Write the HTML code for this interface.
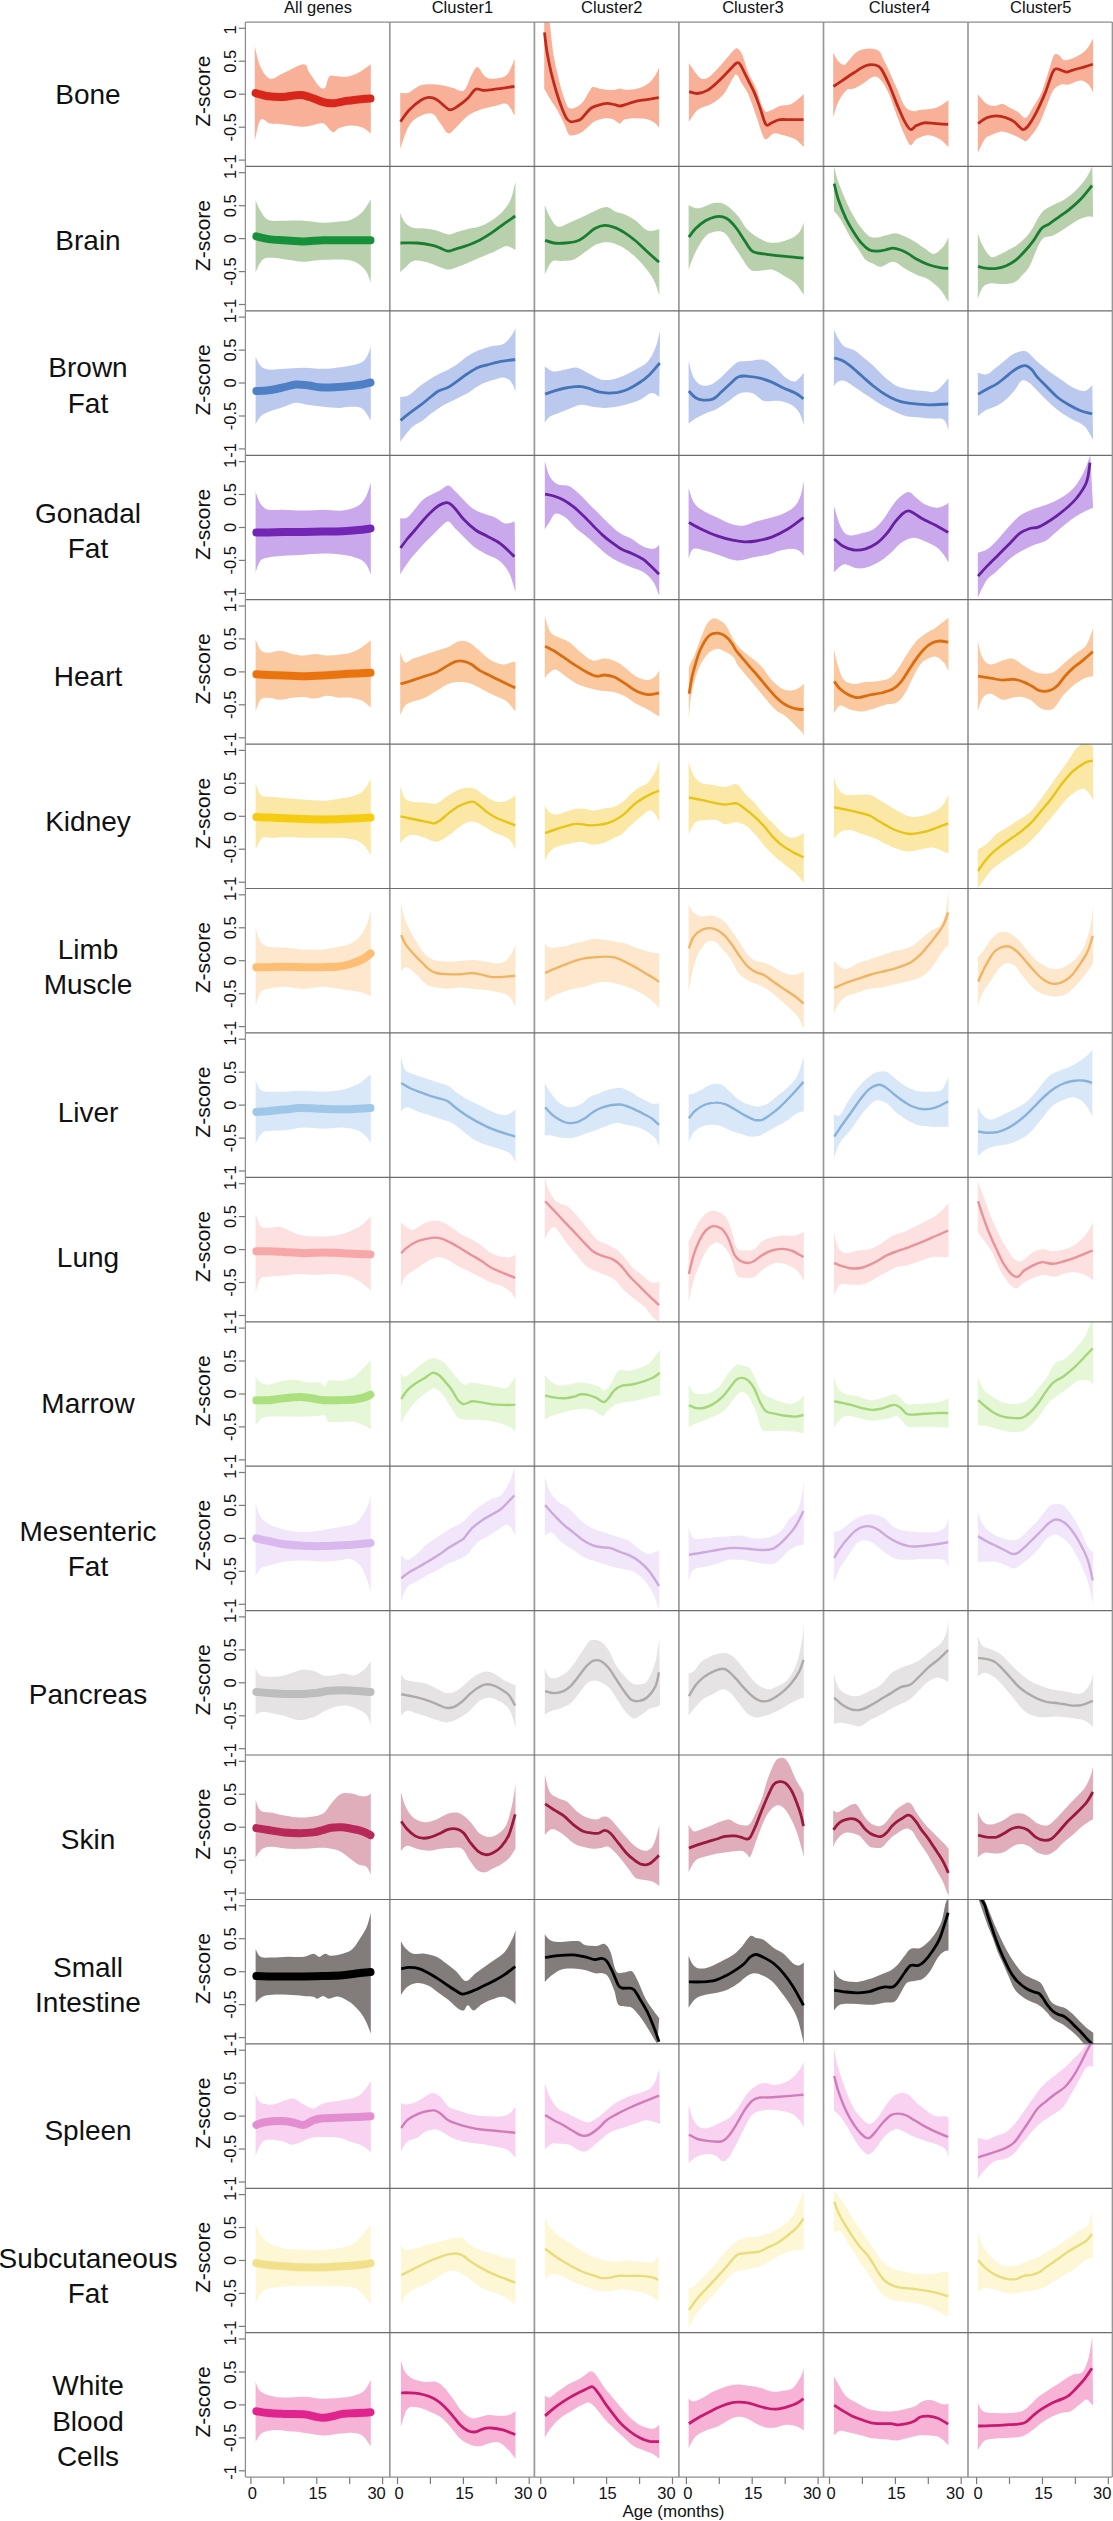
<!DOCTYPE html>
<html><head><meta charset="utf-8"><style>
html,body{margin:0;padding:0;background:#fff;width:1113px;height:2521px;overflow:hidden}
svg{display:block}
</style></head><body>
<svg width="1113" height="2521" viewBox="0 0 1113 2521">
<rect width="1113" height="2521" fill="#fff"/>
<clipPath id="k0_0"><rect x="245.4" y="22.0" width="144.4" height="144.4"/></clipPath>
<g clip-path="url(#k0_0)">
<path d="M254.8 46.2 C255.7 49.7 258.0 61.5 260.6 66.9 C263.2 72.4 266.5 77.7 270.4 78.7 C274.3 79.6 278.5 75.2 284.1 72.8 C289.6 70.4 299.4 64.2 303.6 64.2 C307.9 64.2 306.9 69.1 309.5 72.8 C312.1 76.5 316.7 84.0 319.3 86.5 C321.9 89.0 323.5 89.3 325.1 87.7 C326.7 86.0 327.4 78.7 329.0 76.7 C330.7 74.8 332.0 75.9 334.9 75.9 C337.8 75.9 342.7 77.2 346.6 76.7 C350.5 76.2 354.3 74.9 358.3 72.8 C362.4 70.7 368.8 65.6 370.8 64.2 L370.8 133.4 C369.4 132.4 365.6 128.8 362.3 127.5 C358.9 126.2 354.4 125.4 350.5 125.6 C346.6 125.7 341.7 127.2 338.8 128.3 C335.9 129.4 335.2 132.9 332.9 132.2 C330.7 131.6 327.4 125.8 325.1 124.4 C322.8 123.0 322.8 123.2 319.3 123.6 C315.7 124.0 309.5 126.6 303.6 126.7 C297.8 126.9 289.6 124.9 284.1 124.4 C278.5 123.9 274.3 124.4 270.4 123.6 C266.5 122.8 263.2 116.8 260.6 119.7 C258.0 122.6 255.7 137.6 254.8 141.2 Z" fill="#f8b198"/>
<path d="M255.6 93.1 C257.7 93.7 264.0 95.6 268.5 96.3 C272.9 96.9 276.9 97.2 282.1 97.0 C287.3 96.8 295.2 95.1 299.7 95.1 C304.3 95.1 305.6 95.9 309.5 97.0 C313.4 98.2 319.3 101.1 323.2 102.1 C327.1 103.2 329.0 103.5 332.9 103.3 C336.8 103.1 342.4 101.6 346.6 100.9 C350.9 100.3 354.4 99.8 358.3 99.4 C362.3 99.0 368.5 98.7 370.5 98.6" fill="none" stroke="#d8261a" stroke-width="8.0" stroke-linecap="round" stroke-linejoin="round"/>
</g>
<clipPath id="k0_1"><rect x="389.8" y="22.0" width="144.6" height="144.4"/></clipPath>
<g clip-path="url(#k0_1)">
<path d="M400.2 93.1 C401.7 93.0 405.7 93.7 409.2 92.4 C412.6 91.0 416.3 86.6 420.9 85.3 C425.4 84.0 431.3 84.1 436.5 84.5 C441.7 84.9 447.6 86.7 452.1 87.7 C456.7 88.6 460.6 92.5 463.9 90.4 C467.1 88.2 469.4 78.7 471.7 74.8 C474.0 70.9 475.3 66.6 477.5 66.9 C479.8 67.3 482.4 74.8 485.4 76.7 C488.3 78.7 491.6 79.0 495.1 78.7 C498.7 78.3 503.6 78.0 506.9 74.8 C510.1 71.5 513.4 61.7 514.7 59.1 L514.7 115.8 C513.4 113.8 510.1 105.7 506.9 104.1 C503.6 102.4 499.7 105.1 495.1 106.0 C490.6 107.0 484.1 108.3 479.5 109.9 C474.9 111.6 471.7 112.9 467.8 115.8 C463.9 118.7 459.3 124.6 456.1 127.5 C452.8 130.5 450.8 134.0 448.2 133.4 C445.6 132.7 443.0 126.9 440.4 123.6 C437.8 120.4 435.9 115.1 432.6 113.8 C429.3 112.5 424.8 113.8 420.9 115.8 C417.0 117.8 412.6 120.0 409.2 125.6 C405.7 131.1 401.7 145.1 400.2 149.0 Z" fill="#f8b198"/>
<path d="M400.5 121.7 C401.9 119.7 405.7 113.5 409.2 109.9 C412.6 106.4 417.6 102.3 420.9 100.2 C424.1 98.1 426.1 97.6 428.7 97.4 C431.3 97.3 433.9 98.0 436.5 99.4 C439.1 100.8 442.0 104.3 444.3 106.0 C446.6 107.8 447.9 109.9 450.2 109.9 C452.5 109.9 455.1 108.0 458.0 106.0 C460.9 104.1 464.8 101.0 467.8 98.2 C470.7 95.4 473.0 90.5 475.6 89.2 C478.2 87.9 480.2 90.4 483.4 90.4 C486.7 90.4 490.0 89.9 495.1 89.2 C500.3 88.6 511.2 86.9 514.4 86.5" fill="none" stroke="#bf2a1c" stroke-width="2.8" stroke-linecap="butt" stroke-linejoin="round"/>
</g>
<clipPath id="k0_2"><rect x="534.4" y="22.0" width="144.5" height="144.4"/></clipPath>
<g clip-path="url(#k0_2)">
<path d="M544.2 19.4 C545.0 19.4 547.4 13.5 549.0 19.4 C550.5 25.3 551.7 43.7 553.5 54.6 C555.4 65.4 558.0 76.5 560.1 84.5 C562.1 92.6 564.4 98.9 565.9 102.8 C567.4 106.7 567.8 107.1 569.2 108.0 C570.6 108.9 572.2 108.9 574.4 108.0 C576.6 107.1 579.8 105.4 582.2 102.8 C584.6 100.2 587.0 95.0 588.7 92.4 C590.5 89.7 590.9 87.8 592.6 87.1 C594.4 86.5 596.8 88.0 599.1 88.4 C601.5 88.9 604.4 89.5 607.0 89.7 C609.6 90.0 612.6 90.0 614.8 89.7 C616.9 89.5 618.2 88.4 620.0 88.4 C621.7 88.4 622.2 89.7 625.2 89.7 C628.2 89.7 634.3 89.5 638.2 88.4 C642.1 87.4 645.8 85.4 648.6 83.2 C651.5 81.1 653.4 78.0 655.2 75.4 C656.9 72.8 658.4 68.9 659.1 67.6 L659.1 127.5 C658.2 126.7 656.0 123.7 653.9 122.3 C651.7 120.9 648.6 119.7 646.0 119.1 C643.4 118.4 640.8 118.5 638.2 118.4 C635.6 118.3 632.8 118.2 630.4 118.4 C628.0 118.6 625.6 118.8 623.9 119.7 C622.2 120.6 621.1 123.2 620.0 123.6 C618.9 124.1 618.7 123.1 617.4 122.3 C616.1 121.6 614.3 119.7 612.2 119.1 C610.0 118.4 607.2 118.1 604.4 118.4 C601.5 118.7 597.8 119.7 595.2 121.0 C592.6 122.3 591.1 124.3 588.7 126.2 C586.3 128.2 583.5 131.2 580.9 132.7 C578.3 134.3 575.1 135.1 573.1 135.3 C571.0 135.6 570.0 136.0 568.5 134.0 C567.0 132.1 565.8 127.5 564.0 123.6 C562.1 119.7 559.6 114.5 557.5 110.6 C555.3 106.7 553.2 103.9 550.9 100.2 C548.7 96.5 545.3 90.4 544.2 88.4 Z" fill="#f8b198"/>
<path d="M544.5 32.4 C544.9 35.7 545.9 45.5 547.0 52.0 C548.1 58.5 549.4 65.0 550.9 71.5 C552.5 78.0 554.4 85.2 556.1 91.0 C557.9 96.9 559.6 102.1 561.4 106.7 C563.1 111.2 565.0 115.9 566.6 118.4 C568.1 120.9 569.0 121.2 570.5 121.7 C572.0 122.1 574.0 121.4 575.7 121.0 C577.4 120.6 579.2 120.4 580.9 119.1 C582.6 117.8 584.4 115.0 586.1 113.2 C587.8 111.3 589.4 109.3 591.3 108.0 C593.3 106.7 595.2 106.1 597.8 105.4 C600.4 104.6 604.1 103.5 607.0 103.4 C609.8 103.3 612.6 104.3 614.8 104.7 C616.9 105.2 618.2 106.0 620.0 106.0 C621.7 106.0 623.0 105.4 625.2 104.7 C627.4 104.1 630.2 102.9 633.0 102.1 C635.8 101.4 639.1 100.7 642.1 100.2 C645.2 99.6 648.5 99.3 651.3 98.9 C654.0 98.4 657.5 97.8 658.8 97.6" fill="none" stroke="#bf2a1c" stroke-width="2.8" stroke-linecap="butt" stroke-linejoin="round"/>
</g>
<clipPath id="k0_3"><rect x="678.9" y="22.0" width="144.6" height="144.4"/></clipPath>
<g clip-path="url(#k0_3)">
<path d="M688.9 63.0 C690.1 64.7 693.5 70.2 695.6 72.8 C697.7 75.4 699.2 78.0 701.5 78.7 C703.7 79.3 706.0 79.0 709.3 76.7 C712.5 74.4 717.1 69.2 721.0 65.0 C724.9 60.8 730.0 54.0 732.7 51.3 C735.5 48.6 735.8 47.9 737.4 48.6 C739.0 49.2 740.7 51.2 742.5 55.2 C744.3 59.3 746.1 67.3 748.4 72.8 C750.6 78.3 753.6 82.3 756.2 88.4 C758.8 94.6 761.4 106.4 764.0 109.9 C766.6 113.5 769.2 110.6 771.8 109.9 C774.4 109.3 776.4 107.0 779.6 106.0 C782.9 105.1 787.3 106.0 791.3 104.1 C795.4 102.1 801.8 95.9 803.8 94.3 L803.8 147.1 C802.4 145.8 798.6 141.2 795.3 139.3 C791.9 137.3 787.1 136.3 783.5 135.3 C779.9 134.4 776.7 132.7 773.8 133.4 C770.8 134.0 767.9 139.3 765.9 139.3 C764.0 139.3 763.7 137.3 762.0 133.4 C760.4 129.5 758.4 122.3 756.2 115.8 C753.9 109.3 750.6 99.5 748.4 94.3 C746.1 89.1 744.4 87.8 742.5 84.5 C740.5 81.3 738.3 75.7 736.6 74.8 C735.0 73.8 734.7 75.7 732.7 78.7 C730.8 81.6 727.5 88.8 724.9 92.4 C722.3 95.9 719.7 98.1 717.1 100.2 C714.5 102.3 712.5 103.2 709.3 104.9 C706.0 106.5 700.9 107.1 697.5 109.9 C694.2 112.7 690.4 119.7 688.9 121.7 Z" fill="#f8b198"/>
<path d="M689.2 91.6 C690.6 91.9 694.5 93.7 697.5 93.5 C700.6 93.3 704.1 92.2 707.3 90.4 C710.6 88.6 713.8 85.5 717.1 82.6 C720.3 79.6 723.6 76.1 726.9 72.8 C730.1 69.6 734.3 64.3 736.6 63.0 C738.9 61.7 738.9 62.7 740.5 65.0 C742.2 67.3 744.1 72.2 746.4 76.7 C748.7 81.3 751.9 87.1 754.2 92.4 C756.5 97.6 758.1 102.6 760.1 108.0 C762.0 113.3 764.0 121.9 765.9 124.4 C767.9 126.9 769.5 123.6 771.8 122.8 C774.1 122.1 776.4 120.2 779.6 119.7 C782.9 119.2 787.4 119.7 791.3 119.7 C795.3 119.7 801.5 119.7 803.5 119.7" fill="none" stroke="#bf2a1c" stroke-width="2.8" stroke-linecap="butt" stroke-linejoin="round"/>
</g>
<clipPath id="k0_4"><rect x="823.5" y="22.0" width="144.5" height="144.4"/></clipPath>
<g clip-path="url(#k0_4)">
<path d="M833.2 52.5 C834.0 53.9 836.4 59.0 838.2 61.1 C840.1 63.2 842.2 65.3 844.1 65.0 C846.1 64.7 847.7 61.4 850.0 59.1 C852.2 56.8 854.5 53.1 857.8 51.3 C861.0 49.6 865.9 48.6 869.5 48.6 C873.1 48.6 877.0 49.6 879.3 51.3 C881.6 53.1 881.6 55.9 883.2 59.1 C884.8 62.4 886.8 66.0 889.1 70.9 C891.3 75.7 894.3 82.6 896.9 88.4 C899.5 94.3 902.1 102.3 904.7 106.0 C907.3 109.8 909.9 110.5 912.5 111.1 C915.1 111.8 917.1 110.3 920.3 109.9 C923.6 109.5 928.8 109.4 932.0 108.8 C935.3 108.1 937.1 107.5 939.9 106.0 C942.6 104.6 947.0 101.1 948.5 100.2 L948.5 147.1 C947.0 145.8 943.2 141.2 939.9 139.3 C936.5 137.3 932.0 135.3 928.1 135.3 C924.2 135.3 919.3 137.6 916.4 139.3 C913.5 140.9 912.5 145.8 910.5 145.1 C908.6 144.5 907.0 140.2 904.7 135.3 C902.4 130.5 899.5 122.6 896.9 115.8 C894.3 109.0 891.7 100.2 889.1 94.3 C886.4 88.4 883.8 83.6 881.2 80.6 C878.6 77.7 876.7 76.1 873.4 76.7 C870.2 77.4 864.9 82.6 861.7 84.5 C858.4 86.5 856.5 87.5 853.9 88.4 C851.3 89.4 848.7 88.1 846.1 90.4 C843.5 92.7 840.4 97.6 838.2 102.1 C836.1 106.7 834.0 115.1 833.2 117.8 Z" fill="#f8b198"/>
<path d="M833.5 86.5 C834.9 85.5 838.7 82.9 842.2 80.6 C845.6 78.3 850.0 75.3 853.9 72.8 C857.8 70.3 862.0 67.1 865.6 65.8 C869.2 64.5 872.8 64.5 875.4 65.0 C878.0 65.5 879.0 65.6 881.2 68.9 C883.5 72.2 886.4 78.7 889.1 84.5 C891.7 90.4 894.3 97.9 896.9 104.1 C899.5 110.3 902.4 117.4 904.7 121.7 C907.0 125.9 908.6 128.8 910.5 129.5 C912.5 130.1 914.1 126.7 916.4 125.6 C918.7 124.5 921.0 123.2 924.2 122.8 C927.5 122.5 932.0 123.4 936.0 123.6 C939.9 123.9 946.1 124.3 948.2 124.4" fill="none" stroke="#bf2a1c" stroke-width="2.8" stroke-linecap="butt" stroke-linejoin="round"/>
</g>
<clipPath id="k0_5"><rect x="968.0" y="22.0" width="144.3" height="144.4"/></clipPath>
<g clip-path="url(#k0_5)">
<path d="M977.8 94.3 C979.3 95.9 984.0 102.1 986.8 104.1 C989.6 106.0 992.0 106.0 994.6 106.0 C997.2 106.0 999.8 103.7 1002.4 104.1 C1005.0 104.4 1007.6 106.7 1010.2 108.0 C1012.8 109.3 1015.4 110.3 1018.0 111.9 C1020.6 113.5 1023.2 118.7 1025.8 117.8 C1028.4 116.8 1031.1 110.3 1033.7 106.0 C1036.3 101.8 1038.9 98.5 1041.5 92.4 C1044.1 86.2 1047.2 75.1 1049.3 68.9 C1051.4 62.7 1052.4 57.5 1054.0 55.2 C1055.6 52.9 1057.2 54.4 1059.1 55.2 C1060.9 56.1 1062.0 60.1 1064.9 60.3 C1067.9 60.5 1073.1 58.2 1076.7 56.4 C1080.2 54.6 1083.7 52.4 1086.4 49.4 C1089.2 46.4 1092.0 40.2 1093.1 38.4 L1093.1 92.4 C1092.3 91.0 1090.5 86.5 1088.4 84.5 C1086.3 82.6 1083.8 80.6 1080.6 80.6 C1077.3 80.6 1072.1 83.9 1068.8 84.5 C1065.6 85.2 1063.6 83.6 1061.0 84.5 C1058.4 85.5 1055.5 87.1 1053.2 90.4 C1050.9 93.7 1049.6 98.5 1047.3 104.1 C1045.1 109.6 1042.1 118.4 1039.5 123.6 C1036.9 128.8 1034.0 132.4 1031.7 135.3 C1029.4 138.3 1027.5 140.6 1025.8 141.2 C1024.2 141.9 1023.9 140.2 1021.9 139.3 C1020.0 138.3 1017.4 136.6 1014.1 135.3 C1010.9 134.0 1006.3 131.4 1002.4 131.4 C998.5 131.4 993.6 134.0 990.7 135.3 C987.7 136.6 987.0 136.3 984.8 139.3 C982.7 142.2 978.9 150.7 977.8 152.9 Z" fill="#f8b198"/>
<path d="M978.1 123.6 C979.5 122.6 983.7 119.1 986.8 117.8 C989.8 116.5 993.3 115.8 996.5 115.8 C999.8 115.8 1003.4 116.8 1006.3 117.8 C1009.2 118.7 1011.8 120.0 1014.1 121.7 C1016.4 123.3 1018.4 126.2 1020.0 127.5 C1021.6 128.8 1022.3 130.1 1023.9 129.5 C1025.5 128.8 1027.5 126.9 1029.8 123.6 C1032.0 120.4 1035.0 115.1 1037.6 109.9 C1040.2 104.7 1042.9 98.5 1045.4 92.4 C1047.9 86.2 1050.6 76.7 1052.4 72.8 C1054.2 68.9 1054.6 69.2 1056.3 68.9 C1058.1 68.6 1061.2 70.3 1063.0 70.9 C1064.7 71.4 1065.3 72.2 1066.9 72.0 C1068.5 71.9 1069.8 70.9 1072.7 70.1 C1075.7 69.2 1081.1 67.9 1084.5 66.9 C1087.8 66.0 1091.4 64.7 1092.8 64.2" fill="none" stroke="#bf2a1c" stroke-width="2.8" stroke-linecap="butt" stroke-linejoin="round"/>
</g>
<clipPath id="k1_0"><rect x="245.4" y="166.4" width="144.4" height="144.4"/></clipPath>
<g clip-path="url(#k1_0)">
<path d="M255.6 200.4 C256.4 202.2 258.5 207.7 260.6 210.9 C262.8 214.2 264.5 218.3 268.5 219.9 C272.4 221.6 278.2 220.6 284.1 220.7 C289.9 220.8 297.1 220.4 303.6 220.7 C310.1 221.0 317.3 222.5 323.2 222.7 C329.0 222.8 334.2 222.0 338.8 221.5 C343.4 221.0 346.6 221.5 350.5 219.9 C354.4 218.4 358.9 215.6 362.3 212.1 C365.6 208.7 369.4 201.4 370.8 199.2 L370.8 282.5 C370.1 280.6 368.2 274.7 366.2 271.5 C364.1 268.4 361.6 265.7 358.3 263.7 C355.1 261.8 352.5 260.5 346.6 259.8 C340.8 259.1 330.3 259.5 323.2 259.8 C316.0 260.1 309.5 261.8 303.6 261.8 C297.8 261.8 293.2 260.5 288.0 259.8 C282.8 259.1 276.6 257.8 272.4 257.8 C268.1 257.8 265.4 257.4 262.6 259.8 C259.8 262.2 256.7 270.2 255.6 272.3 Z" fill="#b8d1ac"/>
<path d="M256.4 236.4 C258.4 236.8 263.8 238.4 268.5 239.1 C273.1 239.7 278.2 239.9 284.1 240.3 C289.9 240.6 297.1 241.4 303.6 241.4 C310.1 241.4 316.0 240.5 323.2 240.3 C330.3 240.1 338.7 240.3 346.6 240.3 C354.5 240.3 366.6 240.3 370.5 240.3" fill="none" stroke="#16913a" stroke-width="8.0" stroke-linecap="round" stroke-linejoin="round"/>
</g>
<clipPath id="k1_1"><rect x="389.8" y="166.4" width="144.6" height="144.4"/></clipPath>
<g clip-path="url(#k1_1)">
<path d="M400.2 212.9 C401.0 214.5 403.1 220.2 405.2 222.7 C407.4 225.1 409.8 226.8 413.1 227.8 C416.3 228.7 420.9 228.1 424.8 228.5 C428.7 229.0 432.6 229.5 436.5 230.5 C440.4 231.5 444.7 234.2 448.2 234.4 C451.8 234.6 454.4 232.6 458.0 231.7 C461.6 230.7 466.1 229.4 469.7 228.5 C473.3 227.7 475.9 227.9 479.5 226.6 C483.1 225.3 487.3 223.3 491.2 220.7 C495.1 218.1 499.7 214.5 503.0 210.9 C506.2 207.4 508.7 204.1 510.8 199.2 C512.9 194.3 514.7 184.6 515.5 181.6 L515.5 250.0 C514.0 249.4 510.2 245.9 506.9 246.1 C503.5 246.3 499.7 249.2 495.1 251.2 C490.6 253.2 484.1 255.9 479.5 257.8 C474.9 259.8 471.4 261.4 467.8 262.9 C464.2 264.4 461.3 265.7 458.0 266.8 C454.7 267.9 451.8 269.8 448.2 269.6 C444.7 269.4 440.4 267.0 436.5 265.7 C432.6 264.4 428.7 262.5 424.8 261.8 C420.9 261.0 416.3 260.0 413.1 261.0 C409.8 262.0 407.4 265.7 405.2 267.6 C403.1 269.5 401.0 271.5 400.2 272.3 Z" fill="#b8d1ac"/>
<path d="M400.5 243.0 C403.2 243.0 411.6 242.6 417.0 243.0 C422.3 243.4 428.7 244.5 432.6 245.3 C436.5 246.2 437.8 247.1 440.4 248.1 C443.0 249.1 445.6 251.1 448.2 251.2 C450.8 251.3 452.8 249.8 456.1 248.9 C459.3 247.9 463.9 246.8 467.8 245.3 C471.7 243.9 475.6 242.3 479.5 240.3 C483.4 238.2 487.3 235.8 491.2 233.2 C495.1 230.6 499.0 227.5 503.0 224.6 C506.9 221.8 513.1 217.5 515.2 216.0" fill="none" stroke="#187c31" stroke-width="2.8" stroke-linecap="butt" stroke-linejoin="round"/>
</g>
<clipPath id="k1_2"><rect x="534.4" y="166.4" width="144.5" height="144.4"/></clipPath>
<g clip-path="url(#k1_2)">
<path d="M544.8 205.1 C545.6 207.0 547.7 213.2 549.9 216.8 C552.0 220.4 554.4 225.6 557.7 226.6 C560.9 227.6 565.5 224.2 569.4 222.7 C573.3 221.2 576.9 219.5 581.1 217.6 C585.4 215.6 590.6 212.7 594.8 210.9 C599.0 209.2 602.9 206.8 606.5 207.0 C610.1 207.2 613.0 210.8 616.3 212.1 C619.6 213.4 622.8 213.4 626.1 214.9 C629.3 216.3 632.3 218.1 635.8 220.7 C639.4 223.3 643.7 229.1 647.6 230.5 C651.5 231.9 657.3 229.5 659.3 229.3 L659.3 295.0 C658.3 292.4 656.0 284.2 653.4 279.3 C650.8 274.5 647.2 269.9 643.7 265.7 C640.1 261.4 635.8 257.2 631.9 253.9 C628.0 250.7 624.1 248.1 620.2 246.1 C616.3 244.2 612.4 242.5 608.5 242.2 C604.6 241.9 600.7 242.5 596.8 244.2 C592.8 245.8 588.9 249.4 585.0 252.0 C581.1 254.6 577.2 258.3 573.3 259.8 C569.4 261.3 565.2 260.6 561.6 261.0 C558.0 261.3 554.6 259.5 551.8 261.8 C549.0 264.0 545.9 272.5 544.8 274.7 Z" fill="#b8d1ac"/>
<path d="M545.1 240.3 C546.5 240.7 550.4 242.5 553.8 243.0 C557.2 243.5 561.6 243.3 565.5 243.0 C569.4 242.7 574.0 242.1 577.2 241.0 C580.5 239.9 582.1 238.4 585.0 236.4 C588.0 234.3 591.5 230.4 594.8 228.5 C598.1 226.7 601.3 225.6 604.6 225.4 C607.8 225.2 611.1 226.2 614.3 227.4 C617.6 228.5 620.5 230.2 624.1 232.4 C627.7 234.7 631.9 237.8 635.8 241.0 C639.7 244.3 643.7 248.5 647.6 252.0 C651.4 255.5 657.1 260.5 659.0 262.1" fill="none" stroke="#187c31" stroke-width="2.8" stroke-linecap="butt" stroke-linejoin="round"/>
</g>
<clipPath id="k1_3"><rect x="678.9" y="166.4" width="144.6" height="144.4"/></clipPath>
<g clip-path="url(#k1_3)">
<path d="M688.6 205.1 C689.7 205.6 693.1 207.9 695.6 208.2 C698.1 208.5 700.5 207.9 703.4 207.0 C706.3 206.2 710.2 203.8 713.2 203.1 C716.1 202.5 718.4 202.5 721.0 203.1 C723.6 203.8 725.9 204.8 728.8 207.0 C731.7 209.3 735.6 213.2 738.6 216.8 C741.5 220.4 743.5 225.3 746.4 228.5 C749.3 231.8 752.6 234.1 756.2 236.4 C759.7 238.6 764.0 241.2 767.9 242.2 C771.8 243.2 775.7 242.9 779.6 242.2 C783.5 241.6 788.1 239.9 791.3 238.3 C794.6 236.7 797.1 235.0 799.2 232.4 C801.2 229.8 803.1 224.3 803.8 222.7 L803.8 295.0 C802.4 293.0 798.6 286.5 795.3 283.3 C791.9 280.0 787.4 277.7 783.5 275.4 C779.6 273.2 775.7 270.4 771.8 269.6 C767.9 268.8 763.7 270.7 760.1 270.7 C756.5 270.7 753.6 272.0 750.3 269.6 C747.0 267.1 743.5 260.1 740.5 255.9 C737.6 251.7 735.3 247.9 732.7 244.2 C730.1 240.4 727.8 235.3 724.9 233.2 C722.0 231.1 718.4 231.1 715.1 231.7 C711.9 232.2 708.6 233.0 705.4 236.4 C702.1 239.7 698.4 246.4 695.6 252.0 C692.8 257.5 689.7 266.6 688.6 269.6 Z" fill="#b8d1ac"/>
<path d="M688.9 237.1 C690.0 235.7 692.8 231.3 695.6 228.5 C698.3 225.8 702.1 222.7 705.4 220.7 C708.6 218.8 712.2 217.5 715.1 216.8 C718.1 216.2 720.7 216.3 722.9 216.8 C725.2 217.3 726.5 218.0 728.8 219.9 C731.1 221.9 734.0 225.1 736.6 228.5 C739.2 231.9 741.8 236.5 744.4 240.3 C747.0 244.0 749.0 248.9 752.3 251.2 C755.5 253.5 759.4 253.2 764.0 253.9 C768.5 254.7 774.7 255.4 779.6 255.9 C784.5 256.4 789.3 256.7 793.3 257.1 C797.3 257.5 801.8 258.0 803.5 258.2" fill="none" stroke="#187c31" stroke-width="2.8" stroke-linecap="butt" stroke-linejoin="round"/>
</g>
<clipPath id="k1_4"><rect x="823.5" y="166.4" width="144.5" height="144.4"/></clipPath>
<g clip-path="url(#k1_4)">
<path d="M833.9 166.0 C834.7 168.6 836.2 175.8 838.2 181.6 C840.3 187.5 843.5 195.3 846.1 201.2 C848.7 207.0 851.3 212.2 853.9 216.8 C856.5 221.4 859.1 225.3 861.7 228.5 C864.3 231.8 866.9 234.9 869.5 236.4 C872.1 237.8 874.7 237.7 877.3 237.5 C879.9 237.4 882.2 236.3 885.1 235.6 C888.1 234.9 892.0 233.2 894.9 233.2 C897.8 233.2 899.8 234.4 902.7 235.6 C905.7 236.7 908.9 238.2 912.5 240.3 C916.1 242.3 920.6 245.8 924.2 248.1 C927.8 250.4 930.7 254.3 934.0 253.9 C937.3 253.6 941.4 248.9 943.8 246.1 C946.2 243.3 947.7 238.6 948.5 237.1 L948.5 302.0 C947.0 299.9 943.2 292.9 939.9 289.1 C936.5 285.3 932.0 281.8 928.1 279.3 C924.2 276.9 920.3 276.5 916.4 274.7 C912.5 272.8 908.6 270.5 904.7 268.4 C900.8 266.2 896.9 262.0 893.0 261.8 C889.1 261.5 884.5 266.5 881.2 266.8 C878.0 267.2 876.0 264.9 873.4 263.7 C870.8 262.5 868.2 262.4 865.6 259.8 C863.0 257.2 860.4 252.0 857.8 248.1 C855.2 244.2 852.9 241.2 850.0 236.4 C847.0 231.5 842.9 223.0 840.2 218.8 C837.5 214.5 835.0 212.2 833.9 210.9 Z" fill="#b8d1ac"/>
<path d="M834.2 183.6 C834.9 186.2 836.3 193.4 838.2 199.2 C840.2 205.1 843.5 213.2 846.1 218.8 C848.7 224.3 851.3 228.3 853.9 232.4 C856.5 236.5 859.1 240.5 861.7 243.4 C864.3 246.3 866.9 248.7 869.5 250.0 C872.1 251.3 874.7 251.2 877.3 251.2 C879.9 251.2 882.5 250.6 885.1 250.0 C887.7 249.5 890.4 248.1 893.0 248.1 C895.6 248.1 898.2 249.1 900.8 250.0 C903.4 251.0 906.0 252.4 908.6 253.9 C911.2 255.4 913.2 257.3 916.4 259.0 C919.7 260.8 924.2 263.1 928.1 264.5 C932.0 265.9 936.5 267.0 939.9 267.6 C943.2 268.3 946.8 268.3 948.2 268.4" fill="none" stroke="#187c31" stroke-width="2.8" stroke-linecap="butt" stroke-linejoin="round"/>
</g>
<clipPath id="k1_5"><rect x="968.0" y="166.4" width="144.3" height="144.4"/></clipPath>
<g clip-path="url(#k1_5)">
<path d="M977.8 233.2 C978.6 235.4 980.7 242.2 982.9 246.1 C985.0 250.0 988.1 255.2 990.7 256.7 C993.3 258.2 995.6 256.2 998.5 255.1 C1001.4 254.0 1005.0 251.9 1008.3 250.0 C1011.5 248.2 1014.4 247.1 1018.0 244.2 C1021.6 241.2 1025.8 237.7 1029.8 232.4 C1033.7 227.2 1037.6 217.5 1041.5 212.9 C1045.4 208.3 1049.3 207.4 1053.2 205.1 C1057.1 202.8 1061.0 201.8 1064.9 199.2 C1068.8 196.6 1073.1 193.0 1076.7 189.5 C1080.2 185.9 1083.8 181.6 1086.4 177.7 C1089.0 173.8 1091.3 168.0 1092.3 166.0 L1093.1 216.8 C1092.0 216.8 1089.2 216.2 1086.4 216.8 C1083.7 217.5 1080.2 218.8 1076.7 220.7 C1073.1 222.7 1068.8 226.1 1064.9 228.5 C1061.0 231.0 1057.1 233.6 1053.2 235.6 C1049.3 237.5 1045.4 235.2 1041.5 240.3 C1037.6 245.3 1033.0 259.8 1029.8 265.7 C1026.5 271.5 1024.5 272.6 1021.9 275.4 C1019.3 278.2 1017.4 281.0 1014.1 282.5 C1010.9 283.9 1006.3 283.9 1002.4 284.0 C998.5 284.2 993.9 282.7 990.7 283.3 C987.4 283.8 985.0 284.6 982.9 287.2 C980.7 289.8 978.6 296.9 977.8 298.9 Z" fill="#b8d1ac"/>
<path d="M978.1 266.4 C979.5 266.8 983.7 268.1 986.8 268.4 C989.8 268.7 993.3 268.9 996.5 268.4 C999.8 267.9 1003.0 267.1 1006.3 265.7 C1009.6 264.2 1012.8 262.4 1016.1 259.8 C1019.3 257.2 1022.9 253.3 1025.8 250.0 C1028.8 246.8 1031.1 243.8 1033.7 240.3 C1036.3 236.7 1038.9 231.3 1041.5 228.5 C1044.1 225.8 1046.4 225.8 1049.3 223.8 C1052.2 221.9 1055.8 219.2 1059.1 216.8 C1062.3 214.5 1065.3 212.7 1068.8 209.8 C1072.4 206.8 1076.7 203.3 1080.6 199.2 C1084.4 195.2 1090.1 187.8 1092.0 185.5" fill="none" stroke="#187c31" stroke-width="2.8" stroke-linecap="butt" stroke-linejoin="round"/>
</g>
<clipPath id="k2_0"><rect x="245.4" y="310.8" width="144.4" height="144.4"/></clipPath>
<g clip-path="url(#k2_0)">
<path d="M255.6 357.1 C256.4 358.6 258.5 363.6 260.6 365.7 C262.8 367.8 264.5 369.1 268.5 369.6 C272.4 370.1 278.2 369.2 284.1 368.8 C289.9 368.5 297.1 367.7 303.6 367.7 C310.1 367.7 316.7 369.0 323.2 368.8 C329.7 368.7 336.8 367.7 342.7 366.9 C348.6 366.0 354.4 365.3 358.3 363.8 C362.3 362.3 364.1 360.7 366.2 357.9 C368.2 355.1 370.1 348.8 370.8 347.0 L370.8 420.4 C369.4 418.5 365.6 411.0 362.3 408.7 C358.9 406.4 354.4 406.9 350.5 406.8 C346.6 406.6 343.4 407.9 338.8 407.9 C334.2 407.9 328.4 407.3 323.2 406.8 C318.0 406.2 312.1 405.5 307.5 404.8 C303.0 404.1 299.7 402.5 295.8 402.8 C291.9 403.2 288.6 405.3 284.1 406.8 C279.5 408.3 272.4 410.2 268.5 411.8 C264.5 413.5 262.8 414.4 260.6 416.5 C258.5 418.6 256.4 423.0 255.6 424.3 Z" fill="#bcc9ee"/>
<path d="M256.4 391.1 C258.4 391.0 263.8 391.0 268.5 390.3 C273.1 389.7 279.5 388.2 284.1 387.2 C288.6 386.2 291.9 384.8 295.8 384.5 C299.7 384.2 303.6 384.8 307.5 385.3 C311.4 385.7 314.7 386.9 319.3 387.2 C323.8 387.5 329.7 387.4 334.9 387.2 C340.1 387.0 346.0 386.5 350.5 386.0 C355.1 385.6 358.9 385.1 362.3 384.5 C365.6 383.9 369.2 382.8 370.5 382.5" fill="none" stroke="#4f80c6" stroke-width="8.0" stroke-linecap="round" stroke-linejoin="round"/>
</g>
<clipPath id="k2_1"><rect x="389.8" y="310.8" width="144.6" height="144.4"/></clipPath>
<g clip-path="url(#k2_1)">
<path d="M400.2 397.0 C401.7 396.7 405.7 397.0 409.2 395.0 C412.6 393.1 417.0 388.2 420.9 385.3 C424.8 382.3 428.7 379.7 432.6 377.4 C436.5 375.2 440.4 373.7 444.3 371.6 C448.2 369.5 452.1 367.5 456.1 364.9 C460.0 362.3 463.9 358.4 467.8 355.9 C471.7 353.5 475.6 351.7 479.5 350.1 C483.4 348.5 487.3 347.2 491.2 346.2 C495.1 345.2 499.7 345.8 503.0 344.2 C506.2 342.6 508.7 339.0 510.8 336.4 C512.9 333.8 514.7 329.9 515.5 328.6 L515.5 391.1 C514.7 389.5 512.9 383.6 510.8 381.4 C508.7 379.1 506.2 377.6 503.0 377.4 C499.7 377.3 495.1 379.3 491.2 380.6 C487.3 381.9 483.4 383.2 479.5 385.3 C475.6 387.3 471.7 390.8 467.8 393.1 C463.9 395.4 460.0 397.0 456.1 398.9 C452.1 400.9 448.2 402.5 444.3 404.8 C440.4 407.1 436.2 410.0 432.6 412.6 C429.0 415.2 426.1 418.2 422.8 420.4 C419.6 422.7 416.0 423.8 413.1 426.3 C410.1 428.8 407.4 432.7 405.2 435.3 C403.1 437.9 401.0 440.8 400.2 441.9 Z" fill="#bcc9ee"/>
<path d="M400.5 420.4 C401.9 419.3 405.7 416.0 409.2 413.4 C412.6 410.8 417.3 407.5 420.9 404.8 C424.5 402.1 427.7 399.3 430.6 397.0 C433.6 394.7 435.5 392.7 438.5 391.1 C441.4 389.5 445.0 389.0 448.2 387.2 C451.5 385.5 454.7 382.8 458.0 380.6 C461.3 378.3 464.5 375.7 467.8 373.5 C471.0 371.4 474.3 369.1 477.5 367.7 C480.8 366.2 483.7 365.9 487.3 364.9 C490.9 364.0 494.4 362.7 499.0 361.8 C503.7 360.9 512.5 359.9 515.2 359.5" fill="none" stroke="#4574b8" stroke-width="2.8" stroke-linecap="butt" stroke-linejoin="round"/>
</g>
<clipPath id="k2_2"><rect x="534.4" y="310.8" width="144.5" height="144.4"/></clipPath>
<g clip-path="url(#k2_2)">
<path d="M544.8 366.5 C546.3 367.3 550.3 371.1 553.8 371.6 C557.2 372.1 561.6 370.3 565.5 369.6 C569.4 369.0 573.3 367.0 577.2 367.7 C581.1 368.3 585.0 371.6 588.9 373.5 C592.8 375.5 596.8 378.4 600.7 379.4 C604.6 380.4 608.5 380.0 612.4 379.4 C616.3 378.7 620.2 377.1 624.1 375.5 C628.0 373.9 631.9 371.9 635.8 369.6 C639.7 367.3 644.3 365.4 647.6 361.8 C650.8 358.2 653.3 353.3 655.4 348.1 C657.5 342.9 659.3 333.5 660.1 330.5 L659.3 397.0 C658.0 396.3 654.7 392.6 651.5 393.1 C648.2 393.6 643.7 398.3 639.7 400.1 C635.8 401.9 631.9 402.9 628.0 404.0 C624.1 405.1 620.2 406.1 616.3 406.8 C612.4 407.4 608.5 407.9 604.6 407.9 C600.7 407.9 596.8 407.3 592.8 406.8 C588.9 406.2 585.0 404.5 581.1 404.8 C577.2 405.1 573.3 407.3 569.4 408.7 C565.5 410.1 560.9 412.1 557.7 413.4 C554.4 414.7 552.0 415.0 549.9 416.5 C547.7 418.0 545.6 421.4 544.8 422.4 Z" fill="#bcc9ee"/>
<path d="M545.1 394.2 C546.5 393.7 550.4 392.2 553.8 391.1 C557.2 390.1 561.3 388.8 565.5 388.0 C569.7 387.2 575.3 386.4 579.2 386.4 C583.1 386.5 585.7 387.5 588.9 388.4 C592.2 389.3 595.4 391.1 598.7 391.9 C602.0 392.7 605.2 393.0 608.5 393.1 C611.7 393.1 615.0 392.9 618.2 392.3 C621.5 391.6 624.4 390.8 628.0 389.2 C631.6 387.5 636.2 384.9 639.7 382.5 C643.3 380.1 646.2 378.0 649.5 374.7 C652.9 371.4 658.1 364.9 659.8 363.0" fill="none" stroke="#4574b8" stroke-width="2.8" stroke-linecap="butt" stroke-linejoin="round"/>
</g>
<clipPath id="k2_3"><rect x="678.9" y="310.8" width="144.6" height="144.4"/></clipPath>
<g clip-path="url(#k2_3)">
<path d="M688.6 361.0 C689.4 363.8 691.5 373.4 693.6 377.4 C695.8 381.5 698.5 384.1 701.5 385.3 C704.4 386.4 708.0 385.8 711.2 384.5 C714.5 383.2 717.7 380.2 721.0 377.4 C724.2 374.6 727.8 370.3 730.8 367.7 C733.7 365.1 735.6 362.9 738.6 361.8 C741.5 360.7 744.1 361.4 748.4 361.0 C752.6 360.7 759.4 358.7 764.0 359.9 C768.5 361.0 772.1 364.7 775.7 367.7 C779.3 370.6 782.2 375.2 785.5 377.4 C788.7 379.7 792.2 382.1 795.3 381.4 C798.3 380.6 802.4 374.2 803.8 372.8 L803.8 425.1 C803.1 423.0 801.2 416.0 799.2 412.6 C797.1 409.2 794.6 406.8 791.3 404.8 C788.1 402.8 784.2 401.5 779.6 400.9 C775.1 400.2 768.5 402.2 764.0 400.9 C759.4 399.6 756.2 394.4 752.3 393.1 C748.4 391.8 744.4 391.8 740.5 393.1 C736.6 394.4 732.7 398.3 728.8 400.9 C724.9 403.5 721.0 406.6 717.1 408.7 C713.2 410.8 708.9 411.8 705.4 413.4 C701.8 415.0 698.4 416.8 695.6 418.5 C692.8 420.2 689.7 422.7 688.6 423.6 Z" fill="#bcc9ee"/>
<path d="M688.9 391.1 C690.0 392.2 693.2 396.3 695.6 397.8 C698.0 399.3 700.5 399.9 703.4 400.1 C706.3 400.3 710.2 400.2 713.2 398.9 C716.1 397.6 718.1 394.9 721.0 392.3 C723.9 389.7 727.8 385.9 730.8 383.3 C733.7 380.7 735.6 377.8 738.6 376.7 C741.5 375.5 744.8 376.0 748.4 376.3 C751.9 376.5 756.2 377.2 760.1 378.2 C764.0 379.2 767.9 380.5 771.8 382.1 C775.7 383.8 779.6 386.2 783.5 388.0 C787.4 389.8 791.9 391.3 795.3 393.1 C798.6 394.9 802.2 398.0 803.5 398.9" fill="none" stroke="#4574b8" stroke-width="2.8" stroke-linecap="butt" stroke-linejoin="round"/>
</g>
<clipPath id="k2_4"><rect x="823.5" y="310.8" width="144.5" height="144.4"/></clipPath>
<g clip-path="url(#k2_4)">
<path d="M833.9 329.8 C834.7 331.2 836.5 335.6 838.2 338.4 C839.9 341.1 841.5 344.2 844.1 346.2 C846.7 348.1 850.9 348.5 853.9 350.1 C856.8 351.7 858.4 353.3 861.7 355.9 C864.9 358.6 869.5 362.1 873.4 365.7 C877.3 369.3 881.2 374.1 885.1 377.4 C889.1 380.8 893.0 384.1 896.9 386.0 C900.8 388.0 904.0 388.3 908.6 389.2 C913.2 390.0 919.7 390.8 924.2 391.1 C928.8 391.4 931.9 393.3 936.0 391.1 C940.0 389.0 946.4 380.4 948.5 378.2 L948.5 430.2 C947.7 428.4 946.5 421.6 943.8 419.7 C941.0 417.7 936.6 418.9 932.0 418.5 C927.5 418.1 921.0 417.8 916.4 417.3 C911.8 416.9 908.6 416.9 904.7 415.7 C900.8 414.6 896.9 412.5 893.0 410.7 C889.1 408.8 885.1 407.1 881.2 404.8 C877.3 402.5 873.4 399.6 869.5 397.0 C865.6 394.4 861.7 391.8 857.8 389.2 C853.9 386.6 849.3 382.7 846.1 381.4 C842.8 380.0 840.3 380.6 838.2 381.4 C836.2 382.1 834.7 385.3 833.9 386.0 Z" fill="#bcc9ee"/>
<path d="M834.2 357.9 C835.6 358.4 839.5 359.3 842.2 360.6 C844.8 361.9 847.4 363.8 850.0 365.7 C852.6 367.7 855.2 370.1 857.8 372.4 C860.4 374.6 863.0 377.1 865.6 379.4 C868.2 381.7 870.8 384.0 873.4 386.0 C876.0 388.1 878.3 389.9 881.2 391.9 C884.2 393.9 887.7 396.1 891.0 397.8 C894.3 399.4 897.2 400.7 900.8 401.7 C904.4 402.7 907.9 403.1 912.5 403.6 C917.1 404.1 922.2 404.7 928.1 404.8 C934.1 404.9 944.8 404.1 948.2 404.0" fill="none" stroke="#4574b8" stroke-width="2.8" stroke-linecap="butt" stroke-linejoin="round"/>
</g>
<clipPath id="k2_5"><rect x="968.0" y="310.8" width="144.3" height="144.4"/></clipPath>
<g clip-path="url(#k2_5)">
<path d="M977.8 372.8 C979.3 373.0 984.0 375.0 986.8 374.3 C989.6 373.7 992.0 370.8 994.6 368.8 C997.2 366.9 999.8 364.7 1002.4 362.6 C1005.0 360.4 1007.6 357.7 1010.2 355.9 C1012.8 354.2 1015.4 352.8 1018.0 352.0 C1020.6 351.3 1023.6 350.6 1025.8 351.3 C1028.1 351.9 1029.8 354.2 1031.7 355.9 C1033.7 357.7 1034.6 359.2 1037.6 361.8 C1040.5 364.4 1045.4 368.6 1049.3 371.6 C1053.2 374.5 1057.1 376.8 1061.0 379.4 C1064.9 382.0 1068.8 385.3 1072.7 387.2 C1076.7 389.2 1081.2 391.4 1084.5 391.1 C1087.7 390.8 1091.0 386.2 1092.3 385.3 L1093.1 440.0 C1091.6 437.7 1087.9 429.7 1084.5 426.3 C1081.1 422.9 1076.7 421.9 1072.7 419.7 C1068.8 417.4 1064.9 415.4 1061.0 412.6 C1057.1 409.8 1053.2 406.4 1049.3 402.8 C1045.4 399.3 1040.8 394.4 1037.6 391.1 C1034.3 387.9 1032.4 385.1 1029.8 383.3 C1027.1 381.5 1024.5 379.3 1021.9 380.6 C1019.3 381.9 1017.0 387.7 1014.1 391.1 C1011.2 394.5 1007.6 398.3 1004.3 400.9 C1001.1 403.5 997.8 405.1 994.6 406.8 C991.3 408.4 987.6 409.0 984.8 410.7 C982.0 412.3 978.9 415.5 977.8 416.5 Z" fill="#bcc9ee"/>
<path d="M978.1 394.2 C979.5 393.4 983.7 390.9 986.8 389.2 C989.8 387.5 993.6 385.9 996.5 384.1 C999.5 382.3 1001.7 380.3 1004.3 378.2 C1007.0 376.1 1009.6 373.5 1012.2 371.6 C1014.8 369.7 1017.7 367.9 1020.0 366.9 C1022.3 365.9 1023.9 365.3 1025.8 365.7 C1027.8 366.2 1029.8 367.7 1031.7 369.6 C1033.7 371.6 1035.0 374.5 1037.6 377.4 C1040.2 380.4 1044.1 384.0 1047.3 387.2 C1050.6 390.5 1053.5 394.1 1057.1 397.0 C1060.7 399.9 1064.9 402.5 1068.8 404.8 C1072.7 407.1 1076.7 409.2 1080.6 410.7 C1084.4 412.2 1090.1 413.3 1092.0 413.8" fill="none" stroke="#4574b8" stroke-width="2.8" stroke-linecap="butt" stroke-linejoin="round"/>
</g>
<clipPath id="k3_0"><rect x="245.4" y="455.3" width="144.4" height="144.4"/></clipPath>
<g clip-path="url(#k3_0)">
<path d="M255.6 492.1 C256.4 494.1 258.5 500.9 260.6 503.9 C262.8 506.8 264.5 508.7 268.5 509.7 C272.4 510.7 278.2 509.6 284.1 509.7 C289.9 509.8 297.1 510.5 303.6 510.5 C310.1 510.5 316.7 509.7 323.2 509.7 C329.7 509.7 336.8 511.2 342.7 510.5 C348.6 509.8 354.4 508.2 358.3 505.8 C362.3 503.4 364.1 499.9 366.2 496.0 C368.2 492.1 370.1 484.6 370.8 482.4 L370.8 574.2 C370.1 572.6 368.2 567.0 366.2 564.4 C364.1 561.8 362.3 560.2 358.3 558.6 C354.4 556.9 348.6 555.5 342.7 554.7 C336.8 553.8 329.7 553.5 323.2 553.5 C316.7 553.5 310.1 554.3 303.6 554.7 C297.1 555.1 289.9 555.4 284.1 555.8 C278.2 556.3 272.4 556.6 268.5 557.4 C264.5 558.2 262.8 558.1 260.6 560.5 C258.5 563.0 256.4 570.3 255.6 572.3 Z" fill="#c9a8eb"/>
<path d="M256.4 532.4 C258.4 532.4 263.8 532.5 268.5 532.4 C273.1 532.3 278.2 532.1 284.1 532.0 C289.9 531.9 297.1 532.1 303.6 532.0 C310.1 531.9 316.7 531.7 323.2 531.6 C329.7 531.5 336.8 531.5 342.7 531.2 C348.6 531.0 353.7 530.5 358.3 530.0 C363.0 529.6 368.5 528.7 370.5 528.5" fill="none" stroke="#7326b5" stroke-width="8.0" stroke-linecap="round" stroke-linejoin="round"/>
</g>
<clipPath id="k3_1"><rect x="389.8" y="455.3" width="144.6" height="144.4"/></clipPath>
<g clip-path="url(#k3_1)">
<path d="M400.2 518.3 C401.3 518.2 404.7 519.1 407.2 517.5 C409.7 516.0 412.4 511.9 415.0 508.9 C417.6 506.0 419.9 502.4 422.8 499.9 C425.8 497.5 429.7 495.7 432.6 494.1 C435.5 492.5 437.8 491.6 440.4 490.2 C443.0 488.7 446.0 485.5 448.2 485.5 C450.5 485.5 451.8 488.1 454.1 490.2 C456.4 492.3 459.0 495.1 461.9 498.0 C464.8 500.9 468.1 505.2 471.7 507.8 C475.3 510.4 479.5 512.0 483.4 513.6 C487.3 515.3 491.6 515.9 495.1 517.5 C498.7 519.2 501.6 522.7 504.9 523.4 C508.2 524.0 513.0 521.8 514.7 521.4 L515.5 591.8 C514.4 588.5 511.5 577.5 508.8 572.3 C506.1 567.0 502.6 563.5 499.0 560.5 C495.5 557.6 491.2 556.7 487.3 554.7 C483.4 552.6 479.2 550.6 475.6 548.0 C472.0 545.4 469.1 542.2 465.8 539.0 C462.6 535.9 459.0 532.2 456.1 529.3 C453.1 526.3 450.8 521.8 448.2 521.4 C445.6 521.1 443.0 525.0 440.4 527.3 C437.8 529.6 435.5 532.2 432.6 535.1 C429.7 538.1 426.1 541.4 422.8 544.9 C419.6 548.3 416.0 552.3 413.1 555.8 C410.1 559.4 407.4 563.3 405.2 566.4 C403.1 569.4 401.0 572.9 400.2 574.2 Z" fill="#c9a8eb"/>
<path d="M400.5 548.0 C401.6 546.5 404.8 542.0 407.2 539.0 C409.6 536.0 412.4 533.1 415.0 530.0 C417.6 527.0 420.2 523.6 422.8 520.7 C425.4 517.7 428.0 514.9 430.6 512.5 C433.3 510.0 435.9 507.4 438.5 505.8 C441.1 504.2 444.3 503.0 446.3 502.7 C448.2 502.4 448.6 502.7 450.2 503.9 C451.8 505.0 453.8 507.1 456.1 509.7 C458.3 512.3 460.6 516.1 463.9 519.5 C467.1 522.9 471.7 527.2 475.6 530.0 C479.5 532.8 483.1 533.9 487.3 536.3 C491.6 538.6 496.5 540.7 501.0 544.1 C505.5 547.5 512.1 554.5 514.4 556.6" fill="none" stroke="#6620a0" stroke-width="2.8" stroke-linecap="butt" stroke-linejoin="round"/>
</g>
<clipPath id="k3_2"><rect x="534.4" y="455.3" width="144.5" height="144.4"/></clipPath>
<g clip-path="url(#k3_2)">
<path d="M544.8 460.9 C545.6 463.5 547.7 472.6 549.9 476.5 C552.0 480.4 554.4 482.7 557.7 484.3 C560.9 485.9 565.8 484.6 569.4 486.3 C573.0 487.9 575.9 491.2 579.2 494.1 C582.4 497.0 585.7 500.6 588.9 503.9 C592.2 507.1 595.4 510.4 598.7 513.6 C602.0 516.9 604.9 520.1 608.5 523.4 C612.1 526.7 616.3 530.6 620.2 533.2 C624.1 535.8 628.0 536.7 631.9 539.0 C635.8 541.3 640.1 545.2 643.7 546.8 C647.2 548.5 650.8 549.1 653.4 548.8 C656.0 548.5 658.3 545.5 659.3 544.9 L659.3 595.7 C658.3 593.4 656.0 585.9 653.4 582.0 C650.8 578.1 647.2 574.7 643.7 572.3 C640.1 569.8 635.8 569.2 631.9 567.6 C628.0 565.9 624.1 564.4 620.2 562.5 C616.3 560.5 612.4 558.6 608.5 555.8 C604.6 553.0 600.3 548.8 596.8 545.7 C593.2 542.5 590.2 539.8 587.0 537.1 C583.7 534.3 580.8 532.5 577.2 529.3 C573.6 526.0 569.1 520.1 565.5 517.5 C561.9 514.9 558.3 513.0 555.7 513.6 C553.1 514.3 551.7 518.8 549.9 521.4 C548.0 524.0 545.6 528.0 544.8 529.3 Z" fill="#c9a8eb"/>
<path d="M545.1 494.1 C546.5 494.4 550.7 495.1 553.8 496.0 C556.8 497.0 560.3 498.2 563.5 499.9 C566.8 501.7 570.0 504.0 573.3 506.6 C576.6 509.2 579.8 512.5 583.1 515.6 C586.3 518.7 589.6 522.1 592.8 525.4 C596.1 528.6 599.4 532.2 602.6 535.1 C605.9 538.1 609.1 540.5 612.4 542.9 C615.6 545.3 618.9 547.8 622.2 549.6 C625.4 551.3 628.3 551.8 631.9 553.5 C635.5 555.2 639.1 556.3 643.7 559.7 C648.2 563.2 656.4 571.8 659.0 574.2" fill="none" stroke="#6620a0" stroke-width="2.8" stroke-linecap="butt" stroke-linejoin="round"/>
</g>
<clipPath id="k3_3"><rect x="678.9" y="455.3" width="144.6" height="144.4"/></clipPath>
<g clip-path="url(#k3_3)">
<path d="M688.6 488.2 C689.4 490.5 691.5 498.3 693.6 501.9 C695.8 505.5 697.5 507.1 701.5 509.7 C705.4 512.3 711.9 515.1 717.1 517.5 C722.3 520.0 728.2 523.3 732.7 524.6 C737.3 525.9 740.5 525.9 744.4 525.4 C748.4 524.8 751.6 522.7 756.2 521.4 C760.7 520.1 767.2 518.8 771.8 517.5 C776.4 516.2 779.6 515.6 783.5 513.6 C787.4 511.7 792.3 509.1 795.3 505.8 C798.2 502.6 799.7 498.3 801.1 494.1 C802.5 489.8 803.4 482.7 803.8 480.4 L803.8 555.8 C803.1 555.0 801.2 551.9 799.2 550.8 C797.1 549.6 794.6 548.8 791.3 548.8 C788.1 548.8 783.5 549.8 779.6 550.8 C775.7 551.7 772.5 553.6 767.9 554.7 C763.3 555.8 757.5 556.4 752.3 557.4 C747.0 558.4 741.8 560.8 736.6 560.5 C731.4 560.3 726.2 557.5 721.0 555.8 C715.8 554.2 709.9 551.9 705.4 550.8 C700.8 549.6 696.4 547.5 693.6 548.8 C690.8 550.1 689.4 556.9 688.6 558.6 Z" fill="#c9a8eb"/>
<path d="M688.9 522.6 C691.0 523.7 696.7 527.0 701.5 529.3 C706.2 531.5 711.9 534.1 717.1 535.9 C722.3 537.7 728.2 539.2 732.7 540.2 C737.3 541.2 740.5 541.6 744.4 541.8 C748.4 541.9 751.6 541.8 756.2 541.0 C760.7 540.2 766.6 539.0 771.8 537.1 C777.0 535.1 782.1 532.5 787.4 529.3 C792.7 526.0 800.9 519.5 803.5 517.5" fill="none" stroke="#6620a0" stroke-width="2.8" stroke-linecap="butt" stroke-linejoin="round"/>
</g>
<clipPath id="k3_4"><rect x="823.5" y="455.3" width="144.5" height="144.4"/></clipPath>
<g clip-path="url(#k3_4)">
<path d="M833.9 505.8 C835.0 509.1 837.9 520.5 840.2 525.4 C842.5 530.2 844.4 533.8 848.0 535.1 C851.6 536.4 857.5 534.1 861.7 533.2 C865.9 532.2 869.8 531.5 873.4 529.3 C877.0 527.0 880.3 523.1 883.2 519.5 C886.1 515.9 888.4 511.3 891.0 507.8 C893.6 504.2 895.9 500.6 898.8 498.0 C901.8 495.4 905.7 492.1 908.6 492.1 C911.5 492.1 913.8 496.0 916.4 498.0 C919.0 499.9 921.0 502.2 924.2 503.9 C927.5 505.5 932.7 507.4 936.0 507.8 C939.2 508.1 941.7 506.7 943.8 505.8 C945.9 505.0 947.7 503.2 948.5 502.7 L948.5 562.5 C947.7 561.2 945.9 557.3 943.8 554.7 C941.7 552.1 939.2 549.1 936.0 546.8 C932.7 544.6 928.1 542.5 924.2 541.0 C920.3 539.5 916.4 537.5 912.5 537.9 C908.6 538.2 904.4 540.5 900.8 542.9 C897.2 545.4 894.3 549.8 891.0 552.7 C887.7 555.6 884.8 558.2 881.2 560.5 C877.7 562.8 873.4 565.1 869.5 566.4 C865.6 567.7 861.7 568.7 857.8 568.3 C853.9 568.0 849.0 564.8 846.1 564.4 C843.1 564.1 842.2 565.1 840.2 566.4 C838.2 567.7 835.0 571.3 833.9 572.3 Z" fill="#c9a8eb"/>
<path d="M834.2 539.0 C835.6 540.1 838.9 543.8 842.2 545.7 C845.4 547.5 850.0 549.5 853.9 550.0 C857.8 550.5 861.7 550.0 865.6 548.8 C869.5 547.6 873.7 545.5 877.3 542.9 C880.9 540.3 884.2 536.6 887.1 533.2 C890.0 529.7 892.3 525.5 894.9 522.2 C897.5 519.0 900.5 515.5 902.7 513.6 C905.0 511.7 906.6 510.9 908.6 510.9 C910.5 510.9 912.2 512.3 914.5 513.6 C916.7 514.9 918.7 516.8 922.3 518.7 C925.9 520.7 931.6 523.1 936.0 525.4 C940.3 527.6 946.1 531.2 948.2 532.4" fill="none" stroke="#6620a0" stroke-width="2.8" stroke-linecap="butt" stroke-linejoin="round"/>
</g>
<clipPath id="k3_5"><rect x="968.0" y="455.3" width="144.3" height="144.4"/></clipPath>
<g clip-path="url(#k3_5)">
<path d="M977.8 552.7 C979.3 552.2 983.6 551.5 986.8 549.6 C989.9 547.6 992.9 544.7 996.5 541.0 C1000.1 537.3 1004.3 531.5 1008.3 527.3 C1012.2 523.1 1016.1 518.5 1020.0 515.6 C1023.9 512.6 1027.8 511.3 1031.7 509.7 C1035.6 508.1 1039.5 507.2 1043.4 505.8 C1047.3 504.4 1051.2 503.1 1055.2 501.1 C1059.1 499.2 1063.3 496.9 1066.9 494.1 C1070.5 491.3 1073.7 488.2 1076.7 484.3 C1079.6 480.4 1082.2 475.5 1084.5 470.6 C1086.7 465.7 1089.4 457.6 1090.3 455.0 L1093.1 507.8 C1092.3 508.1 1090.5 508.7 1088.4 509.7 C1086.3 510.7 1083.8 511.7 1080.6 513.6 C1077.3 515.6 1072.7 518.5 1068.8 521.4 C1064.9 524.4 1061.0 528.0 1057.1 531.2 C1053.2 534.5 1049.3 538.7 1045.4 541.0 C1041.5 543.3 1037.6 543.3 1033.7 544.9 C1029.8 546.5 1025.8 548.5 1021.9 550.8 C1018.0 553.0 1014.4 555.1 1010.2 558.6 C1006.0 562.0 1000.4 567.9 996.5 571.5 C992.6 575.1 989.9 575.7 986.8 580.1 C983.6 584.4 979.3 594.7 977.8 597.7 Z" fill="#c9a8eb"/>
<path d="M978.1 576.2 C979.5 574.5 983.4 570.0 986.8 566.4 C990.2 562.8 994.6 558.6 998.5 554.7 C1002.4 550.8 1006.6 546.5 1010.2 542.9 C1013.8 539.4 1016.7 535.6 1020.0 533.2 C1023.2 530.8 1026.8 529.5 1029.8 528.5 C1032.7 527.5 1034.6 528.3 1037.6 527.3 C1040.5 526.3 1044.1 524.2 1047.3 522.2 C1050.6 520.3 1053.9 518.0 1057.1 515.6 C1060.4 513.2 1063.6 510.7 1066.9 507.8 C1070.1 504.8 1073.4 502.2 1076.7 498.0 C1079.9 493.8 1084.2 488.2 1086.4 482.4 C1088.7 476.5 1089.4 466.1 1090.0 462.8" fill="none" stroke="#6620a0" stroke-width="2.8" stroke-linecap="butt" stroke-linejoin="round"/>
</g>
<clipPath id="k4_0"><rect x="245.4" y="599.7" width="144.4" height="144.4"/></clipPath>
<g clip-path="url(#k4_0)">
<path d="M255.6 639.1 C256.4 640.9 258.5 647.7 260.6 650.0 C262.8 652.3 265.2 652.6 268.5 652.8 C271.7 652.9 276.3 650.6 280.2 650.8 C284.1 651.0 288.0 653.2 291.9 653.9 C295.8 654.7 299.7 655.5 303.6 655.5 C307.5 655.5 311.4 653.9 315.4 653.9 C319.3 653.9 323.2 655.4 327.1 655.5 C331.0 655.6 334.9 655.2 338.8 654.7 C342.7 654.3 346.6 654.1 350.5 652.8 C354.4 651.5 358.9 649.0 362.3 646.9 C365.6 644.8 369.4 641.4 370.8 640.3 L370.8 707.5 C369.4 706.4 365.6 702.5 362.3 700.8 C358.9 699.2 354.4 698.2 350.5 697.7 C346.6 697.2 342.7 698.0 338.8 697.7 C334.9 697.4 331.0 695.6 327.1 695.8 C323.2 695.9 319.3 698.3 315.4 698.5 C311.4 698.7 307.5 697.1 303.6 696.9 C299.7 696.8 295.8 697.3 291.9 697.7 C288.0 698.2 284.1 699.7 280.2 699.7 C276.3 699.7 271.7 697.7 268.5 697.7 C265.2 697.7 262.8 697.4 260.6 699.7 C258.5 701.9 256.4 709.4 255.6 711.4 Z" fill="#fbc9a0"/>
<path d="M256.4 674.3 C258.4 674.4 263.8 674.8 268.5 675.0 C273.1 675.2 278.2 675.2 284.1 675.4 C289.9 675.6 297.1 676.2 303.6 676.2 C310.1 676.2 316.7 675.8 323.2 675.4 C329.7 675.1 336.8 674.6 342.7 674.3 C348.6 673.9 353.7 673.7 358.3 673.5 C363.0 673.2 368.5 672.8 370.5 672.7" fill="none" stroke="#e8730f" stroke-width="8.0" stroke-linecap="round" stroke-linejoin="round"/>
</g>
<clipPath id="k4_1"><rect x="389.8" y="599.7" width="144.6" height="144.4"/></clipPath>
<g clip-path="url(#k4_1)">
<path d="M400.2 652.8 C401.0 654.4 403.1 661.6 405.2 662.5 C407.4 663.5 409.8 659.9 413.1 658.6 C416.3 657.3 420.9 656.0 424.8 654.7 C428.7 653.4 432.6 652.1 436.5 650.8 C440.4 649.5 444.3 648.5 448.2 646.9 C452.1 645.3 456.4 641.7 460.0 641.0 C463.5 640.4 466.5 641.4 469.7 643.0 C473.0 644.6 475.9 647.9 479.5 650.8 C483.1 653.7 487.3 658.3 491.2 660.6 C495.1 662.9 499.7 664.2 503.0 664.5 C506.2 664.8 508.7 663.0 510.8 662.5 C512.9 662.1 514.7 661.9 515.5 661.8 L515.5 711.4 C514.0 709.8 510.2 704.2 506.9 701.6 C503.5 699.0 499.0 697.7 495.1 695.8 C491.2 693.8 487.3 691.8 483.4 689.9 C479.5 687.9 475.6 685.3 471.7 684.0 C467.8 682.7 463.9 682.1 460.0 682.1 C456.1 682.1 452.1 682.6 448.2 684.0 C444.3 685.5 440.4 688.4 436.5 690.7 C432.6 693.0 428.7 695.9 424.8 697.7 C420.9 699.5 416.3 700.3 413.1 701.6 C409.8 702.9 407.4 703.2 405.2 705.5 C403.1 707.8 401.0 713.7 400.2 715.3 Z" fill="#fbc9a0"/>
<path d="M400.5 684.0 C402.6 683.4 409.0 681.4 413.1 680.1 C417.1 678.8 420.9 677.5 424.8 676.2 C428.7 674.9 432.9 673.9 436.5 672.3 C440.1 670.7 443.0 668.3 446.3 666.4 C449.5 664.6 453.1 662.2 456.1 661.4 C459.0 660.5 461.3 660.8 463.9 661.4 C466.5 661.9 469.1 663.0 471.7 664.5 C474.3 666.0 476.2 668.4 479.5 670.4 C482.8 672.3 487.3 674.3 491.2 676.2 C495.1 678.2 499.0 680.1 503.0 682.1 C506.9 684.0 513.1 687.0 515.2 687.9" fill="none" stroke="#d96d12" stroke-width="2.8" stroke-linecap="butt" stroke-linejoin="round"/>
</g>
<clipPath id="k4_2"><rect x="534.4" y="599.7" width="144.5" height="144.4"/></clipPath>
<g clip-path="url(#k4_2)">
<path d="M544.8 615.6 C545.6 618.2 547.7 627.7 549.9 631.3 C552.0 634.8 554.4 635.3 557.7 637.1 C560.9 639.0 565.5 639.6 569.4 642.2 C573.3 644.8 577.2 649.7 581.1 652.8 C585.0 655.8 588.9 659.6 592.8 660.6 C596.8 661.6 600.7 658.4 604.6 658.6 C608.5 658.8 612.7 660.1 616.3 661.8 C619.9 663.4 622.8 666.0 626.1 668.4 C629.3 670.8 632.3 674.3 635.8 676.2 C639.4 678.2 644.3 680.1 647.6 680.1 C650.8 680.1 653.4 677.8 655.4 676.2 C657.3 674.6 658.6 671.3 659.3 670.4 L659.3 716.5 C657.3 715.3 651.5 711.6 647.6 709.4 C643.7 707.3 639.7 705.9 635.8 703.6 C631.9 701.3 628.0 697.7 624.1 695.8 C620.2 693.8 616.3 692.7 612.4 691.8 C608.5 691.0 604.6 691.3 600.7 690.7 C596.8 690.0 592.8 689.0 588.9 687.9 C585.0 686.8 581.1 686.0 577.2 684.0 C573.3 682.1 569.1 678.6 565.5 676.2 C561.9 673.8 558.3 670.2 555.7 669.6 C553.1 668.9 551.7 670.9 549.9 672.3 C548.0 673.7 545.6 677.2 544.8 678.2 Z" fill="#fbc9a0"/>
<path d="M545.1 646.1 C546.5 646.9 550.4 648.7 553.8 650.8 C557.2 652.9 561.6 656.0 565.5 658.6 C569.4 661.2 573.6 664.2 577.2 666.4 C580.8 668.7 583.7 670.7 587.0 672.3 C590.2 673.9 593.8 675.8 596.8 676.2 C599.7 676.7 601.6 674.9 604.6 675.0 C607.5 675.2 611.1 675.7 614.3 677.0 C617.6 678.3 620.5 680.6 624.1 682.9 C627.7 685.1 631.9 688.7 635.8 690.7 C639.7 692.6 643.7 694.2 647.6 694.6 C651.4 695.0 657.1 693.3 659.0 693.0" fill="none" stroke="#d96d12" stroke-width="2.8" stroke-linecap="butt" stroke-linejoin="round"/>
</g>
<clipPath id="k4_3"><rect x="678.9" y="599.7" width="144.6" height="144.4"/></clipPath>
<g clip-path="url(#k4_3)">
<path d="M688.8 667.7 C689.1 666.9 689.7 664.7 690.7 662.5 C691.7 660.4 693.3 657.8 694.6 654.7 C695.9 651.7 697.2 647.8 698.5 644.3 C699.8 640.8 701.1 637.1 702.5 633.9 C703.8 630.6 705.1 627.0 706.4 624.8 C707.7 622.5 709.0 621.3 710.3 620.2 C711.6 619.1 712.9 618.3 714.2 618.2 C715.5 618.1 716.6 618.8 718.1 619.5 C719.6 620.3 721.8 621.5 723.3 622.8 C724.8 624.1 725.7 624.9 727.2 627.4 C728.7 629.9 730.7 634.7 732.4 637.8 C734.2 640.8 735.7 643.2 737.6 645.6 C739.6 648.0 742.0 650.2 744.1 652.1 C746.3 654.1 748.5 655.6 750.7 657.3 C752.8 659.1 755.0 660.6 757.2 662.5 C759.3 664.5 761.5 666.4 763.7 669.0 C765.9 671.7 768.0 675.6 770.2 678.2 C772.4 680.8 774.5 682.8 776.7 684.7 C778.9 686.5 781.1 688.3 783.2 689.2 C785.4 690.2 787.6 690.5 789.7 690.5 C791.9 690.5 794.4 689.9 796.3 689.2 C798.1 688.6 799.6 687.6 800.8 686.6 C802.1 685.7 803.3 683.9 803.8 683.4 L803.8 735.5 C803.4 734.8 802.7 733.1 801.5 731.6 C800.2 730.1 798.2 728.3 796.3 726.4 C794.3 724.4 791.9 721.8 789.7 719.9 C787.6 717.9 785.4 716.2 783.2 714.6 C781.1 713.1 778.9 712.5 776.7 710.7 C774.5 709.0 772.4 706.6 770.2 704.2 C768.0 701.8 765.9 699.0 763.7 696.4 C761.5 693.8 759.3 691.2 757.2 688.6 C755.0 686.0 752.8 683.4 750.7 680.8 C748.5 678.2 746.3 675.6 744.1 673.0 C742.0 670.4 739.4 667.7 737.6 665.1 C735.9 662.5 735.2 659.3 733.7 657.3 C732.2 655.4 730.5 654.6 728.5 653.4 C726.6 652.2 723.9 650.9 722.0 650.2 C720.0 649.4 718.5 648.7 716.8 648.9 C715.0 649.0 713.2 649.8 711.6 650.8 C709.9 651.8 708.5 653.0 707.0 654.7 C705.5 656.5 703.9 658.8 702.5 661.2 C701.0 663.6 699.8 665.8 698.5 669.0 C697.2 672.3 695.9 675.8 694.6 680.8 C693.3 685.8 691.7 692.5 690.7 699.0 C689.7 705.5 689.1 716.4 688.8 719.9 Z" fill="#fbc9a0"/>
<path d="M689.1 693.8 C689.6 691.0 690.9 682.1 692.0 676.9 C693.2 671.7 694.6 666.9 695.9 662.5 C697.2 658.2 698.4 654.3 699.8 650.8 C701.3 647.3 702.9 644.2 704.4 641.7 C705.9 639.2 707.6 637.2 709.0 635.8 C710.4 634.5 711.4 634.0 712.9 633.6 C714.4 633.2 716.3 633.0 718.1 633.2 C719.8 633.4 721.7 634.0 723.3 634.9 C724.9 635.8 726.3 636.9 727.9 638.4 C729.4 640.0 731.0 642.2 732.4 644.3 C733.8 646.4 734.6 648.4 736.3 650.8 C738.1 653.2 740.7 656.0 742.8 658.6 C745.0 661.2 747.2 663.9 749.4 666.4 C751.5 668.9 753.7 671.1 755.9 673.6 C758.0 676.1 760.2 678.8 762.4 681.4 C764.5 684.0 766.7 686.7 768.9 689.2 C771.1 691.7 773.2 694.2 775.4 696.4 C777.6 698.6 779.7 700.6 781.9 702.3 C784.1 703.9 786.0 705.1 788.4 706.2 C790.8 707.3 793.7 708.2 796.3 708.8 C798.8 709.4 802.3 709.5 803.5 709.7" fill="none" stroke="#d96d12" stroke-width="2.8" stroke-linecap="butt" stroke-linejoin="round"/>
</g>
<clipPath id="k4_4"><rect x="823.5" y="599.7" width="144.5" height="144.4"/></clipPath>
<g clip-path="url(#k4_4)">
<path d="M833.9 648.9 C834.7 651.8 836.5 661.2 838.2 666.4 C839.9 671.7 841.5 677.2 844.1 680.1 C846.7 683.1 850.3 683.7 853.9 684.0 C857.5 684.4 861.7 682.5 865.6 682.1 C869.5 681.6 873.4 681.9 877.3 681.3 C881.2 680.6 885.8 680.0 889.1 678.2 C892.3 676.3 893.9 674.3 896.9 670.4 C899.8 666.4 903.4 659.6 906.6 654.7 C909.9 649.8 913.2 644.6 916.4 641.0 C919.7 637.5 922.9 635.5 926.2 633.2 C929.4 630.9 933.0 629.3 936.0 627.4 C938.9 625.4 941.7 623.1 943.8 621.5 C945.9 619.9 947.7 618.2 948.5 617.6 L948.5 671.1 C947.7 669.7 945.9 664.9 943.8 662.5 C941.7 660.1 938.6 657.3 936.0 656.7 C933.3 656.0 930.7 657.3 928.1 658.6 C925.5 659.9 922.9 661.2 920.3 664.5 C917.7 667.7 915.1 673.3 912.5 678.2 C909.9 683.1 907.3 689.8 904.7 693.8 C902.1 697.8 900.1 700.6 896.9 702.4 C893.6 704.2 889.1 703.7 885.1 704.7 C881.2 705.8 877.3 707.5 873.4 708.7 C869.5 709.8 865.6 711.3 861.7 711.4 C857.8 711.5 853.6 710.4 850.0 709.4 C846.4 708.5 842.9 704.9 840.2 705.5 C837.5 706.2 835.0 712.0 833.9 713.3 Z" fill="#fbc9a0"/>
<path d="M834.2 681.3 C835.2 682.6 837.9 686.9 840.2 689.1 C842.5 691.3 845.1 693.1 848.0 694.6 C850.9 696.0 854.2 697.6 857.8 697.7 C861.4 697.8 865.6 695.8 869.5 695.0 C873.4 694.2 877.3 694.0 881.2 693.0 C885.1 692.0 889.7 690.9 893.0 689.1 C896.2 687.3 898.2 685.2 900.8 682.1 C903.4 678.9 906.0 674.3 908.6 670.4 C911.2 666.4 913.8 662.2 916.4 658.6 C919.0 655.0 921.6 651.5 924.2 648.9 C926.8 646.2 929.4 644.3 932.0 643.0 C934.6 641.7 937.2 641.2 939.9 641.0 C942.5 640.9 946.8 642.0 948.2 642.2" fill="none" stroke="#d96d12" stroke-width="2.8" stroke-linecap="butt" stroke-linejoin="round"/>
</g>
<clipPath id="k4_5"><rect x="968.0" y="599.7" width="144.3" height="144.4"/></clipPath>
<g clip-path="url(#k4_5)">
<path d="M977.8 641.0 C978.6 644.0 980.7 654.7 982.9 658.6 C985.0 662.5 987.4 664.2 990.7 664.5 C993.9 664.8 998.8 661.6 1002.4 660.6 C1006.0 659.6 1008.9 658.0 1012.2 658.6 C1015.4 659.3 1018.7 662.5 1021.9 664.5 C1025.2 666.4 1028.4 668.9 1031.7 670.4 C1035.0 671.8 1037.9 673.2 1041.5 673.5 C1045.1 673.8 1049.3 674.1 1053.2 672.3 C1057.1 670.5 1061.0 665.8 1064.9 662.5 C1068.8 659.3 1073.1 655.7 1076.7 652.8 C1080.2 649.8 1083.7 649.0 1086.4 644.9 C1089.2 640.8 1092.0 630.9 1093.1 628.1 L1093.1 676.2 C1091.6 676.5 1087.9 676.5 1084.5 678.2 C1081.1 679.8 1076.3 683.1 1072.7 686.0 C1069.2 688.9 1066.2 692.0 1063.0 695.8 C1059.7 699.5 1056.8 706.5 1053.2 708.7 C1049.6 710.8 1045.1 710.0 1041.5 708.7 C1037.9 707.3 1035.0 702.8 1031.7 700.8 C1028.4 698.9 1025.2 697.4 1021.9 696.9 C1018.7 696.4 1015.4 697.3 1012.2 697.7 C1008.9 698.2 1006.0 700.3 1002.4 699.7 C998.8 699.0 993.9 694.1 990.7 693.8 C987.4 693.5 985.0 694.8 982.9 697.7 C980.7 700.6 978.6 709.1 977.8 711.4 Z" fill="#fbc9a0"/>
<path d="M978.1 676.2 C980.2 676.5 986.6 677.5 990.7 678.2 C994.7 678.8 998.5 679.9 1002.4 680.1 C1006.3 680.3 1010.5 679.0 1014.1 679.3 C1017.7 679.7 1021.0 681.0 1023.9 682.1 C1026.8 683.2 1029.1 684.6 1031.7 686.0 C1034.3 687.4 1036.6 689.9 1039.5 690.7 C1042.5 691.5 1046.4 691.5 1049.3 690.7 C1052.2 689.9 1054.5 688.4 1057.1 686.0 C1059.7 683.6 1062.3 679.1 1064.9 676.2 C1067.5 673.3 1069.8 671.0 1072.7 668.4 C1075.7 665.8 1079.2 663.4 1082.5 660.6 C1085.9 657.8 1091.1 653.1 1092.8 651.6" fill="none" stroke="#d96d12" stroke-width="2.8" stroke-linecap="butt" stroke-linejoin="round"/>
</g>
<clipPath id="k5_0"><rect x="245.4" y="744.1" width="144.4" height="144.4"/></clipPath>
<g clip-path="url(#k5_0)">
<path d="M255.6 783.1 C256.4 785.0 258.5 792.5 260.6 794.8 C262.8 797.1 264.5 796.2 268.5 796.8 C272.4 797.3 278.2 797.5 284.1 797.9 C289.9 798.4 297.1 799.0 303.6 799.5 C310.1 800.0 317.3 800.8 323.2 800.7 C329.0 800.5 334.2 799.4 338.8 798.7 C343.4 798.1 346.6 797.9 350.5 796.8 C354.4 795.6 358.9 794.6 362.3 791.7 C365.6 788.8 369.4 781.3 370.8 779.2 L370.8 855.4 C369.7 853.8 366.9 848.2 364.2 845.6 C361.5 843.0 358.7 841.1 354.4 839.8 C350.2 838.5 344.0 838.1 338.8 837.8 C333.6 837.5 329.0 837.8 323.2 837.8 C317.3 837.8 309.5 837.9 303.6 837.8 C297.8 837.7 293.2 837.0 288.0 837.0 C282.8 837.0 276.6 837.7 272.4 837.8 C268.1 837.9 265.4 835.8 262.6 837.8 C259.8 839.8 256.7 847.6 255.6 849.5 Z" fill="#fbe8a6"/>
<path d="M256.4 817.1 C258.4 817.2 263.8 817.3 268.5 817.5 C273.1 817.7 278.2 818.0 284.1 818.3 C289.9 818.5 297.1 818.8 303.6 819.0 C310.1 819.2 316.7 819.4 323.2 819.4 C329.7 819.4 336.8 819.2 342.7 819.0 C348.6 818.8 353.7 818.5 358.3 818.3 C363.0 818.0 368.5 817.6 370.5 817.5" fill="none" stroke="#f6cc12" stroke-width="8.0" stroke-linecap="round" stroke-linejoin="round"/>
</g>
<clipPath id="k5_1"><rect x="389.8" y="744.1" width="144.6" height="144.4"/></clipPath>
<g clip-path="url(#k5_1)">
<path d="M400.2 786.2 C401.0 788.3 403.1 796.1 405.2 798.7 C407.4 801.3 409.8 801.2 413.1 801.8 C416.3 802.5 420.9 802.4 424.8 802.6 C428.7 802.9 432.9 804.4 436.5 803.4 C440.1 802.4 443.0 798.8 446.3 796.8 C449.5 794.7 452.8 792.4 456.1 790.9 C459.3 789.4 462.6 788.1 465.8 787.8 C469.1 787.4 472.7 787.8 475.6 788.9 C478.5 790.1 480.5 792.9 483.4 794.8 C486.3 796.8 489.9 799.5 493.2 800.7 C496.4 801.8 500.0 802.2 503.0 801.8 C505.9 801.5 508.7 799.8 510.8 798.7 C512.9 797.7 514.7 796.1 515.5 795.6 L515.5 849.5 C514.7 848.1 512.9 843.2 510.8 840.9 C508.7 838.6 505.9 837.3 503.0 835.8 C500.0 834.3 496.4 833.6 493.2 831.9 C489.9 830.3 486.3 827.7 483.4 826.1 C480.5 824.4 478.2 822.8 475.6 822.2 C473.0 821.5 470.7 821.2 467.8 822.2 C464.8 823.1 461.3 825.7 458.0 828.0 C454.7 830.3 451.8 833.6 448.2 835.8 C444.7 838.1 440.4 841.4 436.5 841.7 C432.6 842.0 428.7 839.0 424.8 837.8 C420.9 836.6 416.3 834.7 413.1 834.7 C409.8 834.7 407.4 836.3 405.2 837.8 C403.1 839.3 401.0 842.7 400.2 843.7 Z" fill="#fbe8a6"/>
<path d="M400.5 816.3 C401.9 816.6 406.1 817.6 409.2 818.3 C412.2 818.9 415.7 819.6 418.9 820.2 C422.2 820.9 426.1 821.6 428.7 822.2 C431.3 822.7 432.6 823.7 434.6 823.3 C436.5 823.0 438.1 821.8 440.4 820.2 C442.7 818.6 445.3 815.8 448.2 813.6 C451.2 811.3 454.7 808.4 458.0 806.5 C461.3 804.7 465.2 803.4 467.8 802.6 C470.4 801.8 471.7 801.3 473.6 801.8 C475.6 802.4 477.2 804.0 479.5 805.8 C481.8 807.5 484.4 810.3 487.3 812.4 C490.2 814.5 493.8 816.6 497.1 818.3 C500.3 819.9 503.8 821.0 506.9 822.2 C509.9 823.3 513.8 824.8 515.2 825.3" fill="none" stroke="#e6c418" stroke-width="2.4" stroke-linecap="butt" stroke-linejoin="round"/>
</g>
<clipPath id="k5_2"><rect x="534.4" y="744.1" width="144.5" height="144.4"/></clipPath>
<g clip-path="url(#k5_2)">
<path d="M544.8 805.8 C545.6 806.9 547.7 811.0 549.9 812.4 C552.0 813.8 554.4 814.7 557.7 814.4 C560.9 814.0 565.5 811.4 569.4 810.4 C573.3 809.5 577.2 808.5 581.1 808.5 C585.0 808.5 588.9 810.4 592.8 810.4 C596.8 810.4 601.0 809.1 604.6 808.5 C608.2 807.8 611.1 807.8 614.3 806.5 C617.6 805.2 621.2 803.0 624.1 800.7 C627.0 798.4 629.3 795.1 631.9 792.9 C634.5 790.6 637.1 788.6 639.7 787.0 C642.3 785.4 645.0 785.7 647.6 783.1 C650.2 780.5 653.4 775.1 655.4 771.4 C657.3 767.6 658.6 762.2 659.3 760.4 L659.3 821.4 C658.6 820.2 657.0 816.2 655.4 814.4 C653.7 812.5 652.1 809.9 649.5 810.4 C646.9 811.0 643.0 814.9 639.7 817.5 C636.5 820.1 632.9 823.3 630.0 826.1 C627.0 828.8 624.8 831.9 622.2 833.9 C619.6 835.8 617.3 836.4 614.3 837.8 C611.4 839.2 608.2 841.3 604.6 842.5 C601.0 843.7 596.8 845.0 592.8 844.8 C588.9 844.7 585.0 841.9 581.1 841.7 C577.2 841.5 573.3 842.9 569.4 843.7 C565.5 844.4 560.9 845.1 557.7 846.4 C554.4 847.7 552.0 849.0 549.9 851.5 C547.7 854.0 545.6 859.6 544.8 861.3 Z" fill="#fbe8a6"/>
<path d="M545.1 833.1 C546.5 832.6 550.7 831.0 553.8 830.0 C556.8 828.9 560.3 827.8 563.5 826.9 C566.8 825.9 570.4 824.6 573.3 824.1 C576.2 823.7 578.5 823.9 581.1 824.1 C583.7 824.3 586.0 825.2 588.9 825.3 C591.9 825.4 595.4 825.3 598.7 824.9 C602.0 824.5 605.2 824.1 608.5 822.9 C611.7 821.8 615.3 820.0 618.2 818.3 C621.2 816.5 623.5 814.7 626.1 812.4 C628.7 810.1 631.0 807.0 633.9 804.6 C636.8 802.2 640.4 799.9 643.7 797.9 C646.9 796.0 650.9 794.0 653.4 792.9 C656.0 791.7 658.1 791.2 659.0 790.9" fill="none" stroke="#e6c418" stroke-width="2.4" stroke-linecap="butt" stroke-linejoin="round"/>
</g>
<clipPath id="k5_3"><rect x="678.9" y="744.1" width="144.6" height="144.4"/></clipPath>
<g clip-path="url(#k5_3)">
<path d="M688.6 761.6 C689.4 763.9 691.5 771.7 693.6 775.3 C695.8 778.8 698.2 781.5 701.5 783.1 C704.7 784.7 709.3 784.4 713.2 785.0 C717.1 785.7 721.0 787.1 724.9 787.0 C728.8 786.9 733.4 783.3 736.6 784.3 C739.9 785.2 741.5 789.8 744.4 792.9 C747.4 795.9 751.0 799.0 754.2 802.6 C757.5 806.2 760.7 810.8 764.0 814.4 C767.2 817.9 770.5 820.9 773.8 824.1 C777.0 827.4 780.6 831.6 783.5 833.9 C786.5 836.2 788.7 837.5 791.3 837.8 C793.9 838.1 797.1 836.6 799.2 835.8 C801.2 835.1 803.1 833.6 803.8 833.1 L803.8 882.7 C802.4 881.1 798.3 875.9 795.3 873.0 C792.2 870.0 788.7 867.8 785.5 865.2 C782.2 862.6 779.0 860.3 775.7 857.3 C772.5 854.4 769.2 851.2 765.9 847.6 C762.7 844.0 759.4 839.4 756.2 835.8 C752.9 832.3 749.7 828.4 746.4 826.1 C743.1 823.8 740.2 822.5 736.6 822.2 C733.0 821.8 728.2 824.4 724.9 824.1 C721.6 823.8 720.3 820.9 717.1 820.2 C713.8 819.6 708.9 819.9 705.4 820.2 C701.8 820.5 698.4 819.9 695.6 822.2 C692.8 824.4 689.7 831.9 688.6 833.9 Z" fill="#fbe8a6"/>
<path d="M688.9 797.5 C691.0 797.9 697.4 799.0 701.5 799.9 C705.5 800.7 709.3 801.8 713.2 802.6 C717.1 803.4 721.0 804.4 724.9 804.6 C728.8 804.7 733.4 802.8 736.6 803.4 C739.9 804.1 741.5 806.3 744.4 808.5 C747.4 810.6 751.0 813.4 754.2 816.3 C757.5 819.2 760.7 822.5 764.0 826.1 C767.2 829.7 770.5 834.4 773.8 837.8 C777.0 841.2 779.9 843.8 783.5 846.4 C787.1 849.0 791.9 851.6 795.3 853.4 C798.6 855.3 802.2 856.7 803.5 857.3" fill="none" stroke="#e6c418" stroke-width="2.4" stroke-linecap="butt" stroke-linejoin="round"/>
</g>
<clipPath id="k5_4"><rect x="823.5" y="744.1" width="144.5" height="144.4"/></clipPath>
<g clip-path="url(#k5_4)">
<path d="M833.9 777.2 C834.7 779.2 836.2 786.0 838.2 788.9 C840.3 791.9 842.8 793.8 846.1 794.8 C849.3 795.8 853.9 794.8 857.8 794.8 C861.7 794.8 866.3 794.2 869.5 794.8 C872.8 795.5 874.4 797.1 877.3 798.7 C880.3 800.3 883.8 802.6 887.1 804.6 C890.4 806.5 893.3 808.5 896.9 810.4 C900.5 812.4 904.7 815.3 908.6 816.3 C912.5 817.3 916.4 817.0 920.3 816.3 C924.2 815.7 928.5 814.0 932.0 812.4 C935.6 810.8 939.1 809.5 941.8 806.5 C944.5 803.6 947.4 796.8 948.5 794.8 L948.5 853.4 C947.7 853.1 946.5 852.5 943.8 851.5 C941.0 850.5 936.0 847.9 932.0 847.6 C928.1 847.2 924.2 848.9 920.3 849.5 C916.4 850.2 912.5 851.6 908.6 851.5 C904.7 851.3 900.8 850.0 896.9 848.7 C893.0 847.4 889.1 845.5 885.1 843.7 C881.2 841.8 877.3 839.4 873.4 837.8 C869.5 836.2 865.6 835.2 861.7 833.9 C857.8 832.6 853.6 830.3 850.0 830.0 C846.4 829.7 842.9 830.5 840.2 831.9 C837.5 833.4 835.0 837.5 833.9 838.6 Z" fill="#fbe8a6"/>
<path d="M834.2 807.3 C836.2 807.7 842.1 808.8 846.1 809.7 C850.0 810.5 853.9 811.4 857.8 812.4 C861.7 813.4 866.3 814.2 869.5 815.5 C872.8 816.8 874.7 818.6 877.3 820.2 C879.9 821.8 882.2 823.3 885.1 824.9 C888.1 826.5 891.7 828.6 894.9 830.0 C898.2 831.4 901.8 832.5 904.7 833.1 C907.6 833.8 909.2 834.1 912.5 833.9 C915.8 833.7 920.3 832.9 924.2 831.9 C928.1 831.0 932.0 829.5 936.0 828.0 C939.9 826.6 946.1 824.1 948.2 823.3" fill="none" stroke="#e6c418" stroke-width="2.4" stroke-linecap="butt" stroke-linejoin="round"/>
</g>
<clipPath id="k5_5"><rect x="968.0" y="744.1" width="144.3" height="144.4"/></clipPath>
<g clip-path="url(#k5_5)">
<path d="M977.8 849.5 C979.3 848.5 983.6 846.3 986.8 843.7 C989.9 841.1 993.3 836.5 996.5 833.9 C999.8 831.3 1002.7 830.3 1006.3 828.0 C1009.9 825.7 1014.1 822.8 1018.0 820.2 C1021.9 817.6 1026.2 815.7 1029.8 812.4 C1033.3 809.1 1036.3 804.9 1039.5 800.7 C1042.8 796.4 1046.0 791.6 1049.3 787.0 C1052.6 782.4 1055.8 777.9 1059.1 773.3 C1062.3 768.8 1065.9 763.9 1068.8 759.6 C1071.8 755.4 1074.0 750.5 1076.7 747.9 C1079.3 745.3 1081.7 744.3 1084.5 744.0 C1087.2 743.7 1091.6 745.6 1093.1 746.0 L1093.1 800.7 C1092.6 799.7 1091.8 796.8 1090.3 794.8 C1088.9 792.9 1086.7 789.6 1084.5 788.9 C1082.2 788.3 1079.6 789.3 1076.7 790.9 C1073.7 792.5 1070.1 795.5 1066.9 798.7 C1063.6 802.0 1060.4 806.5 1057.1 810.4 C1053.9 814.4 1050.9 817.9 1047.3 822.2 C1043.8 826.4 1039.2 831.9 1035.6 835.8 C1032.0 839.8 1029.4 842.7 1025.8 845.6 C1022.3 848.5 1018.0 850.8 1014.1 853.4 C1010.2 856.0 1006.0 858.6 1002.4 861.3 C998.8 863.9 995.6 866.1 992.6 869.1 C989.7 872.0 987.3 875.6 984.8 878.8 C982.3 882.1 978.9 887.0 977.8 888.6 Z" fill="#fbe8a6"/>
<path d="M978.1 871.0 C979.2 869.4 982.4 864.3 984.8 861.3 C987.2 858.2 989.7 855.4 992.6 852.7 C995.6 849.9 999.1 847.3 1002.4 844.8 C1005.7 842.4 1008.9 840.1 1012.2 837.8 C1015.4 835.5 1018.7 833.4 1021.9 830.8 C1025.2 828.2 1028.4 825.6 1031.7 822.2 C1035.0 818.8 1038.2 814.4 1041.5 810.4 C1044.7 806.5 1048.0 803.0 1051.2 798.7 C1054.5 794.5 1057.8 789.3 1061.0 785.0 C1064.3 780.8 1067.5 776.6 1070.8 773.3 C1074.0 770.1 1077.8 767.5 1080.6 765.5 C1083.4 763.5 1085.6 762.4 1087.6 761.6 C1089.6 760.8 1091.9 760.9 1092.8 760.8" fill="none" stroke="#e6c418" stroke-width="2.4" stroke-linecap="butt" stroke-linejoin="round"/>
</g>
<clipPath id="k6_0"><rect x="245.4" y="888.5" width="144.4" height="144.4"/></clipPath>
<g clip-path="url(#k6_0)">
<path d="M255.6 928.1 C256.4 930.4 258.5 938.6 260.6 941.8 C262.8 944.9 264.5 945.9 268.5 946.8 C272.4 947.8 278.2 947.2 284.1 947.6 C289.9 948.1 297.1 949.3 303.6 949.6 C310.1 949.9 317.3 950.0 323.2 949.6 C329.0 949.1 334.2 947.8 338.8 946.8 C343.4 945.9 346.9 945.5 350.5 943.7 C354.1 941.9 357.6 939.2 360.3 935.9 C363.0 932.6 365.2 928.4 366.9 924.2 C368.7 919.9 370.2 912.8 370.8 910.5 L370.8 996.5 C369.4 995.8 365.6 993.5 362.3 992.6 C358.9 991.6 354.4 991.3 350.5 990.6 C346.6 990.0 343.4 989.3 338.8 988.7 C334.2 988.0 329.0 986.7 323.2 986.7 C317.3 986.7 310.1 988.7 303.6 988.7 C297.1 988.7 289.9 986.7 284.1 986.7 C278.2 986.7 272.4 987.7 268.5 988.7 C264.5 989.6 262.8 989.6 260.6 992.6 C258.5 995.5 256.4 1004.0 255.6 1006.3 Z" fill="#fde8cd"/>
<path d="M256.4 967.2 C258.4 967.2 263.8 967.2 268.5 967.2 C273.1 967.1 278.2 966.8 284.1 966.8 C289.9 966.8 297.1 967.1 303.6 967.2 C310.1 967.2 317.3 967.3 323.2 967.2 C329.0 967.0 334.2 966.9 338.8 966.4 C343.4 965.9 346.6 965.2 350.5 964.0 C354.4 962.9 358.9 961.1 362.3 959.4 C365.6 957.6 369.2 954.5 370.5 953.5" fill="none" stroke="#fdbd72" stroke-width="8.0" stroke-linecap="round" stroke-linejoin="round"/>
</g>
<clipPath id="k6_1"><rect x="389.8" y="888.5" width="144.6" height="144.4"/></clipPath>
<g clip-path="url(#k6_1)">
<path d="M400.9 902.7 C401.7 905.6 403.2 914.7 405.2 920.3 C407.3 925.8 410.1 930.7 413.1 935.9 C416.0 941.1 419.6 947.6 422.8 951.5 C426.1 955.4 429.0 957.7 432.6 959.4 C436.2 961.0 440.4 961.0 444.3 961.3 C448.2 961.6 451.5 961.5 456.1 961.3 C460.6 961.1 467.1 960.1 471.7 960.1 C476.2 960.1 479.5 960.8 483.4 961.3 C487.3 961.8 491.6 963.3 495.1 963.3 C498.7 963.3 502.0 963.3 504.9 961.3 C507.8 959.4 511.0 954.5 512.7 951.5 C514.5 948.6 515.0 945.0 515.5 943.7 L515.5 1006.3 C514.7 1004.9 512.5 1000.5 510.8 998.4 C509.0 996.3 507.5 994.9 504.9 993.7 C502.3 992.6 498.7 992.1 495.1 991.4 C491.6 990.7 487.3 990.3 483.4 989.8 C479.5 989.4 475.6 989.1 471.7 988.7 C467.8 988.3 463.9 987.5 460.0 987.5 C456.1 987.5 452.1 988.7 448.2 988.7 C444.3 988.7 440.1 988.1 436.5 987.5 C432.9 986.8 430.0 986.8 426.7 984.8 C423.5 982.7 420.2 977.9 417.0 975.0 C413.7 972.1 409.9 967.8 407.2 967.2 C404.5 966.5 402.0 970.4 400.9 971.1 Z" fill="#fde8cd"/>
<path d="M401.2 935.1 C401.9 936.6 403.3 940.7 405.2 943.7 C407.2 946.8 410.5 950.6 413.1 953.5 C415.7 956.4 418.3 958.7 420.9 961.3 C423.5 963.9 426.1 967.2 428.7 969.1 C431.3 971.1 433.3 972.2 436.5 973.0 C439.8 973.9 444.3 974.0 448.2 974.2 C452.1 974.4 456.1 974.4 460.0 974.2 C463.9 974.0 468.4 973.0 471.7 973.0 C474.9 973.0 476.2 973.6 479.5 974.2 C482.8 974.9 487.3 976.5 491.2 976.9 C495.1 977.4 499.0 977.1 503.0 976.9 C506.9 976.7 513.1 976.0 515.2 975.8" fill="none" stroke="#f0b466" stroke-width="2.4" stroke-linecap="butt" stroke-linejoin="round"/>
</g>
<clipPath id="k6_2"><rect x="534.4" y="888.5" width="144.5" height="144.4"/></clipPath>
<g clip-path="url(#k6_2)">
<path d="M544.8 943.7 C545.6 944.4 547.1 947.1 549.9 947.6 C552.7 948.1 557.7 947.5 561.6 946.8 C565.5 946.2 569.7 944.6 573.3 943.7 C576.9 942.9 579.8 942.5 583.1 941.8 C586.3 941.0 589.3 939.4 592.8 939.0 C596.4 938.7 600.7 939.4 604.6 939.8 C608.5 940.3 612.7 941.1 616.3 941.8 C619.9 942.4 622.8 942.7 626.1 943.7 C629.3 944.7 632.3 946.3 635.8 947.6 C639.4 948.9 643.7 950.6 647.6 951.5 C651.5 952.5 657.3 953.2 659.3 953.5 L659.3 1008.2 C658.3 1007.2 656.0 1004.6 653.4 1002.3 C650.8 1000.1 647.2 996.8 643.7 994.5 C640.1 992.2 635.8 990.3 631.9 988.7 C628.0 987.0 624.1 985.9 620.2 984.8 C616.3 983.6 612.4 982.3 608.5 982.0 C604.6 981.7 600.7 982.0 596.8 982.8 C592.8 983.6 588.9 985.7 585.0 986.7 C581.1 987.7 577.2 987.7 573.3 988.7 C569.4 989.6 565.2 991.3 561.6 992.6 C558.0 993.9 554.6 994.9 551.8 996.5 C549.0 998.1 545.9 1001.4 544.8 1002.3 Z" fill="#fde8cd"/>
<path d="M545.1 973.0 C546.5 972.4 550.7 970.4 553.8 969.1 C556.8 967.8 560.3 966.5 563.5 965.2 C566.8 963.9 570.0 962.4 573.3 961.3 C576.6 960.2 579.8 959.2 583.1 958.6 C586.3 957.9 589.3 957.7 592.8 957.4 C596.4 957.1 601.0 956.6 604.6 956.6 C608.2 956.6 611.1 956.6 614.3 957.4 C617.6 958.2 620.9 959.8 624.1 961.3 C627.4 962.8 630.6 964.6 633.9 966.4 C637.1 968.2 640.4 970.3 643.7 972.2 C646.9 974.2 650.9 976.5 653.4 978.1 C656.0 979.7 658.1 981.4 659.0 982.0" fill="none" stroke="#f0b466" stroke-width="2.4" stroke-linecap="butt" stroke-linejoin="round"/>
</g>
<clipPath id="k6_3"><rect x="678.9" y="888.5" width="144.6" height="144.4"/></clipPath>
<g clip-path="url(#k6_3)">
<path d="M688.6 903.9 C689.4 905.3 691.5 910.4 693.6 912.5 C695.8 914.5 698.8 915.8 701.5 916.4 C704.1 916.9 706.7 915.4 709.3 915.6 C711.9 915.7 714.5 916.0 717.1 917.1 C719.7 918.2 722.3 919.7 724.9 922.2 C727.5 924.7 730.1 928.4 732.7 932.0 C735.3 935.6 737.9 939.8 740.5 943.7 C743.1 947.6 745.7 952.5 748.4 955.4 C751.0 958.4 753.6 960.1 756.2 961.3 C758.8 962.5 761.1 961.5 764.0 962.5 C766.9 963.5 770.5 965.4 773.8 967.2 C777.0 968.9 780.3 971.7 783.5 973.0 C786.8 974.3 790.4 975.0 793.3 975.0 C796.2 975.0 799.4 973.7 801.1 973.0 C802.9 972.4 803.4 971.4 803.8 971.1 L803.8 1028.9 C802.7 1026.8 799.9 1019.8 797.2 1016.0 C794.5 1012.2 790.7 1009.3 787.4 1006.3 C784.2 1003.2 780.9 1000.4 777.7 997.7 C774.4 994.9 771.1 992.0 767.9 989.8 C764.6 987.7 761.4 986.3 758.1 984.8 C754.9 983.3 751.6 982.8 748.4 980.8 C745.1 978.9 741.5 976.6 738.6 973.0 C735.6 969.4 733.4 963.3 730.8 959.4 C728.2 955.4 725.6 952.5 722.9 949.6 C720.3 946.6 717.7 943.1 715.1 941.8 C712.5 940.5 709.9 940.1 707.3 941.8 C704.7 943.4 701.8 947.3 699.5 951.5 C697.2 955.8 695.5 960.3 693.6 967.2 C691.8 974.0 689.4 988.3 688.6 992.6 Z" fill="#fde8cd"/>
<path d="M688.9 948.4 C689.6 946.5 691.5 939.7 693.6 936.7 C695.7 933.6 698.8 931.5 701.5 930.0 C704.1 928.6 706.7 928.1 709.3 928.1 C711.9 928.1 714.5 928.7 717.1 930.0 C719.7 931.3 722.3 933.3 724.9 935.9 C727.5 938.5 730.1 942.1 732.7 945.7 C735.3 949.3 737.9 953.8 740.5 957.4 C743.1 961.0 745.7 964.7 748.4 967.2 C751.0 969.6 753.6 970.9 756.2 972.2 C758.8 973.6 761.1 973.4 764.0 975.0 C766.9 976.6 770.5 979.7 773.8 982.0 C777.0 984.3 779.9 986.3 783.5 988.7 C787.1 991.1 791.9 994.0 795.3 996.5 C798.6 999.0 802.2 1002.3 803.5 1003.5" fill="none" stroke="#f0b466" stroke-width="2.4" stroke-linecap="butt" stroke-linejoin="round"/>
</g>
<clipPath id="k6_4"><rect x="823.5" y="888.5" width="144.5" height="144.4"/></clipPath>
<g clip-path="url(#k6_4)">
<path d="M833.9 961.3 C834.7 962.0 836.2 963.9 838.2 965.2 C840.3 966.5 842.8 969.4 846.1 969.1 C849.3 968.8 853.9 964.9 857.8 963.3 C861.7 961.6 865.6 960.7 869.5 959.4 C873.4 958.0 877.3 956.7 881.2 955.4 C885.1 954.1 889.4 952.5 893.0 951.5 C896.5 950.6 899.5 950.6 902.7 949.6 C906.0 948.6 909.2 947.6 912.5 945.7 C915.8 943.7 919.0 940.5 922.3 937.9 C925.5 935.2 929.1 932.0 932.0 930.0 C935.0 928.1 937.6 929.1 939.9 926.1 C942.1 923.2 944.3 918.6 945.7 912.5 C947.2 906.3 948.0 892.9 948.5 889.0 L948.5 945.7 C948.0 946.0 947.2 946.0 945.7 947.6 C944.3 949.3 942.1 952.2 939.9 955.4 C937.6 958.7 934.6 963.9 932.0 967.2 C929.4 970.4 926.8 973.0 924.2 975.0 C921.6 976.9 919.7 977.7 916.4 978.9 C913.2 980.1 908.6 981.0 904.7 982.0 C900.8 983.0 896.9 983.8 893.0 984.8 C889.1 985.7 885.1 986.8 881.2 987.5 C877.3 988.1 873.4 987.8 869.5 988.7 C865.6 989.5 861.7 991.3 857.8 992.6 C853.9 993.9 849.3 994.5 846.1 996.5 C842.8 998.4 840.3 1001.4 838.2 1004.3 C836.2 1007.2 834.7 1012.4 833.9 1014.1 Z" fill="#fde8cd"/>
<path d="M834.2 987.9 C836.2 987.0 842.1 984.3 846.1 982.8 C850.0 981.3 853.9 980.2 857.8 978.9 C861.7 977.6 865.6 976.2 869.5 975.0 C873.4 973.8 877.3 972.8 881.2 971.9 C885.1 970.9 889.1 970.2 893.0 969.1 C896.9 968.0 901.4 966.5 904.7 965.2 C907.9 963.9 909.9 963.1 912.5 961.3 C915.1 959.5 917.7 957.3 920.3 954.7 C922.9 952.1 925.5 948.8 928.1 945.7 C930.7 942.5 933.3 939.5 936.0 935.9 C938.6 932.3 941.7 928.1 943.8 924.2 C945.8 920.3 947.4 914.4 948.2 912.5" fill="none" stroke="#f0b466" stroke-width="2.4" stroke-linecap="butt" stroke-linejoin="round"/>
</g>
<clipPath id="k6_5"><rect x="968.0" y="888.5" width="144.3" height="144.4"/></clipPath>
<g clip-path="url(#k6_5)">
<path d="M977.8 957.4 C978.6 956.4 980.7 954.5 982.9 951.5 C985.0 948.6 988.1 942.9 990.7 939.8 C993.3 936.7 995.9 934.1 998.5 932.8 C1001.1 931.5 1003.7 931.5 1006.3 932.0 C1008.9 932.5 1011.5 933.9 1014.1 935.9 C1016.7 937.9 1019.3 940.8 1021.9 943.7 C1024.5 946.6 1027.1 950.6 1029.8 953.5 C1032.4 956.4 1034.6 959.0 1037.6 961.3 C1040.5 963.6 1044.1 965.9 1047.3 967.2 C1050.6 968.5 1053.9 969.4 1057.1 969.1 C1060.4 968.8 1063.6 967.2 1066.9 965.2 C1070.1 963.3 1073.7 960.7 1076.7 957.4 C1079.6 954.1 1082.2 950.9 1084.5 945.7 C1086.7 940.5 1088.9 932.6 1090.3 926.1 C1091.8 919.6 1092.6 909.8 1093.1 906.6 L1093.1 963.3 C1092.0 964.9 1089.2 969.4 1086.4 973.0 C1083.7 976.6 1079.9 981.3 1076.7 984.8 C1073.4 988.2 1070.1 991.8 1066.9 993.7 C1063.6 995.7 1060.4 996.2 1057.1 996.5 C1053.9 996.7 1050.6 996.2 1047.3 995.3 C1044.1 994.5 1040.5 993.2 1037.6 991.4 C1034.6 989.6 1032.4 987.5 1029.8 984.8 C1027.1 982.0 1024.5 978.2 1021.9 975.0 C1019.3 971.7 1016.7 967.2 1014.1 965.2 C1011.5 963.3 1008.9 962.6 1006.3 963.3 C1003.7 963.9 1001.1 966.2 998.5 969.1 C995.9 972.1 993.3 976.9 990.7 980.8 C988.1 984.8 985.0 988.3 982.9 992.6 C980.7 996.8 978.6 1004.0 977.8 1006.3 Z" fill="#fde8cd"/>
<path d="M978.1 981.6 C978.9 979.9 981.1 974.7 982.9 971.1 C984.6 967.5 986.8 963.4 988.7 960.1 C990.7 956.9 992.3 953.7 994.6 951.5 C996.9 949.3 999.8 947.6 1002.4 946.8 C1005.0 946.1 1007.6 945.9 1010.2 946.8 C1012.8 947.8 1015.4 949.9 1018.0 952.3 C1020.6 954.7 1023.2 958.3 1025.8 961.3 C1028.4 964.3 1031.1 967.5 1033.7 970.3 C1036.3 973.1 1038.9 976.0 1041.5 978.1 C1044.1 980.2 1046.7 981.9 1049.3 982.8 C1051.9 983.7 1054.5 983.9 1057.1 983.6 C1059.7 983.3 1062.3 982.4 1064.9 980.8 C1067.5 979.3 1070.1 977.1 1072.7 974.2 C1075.3 971.3 1078.1 967.0 1080.6 963.3 C1083.0 959.5 1085.6 956.1 1087.6 951.5 C1089.6 947.0 1091.9 938.5 1092.8 935.9" fill="none" stroke="#f0b466" stroke-width="2.4" stroke-linecap="butt" stroke-linejoin="round"/>
</g>
<clipPath id="k7_0"><rect x="245.4" y="1032.9" width="144.4" height="144.4"/></clipPath>
<g clip-path="url(#k7_0)">
<path d="M255.6 1080.7 C256.4 1082.2 258.5 1087.8 260.6 1089.7 C262.8 1091.5 264.5 1091.3 268.5 1091.6 C272.4 1092.0 278.2 1091.8 284.1 1091.6 C289.9 1091.5 297.1 1090.8 303.6 1090.8 C310.1 1090.8 316.7 1091.8 323.2 1091.6 C329.7 1091.4 336.8 1091.0 342.7 1089.7 C348.6 1088.4 354.4 1085.8 358.3 1083.8 C362.3 1081.9 364.1 1079.6 366.2 1077.9 C368.2 1076.3 370.1 1074.7 370.8 1074.0 L370.8 1143.2 C370.1 1142.1 368.2 1138.7 366.2 1136.6 C364.1 1134.5 362.3 1132.2 358.3 1130.7 C354.4 1129.2 348.6 1127.9 342.7 1127.6 C336.8 1127.3 329.7 1128.8 323.2 1128.8 C316.7 1128.8 309.5 1127.4 303.6 1127.6 C297.8 1127.8 293.2 1129.4 288.0 1129.9 C282.8 1130.4 276.6 1130.3 272.4 1130.7 C268.1 1131.2 265.4 1130.6 262.6 1132.7 C259.8 1134.7 256.7 1141.5 255.6 1143.2 Z" fill="#d9e8f8"/>
<path d="M256.4 1111.9 C258.4 1111.8 263.8 1111.6 268.5 1111.2 C273.1 1110.8 278.9 1110.1 284.1 1109.6 C289.3 1109.1 294.5 1108.2 299.7 1108.0 C304.9 1107.8 310.1 1108.2 315.4 1108.4 C320.6 1108.6 325.8 1109.1 331.0 1109.2 C336.2 1109.3 341.4 1109.3 346.6 1109.2 C351.8 1109.1 358.3 1108.6 362.3 1108.4 C366.2 1108.2 369.2 1108.1 370.5 1108.0" fill="none" stroke="#9fc7ea" stroke-width="8.0" stroke-linecap="round" stroke-linejoin="round"/>
</g>
<clipPath id="k7_1"><rect x="389.8" y="1032.9" width="144.6" height="144.4"/></clipPath>
<g clip-path="url(#k7_1)">
<path d="M400.9 1057.2 C401.7 1059.4 403.2 1067.3 405.2 1070.1 C407.3 1072.9 409.8 1072.7 413.1 1074.0 C416.3 1075.3 420.9 1076.6 424.8 1077.9 C428.7 1079.2 432.6 1080.6 436.5 1081.9 C440.4 1083.2 444.7 1083.8 448.2 1085.8 C451.8 1087.7 454.7 1091.3 458.0 1093.6 C461.3 1095.9 464.2 1097.5 467.8 1099.4 C471.4 1101.4 475.6 1103.4 479.5 1105.3 C483.4 1107.3 487.3 1109.5 491.2 1111.2 C495.1 1112.8 499.7 1114.7 503.0 1115.1 C506.2 1115.4 508.7 1114.1 510.8 1113.1 C512.9 1112.1 514.7 1109.9 515.5 1109.2 L515.5 1162.0 C514.7 1160.7 512.9 1156.1 510.8 1154.2 C508.7 1152.2 506.2 1151.6 503.0 1150.3 C499.7 1148.9 495.1 1147.6 491.2 1146.3 C487.3 1145.0 483.1 1144.1 479.5 1142.4 C475.9 1140.8 473.0 1138.9 469.7 1136.6 C466.5 1134.3 463.2 1131.2 460.0 1128.8 C456.7 1126.3 453.4 1123.7 450.2 1122.1 C446.9 1120.5 444.0 1120.2 440.4 1119.0 C436.8 1117.8 432.6 1116.4 428.7 1115.1 C424.8 1113.8 420.6 1112.5 417.0 1111.2 C413.4 1109.9 409.9 1107.3 407.2 1107.3 C404.5 1107.3 402.0 1110.5 400.9 1111.2 Z" fill="#d9e8f8"/>
<path d="M401.2 1083.0 C402.6 1083.8 405.9 1086.2 409.2 1087.7 C412.4 1089.3 417.0 1090.9 420.9 1092.4 C424.8 1093.9 429.3 1095.7 432.6 1096.7 C435.9 1097.7 437.8 1097.9 440.4 1098.7 C443.0 1099.4 445.6 1099.8 448.2 1101.4 C450.8 1103.0 453.1 1105.8 456.1 1108.0 C459.0 1110.3 462.6 1112.9 465.8 1115.1 C469.1 1117.2 472.0 1119.0 475.6 1120.9 C479.2 1122.9 483.4 1125.0 487.3 1126.8 C491.2 1128.6 494.4 1129.9 499.0 1131.5 C503.7 1133.1 512.5 1135.7 515.2 1136.6" fill="none" stroke="#88b2da" stroke-width="2.4" stroke-linecap="butt" stroke-linejoin="round"/>
</g>
<clipPath id="k7_2"><rect x="534.4" y="1032.9" width="144.5" height="144.4"/></clipPath>
<g clip-path="url(#k7_2)">
<path d="M544.8 1083.0 C545.6 1084.5 547.7 1088.6 549.9 1091.6 C552.0 1094.7 554.4 1098.8 557.7 1101.4 C560.9 1104.0 565.5 1106.8 569.4 1107.3 C573.3 1107.7 577.9 1105.8 581.1 1104.1 C584.4 1102.5 586.0 1099.2 588.9 1097.5 C591.9 1095.7 595.4 1094.9 598.7 1093.6 C602.0 1092.3 604.9 1090.6 608.5 1089.7 C612.1 1088.7 616.6 1087.4 620.2 1087.7 C623.8 1088.0 626.7 1090.0 630.0 1091.6 C633.2 1093.3 636.2 1095.5 639.7 1097.5 C643.3 1099.4 648.2 1102.4 651.5 1103.4 C654.7 1104.3 658.0 1103.4 659.3 1103.4 L659.3 1147.1 C658.6 1145.7 657.7 1141.3 655.4 1138.5 C653.1 1135.8 648.9 1132.7 645.6 1130.7 C642.3 1128.8 639.1 1127.8 635.8 1126.8 C632.6 1125.8 629.3 1125.5 626.1 1124.8 C622.8 1124.2 619.9 1122.6 616.3 1122.9 C612.7 1123.2 608.2 1125.5 604.6 1126.8 C601.0 1128.1 598.1 1129.5 594.8 1130.7 C591.5 1131.9 588.6 1132.7 585.0 1133.8 C581.4 1135.0 577.2 1137.1 573.3 1137.7 C569.4 1138.4 565.2 1138.1 561.6 1137.7 C558.0 1137.4 554.6 1135.8 551.8 1135.4 C549.0 1135.0 545.9 1135.4 544.8 1135.4 Z" fill="#d9e8f8"/>
<path d="M545.1 1107.3 C546.2 1108.4 549.4 1112.2 551.8 1114.3 C554.2 1116.4 557.0 1118.3 559.6 1119.8 C562.2 1121.2 564.5 1122.5 567.4 1122.9 C570.4 1123.3 574.3 1122.9 577.2 1122.1 C580.1 1121.3 582.4 1119.8 585.0 1118.2 C587.6 1116.6 590.2 1114.0 592.8 1112.3 C595.4 1110.6 597.7 1109.2 600.7 1108.0 C603.6 1106.9 607.2 1105.9 610.4 1105.3 C613.7 1104.7 616.9 1104.2 620.2 1104.5 C623.5 1104.8 626.7 1106.0 630.0 1107.3 C633.2 1108.5 636.2 1110.1 639.7 1111.9 C643.3 1113.8 648.3 1116.1 651.5 1118.2 C654.7 1120.4 657.7 1123.7 659.0 1124.8" fill="none" stroke="#88b2da" stroke-width="2.4" stroke-linecap="butt" stroke-linejoin="round"/>
</g>
<clipPath id="k7_3"><rect x="678.9" y="1032.9" width="144.6" height="144.4"/></clipPath>
<g clip-path="url(#k7_3)">
<path d="M688.6 1094.8 C689.4 1094.6 691.5 1094.4 693.6 1093.6 C695.8 1092.7 698.5 1091.2 701.5 1089.7 C704.4 1088.2 708.0 1085.4 711.2 1084.6 C714.5 1083.7 718.1 1083.5 721.0 1084.6 C723.9 1085.6 725.9 1088.4 728.8 1090.8 C731.7 1093.3 735.3 1097.2 738.6 1099.4 C741.8 1101.7 745.1 1103.4 748.4 1104.5 C751.6 1105.7 754.9 1106.7 758.1 1106.5 C761.4 1106.3 764.6 1105.2 767.9 1103.4 C771.1 1101.5 774.4 1098.1 777.7 1095.5 C780.9 1092.9 784.2 1091.0 787.4 1087.7 C790.7 1084.5 794.5 1081.2 797.2 1076.0 C799.9 1070.8 802.7 1059.7 803.8 1056.5 L803.8 1111.2 C802.7 1111.5 799.6 1111.8 797.2 1113.1 C794.8 1114.4 792.3 1117.0 789.4 1119.0 C786.5 1120.9 782.9 1123.0 779.6 1124.8 C776.4 1126.7 773.1 1128.2 769.8 1129.9 C766.6 1131.7 763.3 1134.3 760.1 1135.4 C756.8 1136.5 753.6 1136.8 750.3 1136.6 C747.0 1136.3 743.8 1134.8 740.5 1133.8 C737.3 1132.9 734.0 1132.0 730.8 1130.7 C727.5 1129.4 724.2 1127.0 721.0 1126.0 C717.7 1125.0 714.5 1124.7 711.2 1124.8 C708.0 1125.0 704.4 1125.5 701.5 1126.8 C698.5 1128.1 695.8 1130.1 693.6 1132.7 C691.5 1135.3 689.4 1140.8 688.6 1142.4 Z" fill="#d9e8f8"/>
<path d="M688.9 1118.2 C690.0 1116.9 692.8 1112.7 695.6 1110.4 C698.3 1108.1 702.1 1105.8 705.4 1104.5 C708.6 1103.2 711.9 1102.6 715.1 1102.6 C718.4 1102.5 721.6 1103.0 724.9 1104.1 C728.2 1105.2 731.4 1107.4 734.7 1109.2 C737.9 1111.0 741.2 1113.3 744.4 1115.1 C747.7 1116.8 751.3 1119.0 754.2 1119.8 C757.1 1120.5 759.4 1120.5 762.0 1119.8 C764.6 1119.0 766.9 1117.2 769.8 1115.1 C772.8 1113.0 776.0 1110.5 779.6 1107.3 C783.2 1104.0 787.4 1099.8 791.3 1095.5 C795.3 1091.3 801.5 1084.1 803.5 1081.9" fill="none" stroke="#88b2da" stroke-width="2.4" stroke-linecap="butt" stroke-linejoin="round"/>
</g>
<clipPath id="k7_4"><rect x="823.5" y="1032.9" width="144.5" height="144.4"/></clipPath>
<g clip-path="url(#k7_4)">
<path d="M833.9 1114.3 C835.0 1114.4 837.9 1117.2 840.2 1115.1 C842.5 1112.9 845.1 1106.0 848.0 1101.4 C850.9 1096.8 854.5 1091.6 857.8 1087.7 C861.0 1083.8 864.3 1080.6 867.6 1077.9 C870.8 1075.3 874.1 1073.1 877.3 1072.1 C880.6 1071.1 883.8 1070.8 887.1 1072.1 C890.4 1073.4 893.3 1077.3 896.9 1079.9 C900.5 1082.5 904.7 1085.8 908.6 1087.7 C912.5 1089.7 916.4 1091.0 920.3 1091.6 C924.2 1092.3 928.5 1092.0 932.0 1091.6 C935.6 1091.3 939.1 1092.1 941.8 1089.7 C944.5 1087.2 947.4 1078.9 948.5 1076.8 L948.5 1126.8 C947.7 1126.8 946.5 1126.8 943.8 1126.8 C941.0 1126.8 936.0 1127.0 932.0 1126.8 C928.1 1126.6 924.2 1126.6 920.3 1125.6 C916.4 1124.7 912.5 1123.0 908.6 1120.9 C904.7 1118.9 900.5 1116.1 896.9 1113.1 C893.3 1110.2 890.4 1105.5 887.1 1103.4 C883.8 1101.2 880.3 1099.9 877.3 1100.2 C874.4 1100.5 872.4 1102.5 869.5 1105.3 C866.6 1108.1 863.0 1112.8 859.7 1117.0 C856.5 1121.3 853.2 1126.5 850.0 1130.7 C846.7 1134.9 842.9 1137.9 840.2 1142.4 C837.5 1147.0 835.0 1155.5 833.9 1158.1 Z" fill="#d9e8f8"/>
<path d="M834.2 1136.6 C835.6 1134.6 839.2 1129.1 842.2 1124.8 C845.1 1120.6 848.7 1115.7 851.9 1111.2 C855.2 1106.6 858.8 1101.2 861.7 1097.5 C864.6 1093.8 866.9 1091.0 869.5 1088.9 C872.1 1086.8 875.0 1085.5 877.3 1085.0 C879.6 1084.5 880.9 1084.7 883.2 1085.8 C885.5 1086.9 888.1 1089.3 891.0 1091.6 C893.9 1093.9 897.2 1097.0 900.8 1099.4 C904.4 1101.9 908.6 1104.8 912.5 1106.5 C916.4 1108.1 920.3 1109.1 924.2 1109.2 C928.1 1109.3 932.0 1108.6 936.0 1107.3 C939.9 1106.0 946.1 1102.4 948.2 1101.4" fill="none" stroke="#88b2da" stroke-width="2.4" stroke-linecap="butt" stroke-linejoin="round"/>
</g>
<clipPath id="k7_5"><rect x="968.0" y="1032.9" width="144.3" height="144.4"/></clipPath>
<g clip-path="url(#k7_5)">
<path d="M977.8 1106.5 C978.6 1107.9 980.7 1112.9 982.9 1115.1 C985.0 1117.3 987.4 1119.8 990.7 1119.8 C993.9 1119.8 998.5 1116.8 1002.4 1115.1 C1006.3 1113.3 1010.2 1111.3 1014.1 1109.2 C1018.0 1107.1 1021.9 1105.8 1025.8 1102.6 C1029.8 1099.3 1033.7 1094.1 1037.6 1089.7 C1041.5 1085.2 1045.4 1079.2 1049.3 1076.0 C1053.2 1072.7 1057.4 1071.8 1061.0 1070.1 C1064.6 1068.5 1067.5 1067.8 1070.8 1066.2 C1074.0 1064.6 1077.6 1062.3 1080.6 1060.4 C1083.5 1058.4 1086.4 1056.3 1088.4 1054.5 C1090.3 1052.7 1091.6 1050.3 1092.3 1049.4 L1092.3 1115.9 C1091.0 1113.8 1087.4 1106.4 1084.5 1103.4 C1081.5 1100.3 1078.0 1098.1 1074.7 1097.5 C1071.4 1096.8 1068.5 1098.1 1064.9 1099.4 C1061.3 1100.7 1057.1 1102.0 1053.2 1105.3 C1049.3 1108.6 1045.4 1114.4 1041.5 1119.0 C1037.6 1123.5 1033.7 1129.1 1029.8 1132.7 C1025.8 1136.2 1021.9 1138.5 1018.0 1140.5 C1014.1 1142.4 1010.2 1143.4 1006.3 1144.4 C1002.4 1145.4 998.2 1145.4 994.6 1146.3 C991.0 1147.3 987.6 1148.6 984.8 1150.3 C982.0 1151.9 978.9 1155.1 977.8 1156.1 Z" fill="#d9e8f8"/>
<path d="M978.1 1131.5 C979.5 1131.7 983.7 1132.5 986.8 1132.7 C989.8 1132.8 993.3 1132.9 996.5 1132.3 C999.8 1131.6 1003.0 1130.3 1006.3 1128.8 C1009.6 1127.2 1012.8 1125.2 1016.1 1122.9 C1019.3 1120.6 1022.6 1118.0 1025.8 1115.1 C1029.1 1112.1 1032.4 1108.6 1035.6 1105.3 C1038.9 1102.0 1042.1 1098.5 1045.4 1095.5 C1048.6 1092.6 1051.9 1089.8 1055.2 1087.7 C1058.4 1085.6 1061.7 1084.2 1064.9 1083.0 C1068.2 1081.9 1071.4 1081.1 1074.7 1080.7 C1078.0 1080.3 1081.6 1080.3 1084.5 1080.7 C1087.4 1081.1 1090.7 1082.6 1092.0 1083.0" fill="none" stroke="#88b2da" stroke-width="2.4" stroke-linecap="butt" stroke-linejoin="round"/>
</g>
<clipPath id="k8_0"><rect x="245.4" y="1177.4" width="144.4" height="144.4"/></clipPath>
<g clip-path="url(#k8_0)">
<path d="M255.6 1214.1 C256.4 1216.1 258.5 1223.6 260.6 1225.9 C262.8 1228.1 265.2 1227.6 268.5 1227.8 C271.7 1228.0 276.3 1226.4 280.2 1227.0 C284.1 1227.7 288.0 1230.3 291.9 1231.7 C295.8 1233.2 298.4 1234.8 303.6 1235.6 C308.8 1236.4 317.3 1236.5 323.2 1236.4 C329.0 1236.3 334.2 1235.8 338.8 1234.8 C343.4 1233.9 346.6 1232.6 350.5 1230.9 C354.4 1229.2 358.9 1227.2 362.3 1224.7 C365.6 1222.2 369.4 1217.5 370.8 1216.1 L370.8 1290.3 C370.1 1289.7 368.2 1288.1 366.2 1286.4 C364.1 1284.8 361.6 1282.4 358.3 1280.6 C355.1 1278.7 351.2 1276.6 346.6 1275.5 C342.1 1274.4 336.2 1274.1 331.0 1273.9 C325.8 1273.8 320.6 1274.7 315.4 1274.7 C310.1 1274.7 304.9 1273.8 299.7 1273.9 C294.5 1274.1 289.3 1275.0 284.1 1275.5 C278.9 1275.9 272.4 1276.1 268.5 1276.7 C264.5 1277.2 262.8 1276.0 260.6 1278.6 C258.5 1281.2 256.4 1290.0 255.6 1292.3 Z" fill="#fde0e0"/>
<path d="M256.4 1251.3 C258.4 1251.3 263.8 1251.1 268.5 1251.3 C273.1 1251.4 278.2 1251.7 284.1 1252.0 C289.9 1252.4 297.1 1253.1 303.6 1253.2 C310.1 1253.3 316.7 1252.4 323.2 1252.4 C329.7 1252.4 336.8 1253.0 342.7 1253.2 C348.6 1253.5 353.7 1253.8 358.3 1254.0 C363.0 1254.2 368.5 1254.3 370.5 1254.4" fill="none" stroke="#f7a7a7" stroke-width="8.0" stroke-linecap="round" stroke-linejoin="round"/>
</g>
<clipPath id="k8_1"><rect x="389.8" y="1177.4" width="144.6" height="144.4"/></clipPath>
<g clip-path="url(#k8_1)">
<path d="M400.9 1221.9 C401.7 1222.6 403.2 1224.6 405.2 1225.9 C407.3 1227.2 410.1 1230.1 413.1 1229.8 C416.0 1229.4 419.6 1225.4 422.8 1223.9 C426.1 1222.4 429.3 1221.1 432.6 1220.8 C435.9 1220.4 439.1 1220.8 442.4 1221.9 C445.6 1223.1 448.9 1225.7 452.1 1227.8 C455.4 1230.0 458.7 1232.9 461.9 1234.8 C465.2 1236.8 468.4 1237.8 471.7 1239.5 C474.9 1241.3 478.2 1243.1 481.5 1245.4 C484.7 1247.7 487.6 1251.3 491.2 1253.2 C494.8 1255.2 499.7 1256.5 503.0 1257.1 C506.2 1257.8 508.7 1257.6 510.8 1257.1 C512.9 1256.7 514.7 1254.8 515.5 1254.4 L515.5 1298.9 C514.7 1297.8 512.9 1294.4 510.8 1292.3 C508.7 1290.2 506.2 1288.1 503.0 1286.4 C499.7 1284.8 495.1 1284.2 491.2 1282.5 C487.3 1280.9 483.4 1278.6 479.5 1276.7 C475.6 1274.7 471.7 1272.8 467.8 1270.8 C463.9 1268.8 459.6 1266.9 456.1 1264.9 C452.5 1263.0 449.5 1260.4 446.3 1259.1 C443.0 1257.8 440.1 1256.5 436.5 1257.1 C432.9 1257.8 428.7 1260.7 424.8 1263.0 C420.9 1265.3 416.3 1268.5 413.1 1270.8 C409.8 1273.1 407.3 1274.1 405.2 1276.7 C403.2 1279.3 401.7 1284.8 400.9 1286.4 Z" fill="#fde0e0"/>
<path d="M401.2 1253.2 C402.2 1252.2 404.6 1249.3 407.2 1247.4 C409.8 1245.4 413.7 1242.9 417.0 1241.5 C420.2 1240.1 423.8 1239.4 426.7 1238.8 C429.7 1238.1 431.9 1237.6 434.6 1237.6 C437.2 1237.6 439.4 1237.8 442.4 1238.8 C445.3 1239.7 448.9 1241.7 452.1 1243.4 C455.4 1245.2 458.7 1247.4 461.9 1249.3 C465.2 1251.3 468.4 1253.2 471.7 1255.2 C474.9 1257.1 478.2 1258.9 481.5 1261.0 C484.7 1263.1 487.6 1265.7 491.2 1267.7 C494.8 1269.6 499.0 1271.1 503.0 1272.8 C506.9 1274.4 513.1 1277.0 515.2 1277.8" fill="none" stroke="#e8939a" stroke-width="2.4" stroke-linecap="butt" stroke-linejoin="round"/>
</g>
<clipPath id="k8_2"><rect x="534.4" y="1177.4" width="144.5" height="144.4"/></clipPath>
<g clip-path="url(#k8_2)">
<path d="M544.8 1177.0 C545.6 1179.6 547.7 1188.4 549.9 1192.6 C552.0 1196.9 554.7 1200.1 557.7 1202.4 C560.6 1204.7 564.2 1204.0 567.4 1206.3 C570.7 1208.6 574.0 1212.5 577.2 1216.1 C580.5 1219.7 583.7 1223.9 587.0 1227.8 C590.2 1231.7 593.5 1236.8 596.8 1239.5 C600.0 1242.3 603.3 1242.6 606.5 1244.2 C609.8 1245.9 613.4 1247.2 616.3 1249.3 C619.2 1251.5 621.5 1254.2 624.1 1257.1 C626.7 1260.1 629.0 1264.0 631.9 1266.9 C634.9 1269.8 638.4 1272.1 641.7 1274.7 C645.0 1277.3 648.5 1281.4 651.5 1282.5 C654.4 1283.7 658.0 1281.9 659.3 1281.7 L659.3 1321.6 C658.3 1321.0 655.7 1320.0 653.4 1317.7 C651.1 1315.4 648.5 1310.9 645.6 1307.9 C642.7 1305.0 639.4 1303.0 635.8 1300.1 C632.3 1297.2 627.7 1293.8 624.1 1290.3 C620.5 1286.9 617.6 1282.0 614.3 1279.4 C611.1 1276.8 607.8 1276.1 604.6 1274.7 C601.3 1273.3 598.1 1272.4 594.8 1270.8 C591.5 1269.2 588.3 1267.9 585.0 1264.9 C581.8 1262.0 578.5 1257.1 575.3 1253.2 C572.0 1249.3 568.7 1245.7 565.5 1241.5 C562.2 1237.3 558.3 1229.8 555.7 1227.8 C553.1 1225.9 551.7 1227.8 549.9 1229.8 C548.0 1231.7 545.6 1237.9 544.8 1239.5 Z" fill="#fde0e0"/>
<path d="M545.1 1201.2 C546.5 1202.7 550.7 1207.0 553.8 1210.2 C556.8 1213.5 560.3 1217.3 563.5 1220.8 C566.8 1224.2 570.0 1227.5 573.3 1230.9 C576.6 1234.4 579.8 1238.1 583.1 1241.5 C586.3 1244.9 589.6 1248.8 592.8 1251.3 C596.1 1253.7 599.4 1254.6 602.6 1255.9 C605.9 1257.3 609.5 1257.6 612.4 1259.1 C615.3 1260.6 617.3 1262.0 620.2 1264.9 C623.1 1267.9 626.7 1273.1 630.0 1276.7 C633.2 1280.2 636.5 1283.2 639.7 1286.4 C643.0 1289.7 646.3 1293.1 649.5 1296.2 C652.7 1299.3 657.4 1303.7 659.0 1305.2" fill="none" stroke="#e8939a" stroke-width="2.4" stroke-linecap="butt" stroke-linejoin="round"/>
</g>
<clipPath id="k8_3"><rect x="678.9" y="1177.4" width="144.6" height="144.4"/></clipPath>
<g clip-path="url(#k8_3)">
<path d="M688.6 1241.5 C689.4 1239.9 691.5 1235.6 693.6 1231.7 C695.8 1227.8 698.8 1221.4 701.5 1218.0 C704.1 1214.7 706.7 1212.5 709.3 1211.4 C711.9 1210.3 714.5 1210.6 717.1 1211.4 C719.7 1212.2 722.6 1213.3 724.9 1216.1 C727.2 1218.8 728.8 1222.6 730.8 1227.8 C732.7 1233.0 734.3 1243.6 736.6 1247.4 C738.9 1251.1 741.5 1250.2 744.4 1250.5 C747.4 1250.8 751.3 1250.8 754.2 1249.3 C757.1 1247.8 759.1 1243.4 762.0 1241.5 C765.0 1239.5 768.2 1238.6 771.8 1237.6 C775.4 1236.6 779.6 1236.0 783.5 1235.6 C787.4 1235.3 791.9 1236.3 795.3 1235.6 C798.6 1235.0 802.4 1232.4 803.8 1231.7 L803.8 1280.6 C802.7 1278.9 799.9 1273.4 797.2 1270.8 C794.5 1268.2 791.0 1266.2 787.4 1264.9 C783.9 1263.6 779.6 1262.3 775.7 1263.0 C771.8 1263.6 767.6 1266.6 764.0 1268.8 C760.4 1271.1 757.5 1275.2 754.2 1276.7 C751.0 1278.2 747.4 1278.2 744.4 1277.8 C741.5 1277.5 738.9 1278.2 736.6 1274.7 C734.3 1271.3 733.0 1262.0 730.8 1257.1 C728.5 1252.2 725.6 1247.8 722.9 1245.4 C720.3 1243.0 717.7 1242.0 715.1 1242.7 C712.5 1243.3 709.9 1245.6 707.3 1249.3 C704.7 1253.0 701.8 1259.7 699.5 1264.9 C697.2 1270.1 695.5 1274.4 693.6 1280.6 C691.8 1286.8 689.4 1298.5 688.6 1302.1 Z" fill="#fde0e0"/>
<path d="M688.9 1273.9 C689.6 1270.8 691.9 1260.8 693.6 1255.2 C695.4 1249.6 697.5 1244.4 699.5 1240.3 C701.5 1236.3 703.4 1233.2 705.4 1230.9 C707.3 1228.7 709.3 1227.4 711.2 1226.6 C713.2 1225.9 715.1 1226.1 717.1 1226.6 C719.0 1227.2 721.0 1227.6 722.9 1229.8 C724.9 1231.9 726.9 1235.3 728.8 1239.5 C730.8 1243.8 732.7 1251.6 734.7 1255.2 C736.6 1258.7 738.3 1259.7 740.5 1261.0 C742.8 1262.3 746.1 1263.0 748.4 1263.0 C750.6 1263.0 751.9 1262.3 754.2 1261.0 C756.5 1259.7 759.1 1256.9 762.0 1255.2 C765.0 1253.4 768.5 1251.5 771.8 1250.5 C775.1 1249.4 778.3 1248.9 781.6 1248.9 C784.8 1248.9 787.7 1249.1 791.3 1250.5 C795.0 1251.8 801.5 1256.0 803.5 1257.1" fill="none" stroke="#e8939a" stroke-width="2.4" stroke-linecap="butt" stroke-linejoin="round"/>
</g>
<clipPath id="k8_4"><rect x="823.5" y="1177.4" width="144.5" height="144.4"/></clipPath>
<g clip-path="url(#k8_4)">
<path d="M833.9 1231.7 C834.7 1234.3 836.2 1243.8 838.2 1247.4 C840.3 1250.9 842.8 1252.7 846.1 1253.2 C849.3 1253.7 853.9 1251.1 857.8 1250.5 C861.7 1249.8 865.6 1250.5 869.5 1249.3 C873.4 1248.1 877.3 1245.7 881.2 1243.4 C885.1 1241.2 889.1 1237.6 893.0 1235.6 C896.9 1233.7 900.8 1233.3 904.7 1231.7 C908.6 1230.1 912.5 1227.8 916.4 1225.9 C920.3 1223.9 924.6 1221.9 928.1 1220.0 C931.7 1218.0 934.5 1216.9 937.9 1214.1 C941.3 1211.4 946.7 1205.3 948.5 1203.6 L948.5 1257.1 C947.4 1257.1 944.5 1257.1 941.8 1257.1 C939.1 1257.1 935.6 1256.5 932.0 1257.1 C928.5 1257.8 924.2 1259.7 920.3 1261.0 C916.4 1262.3 912.5 1264.0 908.6 1264.9 C904.7 1265.9 900.8 1265.6 896.9 1266.9 C893.0 1268.2 889.1 1270.7 885.1 1272.8 C881.2 1274.8 877.3 1277.4 873.4 1279.4 C869.5 1281.4 865.6 1283.6 861.7 1284.5 C857.8 1285.3 853.6 1284.5 850.0 1284.5 C846.4 1284.5 842.9 1282.7 840.2 1284.5 C837.5 1286.2 835.0 1293.3 833.9 1295.0 Z" fill="#fde0e0"/>
<path d="M834.2 1263.0 C835.6 1263.5 839.2 1265.2 842.2 1266.1 C845.1 1267.0 848.7 1268.2 851.9 1268.5 C855.2 1268.7 858.8 1268.3 861.7 1267.7 C864.6 1267.1 866.9 1266.0 869.5 1264.9 C872.1 1263.8 874.4 1262.7 877.3 1261.0 C880.3 1259.4 883.8 1256.8 887.1 1255.2 C890.4 1253.5 893.3 1252.6 896.9 1251.3 C900.5 1250.0 904.7 1248.8 908.6 1247.4 C912.5 1245.9 916.4 1244.3 920.3 1242.7 C924.2 1241.0 927.4 1239.6 932.0 1237.6 C936.7 1235.6 945.5 1231.7 948.2 1230.5" fill="none" stroke="#e8939a" stroke-width="2.4" stroke-linecap="butt" stroke-linejoin="round"/>
</g>
<clipPath id="k8_5"><rect x="968.0" y="1177.4" width="144.3" height="144.4"/></clipPath>
<g clip-path="url(#k8_5)">
<path d="M977.8 1180.9 C978.6 1183.2 980.7 1188.7 982.9 1194.6 C985.0 1200.5 988.1 1209.6 990.7 1216.1 C993.3 1222.6 995.9 1228.5 998.5 1233.7 C1001.1 1238.9 1003.7 1243.1 1006.3 1247.4 C1008.9 1251.6 1011.5 1256.8 1014.1 1259.1 C1016.7 1261.4 1019.0 1262.0 1021.9 1261.0 C1024.9 1260.1 1028.4 1255.2 1031.7 1253.2 C1035.0 1251.3 1037.9 1249.6 1041.5 1249.3 C1045.1 1249.0 1049.3 1251.3 1053.2 1251.3 C1057.1 1251.3 1061.0 1250.6 1064.9 1249.3 C1068.8 1248.0 1073.1 1246.0 1076.7 1243.4 C1080.2 1240.8 1083.7 1237.3 1086.4 1233.7 C1089.2 1230.1 1092.0 1223.9 1093.1 1221.9 L1093.1 1280.6 C1092.3 1279.9 1090.8 1278.0 1088.4 1276.7 C1086.0 1275.4 1082.2 1273.4 1078.6 1272.8 C1075.0 1272.1 1070.8 1272.1 1066.9 1272.8 C1063.0 1273.4 1059.1 1276.3 1055.2 1276.7 C1051.2 1277.0 1047.0 1274.5 1043.4 1274.7 C1039.8 1274.9 1036.9 1276.5 1033.7 1277.8 C1030.4 1279.1 1026.8 1280.8 1023.9 1282.5 C1021.0 1284.3 1018.7 1288.4 1016.1 1288.4 C1013.5 1288.4 1010.9 1285.5 1008.3 1282.5 C1005.7 1279.6 1003.0 1275.7 1000.4 1270.8 C997.8 1265.9 995.2 1258.1 992.6 1253.2 C990.0 1248.3 987.3 1245.1 984.8 1241.5 C982.3 1237.9 978.9 1233.3 977.8 1231.7 Z" fill="#fde0e0"/>
<path d="M978.1 1201.2 C978.9 1203.7 981.1 1211.0 982.9 1216.1 C984.6 1221.2 986.4 1226.2 988.7 1231.7 C991.0 1237.3 993.9 1243.8 996.5 1249.3 C999.1 1254.8 1001.7 1260.7 1004.3 1264.9 C1007.0 1269.2 1009.9 1272.8 1012.2 1274.7 C1014.4 1276.7 1016.1 1277.3 1018.0 1276.7 C1020.0 1276.0 1021.6 1272.6 1023.9 1270.8 C1026.2 1269.0 1028.8 1267.5 1031.7 1266.1 C1034.6 1264.7 1037.9 1262.6 1041.5 1262.2 C1045.1 1261.8 1049.3 1264.0 1053.2 1263.8 C1057.1 1263.6 1061.0 1262.1 1064.9 1261.0 C1068.8 1259.9 1072.0 1258.9 1076.7 1257.1 C1081.3 1255.4 1090.1 1251.6 1092.8 1250.5" fill="none" stroke="#e8939a" stroke-width="2.4" stroke-linecap="butt" stroke-linejoin="round"/>
</g>
<clipPath id="k9_0"><rect x="245.4" y="1321.8" width="144.4" height="144.4"/></clipPath>
<g clip-path="url(#k9_0)">
<path d="M255.6 1376.7 C256.4 1377.7 258.5 1381.3 260.6 1382.6 C262.8 1383.9 264.5 1384.9 268.5 1384.5 C272.4 1384.2 279.5 1381.4 284.1 1380.6 C288.6 1379.8 291.9 1379.5 295.8 1379.8 C299.7 1380.2 303.6 1382.1 307.5 1382.6 C311.4 1383.0 316.3 1381.9 319.3 1382.6 C322.2 1383.2 323.5 1386.8 325.1 1386.5 C326.7 1386.2 326.1 1381.6 329.0 1380.6 C332.0 1379.6 338.5 1381.3 342.7 1380.6 C346.9 1380.0 351.2 1378.7 354.4 1376.7 C357.7 1374.8 360.0 1371.2 362.3 1368.9 C364.5 1366.6 366.7 1364.5 368.1 1363.0 C369.5 1361.6 370.4 1360.8 370.8 1360.3 L370.8 1429.5 C369.7 1428.8 366.9 1426.9 364.2 1425.6 C361.5 1424.3 358.0 1422.3 354.4 1421.7 C350.9 1421.0 346.9 1421.7 342.7 1421.7 C338.5 1421.7 332.0 1422.6 329.0 1421.7 C326.1 1420.7 326.7 1416.8 325.1 1415.8 C323.5 1414.8 322.8 1415.7 319.3 1415.8 C315.7 1415.9 308.8 1416.5 303.6 1416.6 C298.4 1416.7 293.2 1416.6 288.0 1416.6 C282.8 1416.6 276.6 1416.4 272.4 1416.6 C268.1 1416.8 265.4 1416.3 262.6 1417.8 C259.8 1419.3 256.7 1424.3 255.6 1425.6 Z" fill="#e5f7d6"/>
<path d="M256.4 1400.2 C258.4 1400.2 263.8 1400.5 268.5 1400.2 C273.1 1399.8 278.9 1398.7 284.1 1398.2 C289.3 1397.7 295.2 1397.0 299.7 1397.0 C304.3 1397.0 307.5 1397.7 311.4 1398.2 C315.4 1398.7 318.6 1399.8 323.2 1400.2 C327.7 1400.5 333.6 1400.3 338.8 1400.2 C344.0 1400.0 350.2 1399.8 354.4 1399.4 C358.7 1398.9 361.5 1398.2 364.2 1397.4 C366.9 1396.6 369.5 1395.2 370.5 1394.7" fill="none" stroke="#ace07e" stroke-width="8.0" stroke-linecap="round" stroke-linejoin="round"/>
</g>
<clipPath id="k9_1"><rect x="389.8" y="1321.8" width="144.6" height="144.4"/></clipPath>
<g clip-path="url(#k9_1)">
<path d="M400.9 1373.6 C401.7 1374.1 403.2 1377.2 405.2 1376.7 C407.3 1376.3 410.1 1373.1 413.1 1370.9 C416.0 1368.6 419.6 1365.2 422.8 1363.0 C426.1 1360.9 429.7 1358.4 432.6 1358.0 C435.5 1357.5 437.8 1358.8 440.4 1360.3 C443.0 1361.8 445.6 1364.2 448.2 1366.9 C450.8 1369.7 453.4 1373.8 456.1 1376.7 C458.7 1379.6 461.3 1383.6 463.9 1384.5 C466.5 1385.5 468.4 1382.6 471.7 1382.6 C474.9 1382.6 479.5 1383.9 483.4 1384.5 C487.3 1385.2 491.2 1386.0 495.1 1386.5 C499.0 1387.0 503.5 1389.3 506.9 1387.7 C510.2 1386.0 514.0 1378.5 515.5 1376.7 L515.5 1431.4 C514.7 1430.8 513.5 1429.0 510.8 1427.5 C508.0 1426.1 503.0 1424.0 499.0 1422.8 C495.1 1421.7 491.2 1421.0 487.3 1420.5 C483.4 1420.0 479.2 1419.8 475.6 1419.7 C472.0 1419.6 468.8 1420.0 465.8 1419.7 C462.9 1419.4 460.6 1420.0 458.0 1417.8 C455.4 1415.5 452.8 1409.9 450.2 1406.0 C447.6 1402.1 445.0 1397.2 442.4 1394.3 C439.8 1391.4 437.2 1388.8 434.6 1388.4 C431.9 1388.1 429.7 1390.4 426.7 1392.4 C423.8 1394.3 420.2 1396.9 417.0 1400.2 C413.7 1403.4 409.9 1408.1 407.2 1411.9 C404.5 1415.7 402.0 1421.0 400.9 1422.8 Z" fill="#e5f7d6"/>
<path d="M401.2 1399.0 C402.2 1397.6 404.9 1392.9 407.2 1390.4 C409.5 1387.9 412.1 1385.8 415.0 1383.8 C417.9 1381.7 421.9 1379.7 424.8 1377.9 C427.7 1376.1 430.3 1373.3 432.6 1372.8 C434.9 1372.3 436.5 1373.5 438.5 1374.8 C440.4 1376.1 442.0 1378.0 444.3 1380.6 C446.6 1383.2 449.9 1387.1 452.1 1390.4 C454.4 1393.7 456.1 1397.9 458.0 1400.2 C460.0 1402.4 461.6 1403.9 463.9 1404.1 C466.1 1404.3 469.1 1401.7 471.7 1401.3 C474.3 1401.0 476.2 1401.7 479.5 1402.1 C482.8 1402.6 487.3 1403.6 491.2 1404.1 C495.1 1404.5 499.0 1404.7 503.0 1404.9 C506.9 1405.0 513.1 1404.9 515.2 1404.9" fill="none" stroke="#a6d67c" stroke-width="2.4" stroke-linecap="butt" stroke-linejoin="round"/>
</g>
<clipPath id="k9_2"><rect x="534.4" y="1321.8" width="144.5" height="144.4"/></clipPath>
<g clip-path="url(#k9_2)">
<path d="M544.8 1374.8 C545.6 1375.7 547.7 1378.9 549.9 1380.6 C552.0 1382.4 554.4 1384.7 557.7 1385.3 C560.9 1386.0 565.8 1385.0 569.4 1384.5 C573.0 1384.1 575.9 1382.7 579.2 1382.6 C582.4 1382.4 585.7 1383.1 588.9 1383.8 C592.2 1384.4 596.1 1385.4 598.7 1386.5 C601.3 1387.6 602.6 1390.7 604.6 1390.4 C606.5 1390.1 608.2 1387.8 610.4 1384.5 C612.7 1381.3 615.3 1373.1 618.2 1370.9 C621.2 1368.6 624.4 1371.3 628.0 1370.9 C631.6 1370.4 636.2 1369.4 639.7 1368.1 C643.3 1366.8 646.6 1365.5 649.5 1363.0 C652.4 1360.6 655.6 1355.4 657.3 1353.3 C659.1 1351.1 659.6 1350.7 660.1 1350.1 L660.1 1396.3 C659.6 1396.1 659.1 1395.3 657.3 1395.5 C655.6 1395.6 652.8 1396.3 649.5 1397.0 C646.3 1397.8 641.7 1399.3 637.8 1400.2 C633.9 1401.0 629.6 1401.5 626.1 1402.1 C622.5 1402.8 619.2 1402.8 616.3 1404.1 C613.4 1405.4 610.8 1408.0 608.5 1409.9 C606.2 1411.9 604.9 1415.6 602.6 1415.8 C600.3 1416.0 597.7 1412.3 594.8 1411.1 C591.9 1409.9 588.6 1409.0 585.0 1408.8 C581.4 1408.6 577.2 1409.3 573.3 1409.9 C569.4 1410.6 565.2 1411.7 561.6 1412.7 C558.0 1413.7 554.6 1414.6 551.8 1415.8 C549.0 1417.0 545.9 1419.1 544.8 1419.7 Z" fill="#e5f7d6"/>
<path d="M545.1 1395.5 C546.5 1395.8 550.4 1397.0 553.8 1397.4 C557.2 1397.9 561.9 1398.4 565.5 1398.2 C569.1 1398.0 572.7 1396.9 575.3 1396.3 C577.9 1395.6 578.8 1394.5 581.1 1394.3 C583.4 1394.1 586.3 1394.4 588.9 1395.1 C591.5 1395.7 594.3 1397.0 596.8 1398.2 C599.2 1399.4 601.8 1402.1 603.8 1402.1 C605.7 1402.1 606.7 1400.2 608.5 1398.2 C610.2 1396.3 612.1 1392.5 614.3 1390.4 C616.6 1388.3 619.2 1386.7 622.2 1385.7 C625.1 1384.7 628.3 1385.3 631.9 1384.5 C635.5 1383.8 640.1 1382.6 643.7 1381.4 C647.2 1380.2 650.7 1378.9 653.4 1377.5 C656.1 1376.1 658.7 1373.6 659.8 1372.8" fill="none" stroke="#a6d67c" stroke-width="2.4" stroke-linecap="butt" stroke-linejoin="round"/>
</g>
<clipPath id="k9_3"><rect x="678.9" y="1321.8" width="144.6" height="144.4"/></clipPath>
<g clip-path="url(#k9_3)">
<path d="M688.6 1384.5 C689.4 1385.8 691.5 1390.7 693.6 1392.4 C695.8 1394.0 698.5 1394.3 701.5 1394.3 C704.4 1394.3 708.0 1394.0 711.2 1392.4 C714.5 1390.7 718.1 1387.8 721.0 1384.5 C723.9 1381.3 726.2 1376.1 728.8 1372.8 C731.4 1369.6 734.0 1366.2 736.6 1365.0 C739.2 1363.8 742.2 1365.1 744.4 1365.8 C746.7 1366.4 748.4 1366.4 750.3 1368.9 C752.3 1371.4 754.2 1376.7 756.2 1380.6 C758.1 1384.5 759.4 1389.4 762.0 1392.4 C764.6 1395.3 768.5 1396.6 771.8 1398.2 C775.1 1399.8 778.3 1401.1 781.6 1402.1 C784.8 1403.1 788.4 1404.4 791.3 1404.1 C794.3 1403.7 797.1 1401.6 799.2 1400.2 C801.2 1398.7 803.1 1396.3 803.8 1395.5 L803.8 1433.4 C802.1 1433.1 797.0 1431.9 793.3 1431.4 C789.6 1431.0 785.2 1430.8 781.6 1430.7 C778.0 1430.5 775.1 1430.8 771.8 1430.7 C768.5 1430.5 764.6 1432.6 762.0 1429.5 C759.4 1426.4 758.4 1417.4 756.2 1411.9 C753.9 1406.4 751.0 1399.5 748.4 1396.3 C745.7 1393.0 743.1 1391.7 740.5 1392.4 C737.9 1393.0 735.3 1397.2 732.7 1400.2 C730.1 1403.1 727.8 1407.3 724.9 1409.9 C722.0 1412.5 718.4 1414.2 715.1 1415.8 C711.9 1417.4 708.6 1418.4 705.4 1419.7 C702.1 1421.0 698.4 1422.3 695.6 1423.6 C692.8 1424.9 689.7 1426.9 688.6 1427.5 Z" fill="#e5f7d6"/>
<path d="M688.9 1405.2 C690.0 1405.7 693.2 1407.5 695.6 1408.0 C698.0 1408.4 700.5 1408.6 703.4 1408.0 C706.3 1407.3 709.9 1406.0 713.2 1404.1 C716.4 1402.1 720.0 1399.2 722.9 1396.3 C725.9 1393.3 728.5 1389.3 730.8 1386.5 C733.0 1383.7 734.7 1380.9 736.6 1379.5 C738.6 1378.0 740.5 1377.7 742.5 1377.9 C744.4 1378.1 746.4 1378.9 748.4 1380.6 C750.3 1382.4 752.3 1384.9 754.2 1388.4 C756.2 1392.0 758.1 1398.3 760.1 1402.1 C762.0 1405.9 763.3 1409.2 765.9 1411.1 C768.5 1413.1 772.5 1413.1 775.7 1413.8 C779.0 1414.6 782.2 1415.3 785.5 1415.8 C788.7 1416.3 792.2 1416.7 795.3 1416.6 C798.3 1416.5 802.2 1415.3 803.5 1415.0" fill="none" stroke="#a6d67c" stroke-width="2.4" stroke-linecap="butt" stroke-linejoin="round"/>
</g>
<clipPath id="k9_4"><rect x="823.5" y="1321.8" width="144.5" height="144.4"/></clipPath>
<g clip-path="url(#k9_4)">
<path d="M833.9 1376.7 C834.7 1378.7 836.2 1385.5 838.2 1388.4 C840.3 1391.4 842.8 1393.0 846.1 1394.3 C849.3 1395.6 853.9 1395.3 857.8 1396.3 C861.7 1397.2 865.6 1399.8 869.5 1400.2 C873.4 1400.5 878.0 1399.0 881.2 1398.2 C884.5 1397.4 886.8 1396.1 889.1 1395.5 C891.3 1394.8 893.0 1393.8 894.9 1394.3 C896.9 1394.8 898.8 1396.6 900.8 1398.2 C902.7 1399.8 904.0 1403.1 906.6 1404.1 C909.2 1405.1 912.8 1404.2 916.4 1404.1 C920.0 1403.9 924.2 1403.6 928.1 1403.3 C932.0 1403.0 936.5 1403.0 939.9 1402.1 C943.2 1401.3 947.0 1398.9 948.5 1398.2 L948.5 1427.5 C947.7 1427.5 946.5 1427.7 943.8 1427.5 C941.0 1427.4 936.0 1426.9 932.0 1426.7 C928.1 1426.6 924.2 1426.7 920.3 1426.7 C916.4 1426.7 911.5 1427.6 908.6 1426.7 C905.7 1425.9 904.7 1423.5 902.7 1421.7 C900.8 1419.8 898.8 1416.5 896.9 1415.8 C894.9 1415.1 893.6 1417.1 891.0 1417.8 C888.4 1418.4 884.8 1419.3 881.2 1419.7 C877.7 1420.2 873.4 1420.8 869.5 1420.5 C865.6 1420.2 861.7 1418.5 857.8 1417.8 C853.9 1417.0 849.3 1415.1 846.1 1415.8 C842.8 1416.5 840.3 1419.7 838.2 1421.7 C836.2 1423.6 834.7 1426.5 833.9 1427.5 Z" fill="#e5f7d6"/>
<path d="M834.2 1401.3 C835.6 1401.6 839.2 1402.3 842.2 1402.9 C845.1 1403.6 848.7 1404.4 851.9 1405.2 C855.2 1406.1 858.4 1407.2 861.7 1408.0 C864.9 1408.8 868.2 1409.8 871.5 1409.9 C874.7 1410.1 878.3 1409.4 881.2 1408.8 C884.2 1408.1 886.8 1406.7 889.1 1406.0 C891.3 1405.4 893.0 1404.5 894.9 1404.9 C896.9 1405.2 898.8 1406.5 900.8 1408.0 C902.7 1409.5 904.7 1412.7 906.6 1413.8 C908.6 1415.0 909.6 1414.6 912.5 1414.6 C915.4 1414.6 920.3 1414.1 924.2 1413.8 C928.1 1413.6 932.0 1413.2 936.0 1413.1 C939.9 1412.9 946.1 1413.1 948.2 1413.1" fill="none" stroke="#a6d67c" stroke-width="2.4" stroke-linecap="butt" stroke-linejoin="round"/>
</g>
<clipPath id="k9_5"><rect x="968.0" y="1321.8" width="144.3" height="144.4"/></clipPath>
<g clip-path="url(#k9_5)">
<path d="M977.8 1376.7 C978.6 1378.7 980.7 1385.3 982.9 1388.4 C985.0 1391.6 987.4 1393.2 990.7 1395.5 C993.9 1397.8 998.5 1400.7 1002.4 1402.1 C1006.3 1403.6 1010.5 1404.1 1014.1 1404.1 C1017.7 1404.1 1021.0 1403.4 1023.9 1402.1 C1026.8 1400.8 1029.1 1398.9 1031.7 1396.3 C1034.3 1393.7 1036.9 1389.7 1039.5 1386.5 C1042.1 1383.2 1044.7 1380.6 1047.3 1376.7 C1049.9 1372.8 1052.2 1366.0 1055.2 1363.0 C1058.1 1360.1 1061.7 1361.4 1064.9 1359.1 C1068.2 1356.8 1071.4 1352.9 1074.7 1349.4 C1078.0 1345.8 1081.9 1341.9 1084.5 1337.6 C1087.1 1333.4 1088.9 1326.6 1090.3 1324.0 C1091.8 1321.3 1092.6 1322.3 1093.1 1322.0 L1093.1 1384.5 C1092.3 1383.9 1090.8 1381.3 1088.4 1380.6 C1086.0 1380.0 1081.9 1379.5 1078.6 1380.6 C1075.3 1381.8 1072.1 1385.4 1068.8 1387.7 C1065.6 1389.9 1062.3 1391.9 1059.1 1394.3 C1055.8 1396.7 1052.6 1398.5 1049.3 1402.1 C1046.0 1405.7 1042.5 1412.1 1039.5 1415.8 C1036.6 1419.5 1034.3 1421.9 1031.7 1424.4 C1029.1 1426.9 1026.8 1429.3 1023.9 1430.7 C1021.0 1432.0 1017.4 1432.2 1014.1 1432.2 C1010.9 1432.2 1007.6 1431.3 1004.3 1430.7 C1001.1 1430.0 997.8 1429.2 994.6 1428.3 C991.3 1427.5 987.6 1426.0 984.8 1425.6 C982.0 1425.1 978.9 1425.6 977.8 1425.6 Z" fill="#e5f7d6"/>
<path d="M978.1 1400.2 C979.2 1401.1 982.4 1404.1 984.8 1406.0 C987.2 1408.0 990.0 1410.3 992.6 1411.9 C995.2 1413.5 997.5 1414.8 1000.4 1415.8 C1003.4 1416.8 1006.6 1417.4 1010.2 1417.8 C1013.8 1418.1 1018.7 1418.6 1021.9 1417.8 C1025.2 1416.9 1027.1 1415.0 1029.8 1412.7 C1032.4 1410.4 1035.0 1407.5 1037.6 1404.1 C1040.2 1400.7 1042.8 1395.9 1045.4 1392.4 C1048.0 1388.8 1050.3 1385.2 1053.2 1382.6 C1056.1 1380.0 1059.7 1379.0 1063.0 1376.7 C1066.2 1374.4 1069.5 1371.8 1072.7 1368.9 C1076.0 1366.0 1079.2 1362.6 1082.5 1359.1 C1085.9 1355.7 1091.1 1350.0 1092.8 1348.2" fill="none" stroke="#a6d67c" stroke-width="2.4" stroke-linecap="butt" stroke-linejoin="round"/>
</g>
<clipPath id="k10_0"><rect x="245.4" y="1466.2" width="144.4" height="144.4"/></clipPath>
<g clip-path="url(#k10_0)">
<path d="M255.6 1503.1 C256.4 1505.4 258.5 1513.4 260.6 1516.8 C262.8 1520.3 265.2 1521.9 268.5 1523.8 C271.7 1525.8 275.6 1527.2 280.2 1528.5 C284.7 1529.8 290.6 1531.1 295.8 1531.7 C301.0 1532.2 306.2 1532.1 311.4 1531.7 C316.7 1531.3 321.9 1530.2 327.1 1529.3 C332.3 1528.5 338.1 1527.5 342.7 1526.6 C347.3 1525.7 351.2 1525.6 354.4 1523.8 C357.7 1522.1 360.0 1519.2 362.3 1516.0 C364.5 1512.9 366.7 1508.5 368.1 1505.1 C369.5 1501.6 370.4 1496.9 370.8 1495.3 L370.8 1591.8 C370.1 1589.4 367.9 1581.8 366.2 1577.4 C364.4 1573.0 362.9 1568.7 360.3 1565.7 C357.7 1562.6 354.1 1559.9 350.5 1559.0 C346.9 1558.2 343.4 1560.1 338.8 1560.6 C334.2 1561.0 329.0 1561.8 323.2 1561.8 C317.3 1561.8 310.1 1560.6 303.6 1560.6 C297.1 1560.6 289.9 1560.9 284.1 1561.8 C278.2 1562.6 272.4 1564.6 268.5 1565.7 C264.5 1566.8 262.8 1566.8 260.6 1568.4 C258.5 1570.0 256.4 1574.3 255.6 1575.4 Z" fill="#f2e6fa"/>
<path d="M256.4 1538.3 C258.4 1538.8 263.8 1540.1 268.5 1541.0 C273.1 1542.0 278.2 1543.4 284.1 1544.2 C289.9 1544.9 297.1 1545.4 303.6 1545.7 C310.1 1546.1 316.7 1546.2 323.2 1546.1 C329.7 1546.1 336.8 1545.7 342.7 1545.3 C348.6 1545.0 353.7 1544.6 358.3 1544.2 C363.0 1543.8 368.5 1543.2 370.5 1543.0" fill="none" stroke="#d8b8ee" stroke-width="8.0" stroke-linecap="round" stroke-linejoin="round"/>
</g>
<clipPath id="k10_1"><rect x="389.8" y="1466.2" width="144.6" height="144.4"/></clipPath>
<g clip-path="url(#k10_1)">
<path d="M400.9 1555.1 C402.0 1555.9 404.5 1560.0 407.2 1559.8 C409.9 1559.6 413.7 1556.5 417.0 1553.9 C420.2 1551.3 423.2 1547.1 426.7 1544.2 C430.3 1541.2 434.6 1539.0 438.5 1536.4 C442.4 1533.7 446.3 1530.8 450.2 1528.5 C454.1 1526.3 458.3 1525.3 461.9 1522.7 C465.5 1520.1 468.4 1515.8 471.7 1512.9 C474.9 1510.0 478.2 1507.4 481.5 1505.1 C484.7 1502.8 488.0 1500.8 491.2 1499.2 C494.5 1497.6 498.1 1497.9 501.0 1495.3 C503.9 1492.7 506.5 1488.1 508.8 1483.6 C511.1 1479.0 513.7 1470.6 514.7 1468.0 L515.5 1535.6 C515.0 1534.7 514.2 1532.3 512.7 1530.5 C511.3 1528.7 509.5 1524.6 506.9 1524.6 C504.3 1524.6 500.3 1528.5 497.1 1530.5 C493.8 1532.4 490.6 1534.4 487.3 1536.4 C484.1 1538.3 480.8 1539.3 477.5 1542.2 C474.3 1545.1 471.0 1551.0 467.8 1553.9 C464.5 1556.9 461.3 1558.2 458.0 1559.8 C454.7 1561.4 451.5 1562.1 448.2 1563.7 C445.0 1565.3 442.0 1567.6 438.5 1569.6 C434.9 1571.5 430.3 1573.5 426.7 1575.4 C423.2 1577.4 420.2 1579.3 417.0 1581.3 C413.7 1583.3 409.9 1583.9 407.2 1587.2 C404.5 1590.4 402.0 1598.6 400.9 1600.8 Z" fill="#f2e6fa"/>
<path d="M401.2 1578.2 C402.6 1577.2 406.2 1574.2 409.2 1572.3 C412.1 1570.4 415.7 1568.7 418.9 1566.8 C422.2 1564.9 425.4 1562.9 428.7 1561.0 C431.9 1559.0 435.2 1557.3 438.5 1555.1 C441.7 1553.0 445.0 1550.2 448.2 1548.1 C451.5 1545.9 455.4 1543.8 458.0 1542.2 C460.6 1540.6 461.6 1540.6 463.9 1538.3 C466.1 1536.0 468.8 1531.5 471.7 1528.5 C474.6 1525.6 478.2 1523.0 481.5 1520.7 C484.7 1518.4 488.0 1516.8 491.2 1514.9 C494.5 1512.9 497.1 1512.2 501.0 1509.0 C504.9 1505.7 512.1 1497.6 514.4 1495.3" fill="none" stroke="#ccaadc" stroke-width="2.4" stroke-linecap="butt" stroke-linejoin="round"/>
</g>
<clipPath id="k10_2"><rect x="534.4" y="1466.2" width="144.5" height="144.4"/></clipPath>
<g clip-path="url(#k10_2)">
<path d="M544.8 1476.9 C545.6 1479.4 547.7 1487.4 549.9 1491.4 C552.0 1495.4 554.4 1498.2 557.7 1501.2 C560.9 1504.1 565.5 1505.7 569.4 1509.0 C573.3 1512.2 577.2 1517.5 581.1 1520.7 C585.0 1524.0 588.9 1526.6 592.8 1528.5 C596.8 1530.5 600.7 1531.1 604.6 1532.4 C608.5 1533.7 612.4 1535.0 616.3 1536.4 C620.2 1537.7 624.4 1538.3 628.0 1540.3 C631.6 1542.2 634.5 1545.8 637.8 1548.1 C641.0 1550.4 644.6 1553.3 647.6 1553.9 C650.5 1554.6 653.4 1552.6 655.4 1552.0 C657.3 1551.3 658.6 1550.4 659.3 1550.0 L659.3 1610.6 C658.6 1608.7 657.0 1602.8 655.4 1598.9 C653.7 1595.0 651.8 1590.7 649.5 1587.2 C647.2 1583.6 644.6 1580.1 641.7 1577.4 C638.8 1574.7 635.5 1572.2 631.9 1570.7 C628.3 1569.2 624.1 1569.2 620.2 1568.4 C616.3 1567.6 612.4 1566.8 608.5 1565.7 C604.6 1564.6 600.7 1563.1 596.8 1561.8 C592.8 1560.5 588.9 1559.8 585.0 1557.8 C581.1 1555.9 577.2 1552.6 573.3 1550.0 C569.4 1547.4 565.2 1545.1 561.6 1542.2 C558.0 1539.3 554.6 1533.5 551.8 1532.4 C549.0 1531.3 545.9 1535.0 544.8 1535.6 Z" fill="#f2e6fa"/>
<path d="M545.1 1505.1 C546.5 1506.7 550.7 1511.6 553.8 1514.9 C556.8 1518.1 560.3 1521.7 563.5 1524.6 C566.8 1527.6 570.0 1529.8 573.3 1532.4 C576.6 1535.0 579.8 1538.1 583.1 1540.3 C586.3 1542.4 589.6 1544.2 592.8 1545.3 C596.1 1546.5 599.7 1546.8 602.6 1547.3 C605.5 1547.7 607.5 1547.3 610.4 1548.1 C613.4 1548.9 616.6 1550.6 620.2 1552.0 C623.8 1553.4 628.7 1555.0 631.9 1556.7 C635.2 1558.3 636.8 1559.3 639.7 1561.8 C642.7 1564.2 646.3 1567.5 649.5 1571.5 C652.7 1575.6 657.4 1583.6 659.0 1586.0" fill="none" stroke="#ccaadc" stroke-width="2.4" stroke-linecap="butt" stroke-linejoin="round"/>
</g>
<clipPath id="k10_3"><rect x="678.9" y="1466.2" width="144.6" height="144.4"/></clipPath>
<g clip-path="url(#k10_3)">
<path d="M688.6 1527.8 C689.4 1529.5 690.8 1536.5 693.6 1538.3 C696.4 1540.1 701.5 1538.5 705.4 1538.3 C709.3 1538.1 713.2 1537.5 717.1 1537.1 C721.0 1536.8 724.9 1536.6 728.8 1536.4 C732.7 1536.1 736.6 1535.2 740.5 1535.6 C744.4 1535.9 748.4 1537.8 752.3 1538.3 C756.2 1538.8 760.4 1538.8 764.0 1538.3 C767.6 1537.8 770.8 1536.9 773.8 1535.6 C776.7 1534.3 779.0 1533.3 781.6 1530.5 C784.2 1527.7 786.8 1522.0 789.4 1518.8 C792.0 1515.5 795.1 1515.2 797.2 1510.9 C799.4 1506.7 801.2 1498.6 802.3 1493.4 C803.4 1488.1 803.6 1482.0 803.8 1479.7 L803.8 1544.2 C802.7 1544.5 799.6 1545.1 797.2 1546.1 C794.8 1547.1 792.0 1548.1 789.4 1550.0 C786.8 1552.0 784.2 1555.6 781.6 1557.8 C779.0 1560.1 776.7 1562.7 773.8 1563.7 C770.8 1564.7 767.6 1564.0 764.0 1563.7 C760.4 1563.4 756.2 1562.4 752.3 1561.8 C748.4 1561.1 744.4 1560.1 740.5 1559.8 C736.6 1559.5 732.7 1559.1 728.8 1559.8 C724.9 1560.5 721.0 1562.5 717.1 1563.7 C713.2 1564.9 709.3 1565.9 705.4 1566.8 C701.5 1567.8 696.4 1567.2 693.6 1569.6 C690.8 1572.0 689.4 1579.3 688.6 1581.3 Z" fill="#f2e6fa"/>
<path d="M688.9 1554.7 C691.0 1554.4 696.7 1553.5 701.5 1552.8 C706.2 1552.0 712.5 1550.8 717.1 1550.0 C721.6 1549.2 724.9 1548.4 728.8 1548.1 C732.7 1547.7 736.6 1547.9 740.5 1548.1 C744.4 1548.3 748.7 1548.9 752.3 1549.2 C755.8 1549.6 758.8 1550.0 762.0 1550.0 C765.3 1550.0 768.9 1550.2 771.8 1549.2 C774.7 1548.3 777.0 1546.3 779.6 1544.2 C782.2 1542.0 784.8 1539.3 787.4 1536.4 C790.0 1533.4 792.6 1530.8 795.3 1526.6 C797.9 1522.3 802.2 1513.6 803.5 1510.9" fill="none" stroke="#ccaadc" stroke-width="2.4" stroke-linecap="butt" stroke-linejoin="round"/>
</g>
<clipPath id="k10_4"><rect x="823.5" y="1466.2" width="144.5" height="144.4"/></clipPath>
<g clip-path="url(#k10_4)">
<path d="M833.9 1531.7 C835.0 1531.5 837.9 1531.7 840.2 1530.5 C842.5 1529.3 845.4 1526.6 848.0 1524.6 C850.6 1522.7 852.9 1520.4 855.8 1518.8 C858.8 1517.1 862.3 1515.5 865.6 1514.9 C868.9 1514.2 872.1 1514.2 875.4 1514.9 C878.6 1515.5 882.2 1516.8 885.1 1518.8 C888.1 1520.7 890.0 1524.6 893.0 1526.6 C895.9 1528.5 899.1 1529.6 902.7 1530.5 C906.3 1531.3 910.5 1531.3 914.5 1531.7 C918.4 1532.0 922.3 1532.4 926.2 1532.4 C930.1 1532.4 934.6 1532.6 937.9 1531.7 C941.2 1530.7 944.0 1528.9 945.7 1526.6 C947.5 1524.2 948.0 1519.1 948.5 1517.6 L948.5 1566.8 C947.7 1565.7 946.5 1561.1 943.8 1559.8 C941.0 1558.5 936.0 1559.1 932.0 1559.0 C928.1 1558.9 924.2 1558.9 920.3 1559.0 C916.4 1559.1 912.5 1559.8 908.6 1559.8 C904.7 1559.8 900.5 1560.0 896.9 1559.0 C893.3 1558.0 890.0 1555.8 887.1 1553.9 C884.2 1552.1 881.9 1550.0 879.3 1548.1 C876.7 1546.1 874.1 1543.5 871.5 1542.2 C868.9 1540.9 866.3 1539.9 863.6 1540.3 C861.0 1540.6 858.4 1541.6 855.8 1544.2 C853.2 1546.8 850.6 1552.0 848.0 1555.9 C845.4 1559.8 842.5 1563.2 840.2 1567.6 C837.9 1572.0 835.0 1580.0 833.9 1582.5 Z" fill="#f2e6fa"/>
<path d="M834.2 1557.8 C835.2 1556.2 837.9 1551.3 840.2 1548.1 C842.5 1544.8 845.4 1541.2 848.0 1538.3 C850.6 1535.4 853.2 1532.4 855.8 1530.5 C858.4 1528.5 861.0 1527.2 863.6 1526.6 C866.3 1525.9 868.9 1525.9 871.5 1526.6 C874.1 1527.2 876.7 1528.9 879.3 1530.5 C881.9 1532.1 884.2 1534.4 887.1 1536.4 C890.0 1538.3 893.3 1540.6 896.9 1542.2 C900.5 1543.8 904.7 1545.5 908.6 1546.1 C912.5 1546.8 915.8 1546.4 920.3 1546.1 C924.9 1545.8 931.3 1544.8 936.0 1544.2 C940.6 1543.5 946.1 1542.5 948.2 1542.2" fill="none" stroke="#ccaadc" stroke-width="2.4" stroke-linecap="butt" stroke-linejoin="round"/>
</g>
<clipPath id="k10_5"><rect x="968.0" y="1466.2" width="144.3" height="144.4"/></clipPath>
<g clip-path="url(#k10_5)">
<path d="M977.8 1512.1 C978.6 1514.2 980.7 1521.2 982.9 1524.6 C985.0 1528.0 987.4 1530.2 990.7 1532.4 C993.9 1534.7 998.5 1537.0 1002.4 1538.3 C1006.3 1539.6 1010.9 1540.6 1014.1 1540.3 C1017.4 1539.9 1019.3 1538.3 1021.9 1536.4 C1024.5 1534.4 1027.1 1531.1 1029.8 1528.5 C1032.4 1525.9 1035.0 1523.6 1037.6 1520.7 C1040.2 1517.8 1043.1 1513.6 1045.4 1510.9 C1047.7 1508.3 1048.6 1506.2 1051.2 1505.1 C1053.9 1504.0 1058.4 1503.7 1061.0 1504.3 C1063.6 1505.0 1064.9 1506.9 1066.9 1509.0 C1068.8 1511.1 1070.5 1513.2 1072.7 1516.8 C1075.0 1520.4 1078.0 1525.3 1080.6 1530.5 C1083.2 1535.7 1086.3 1544.5 1088.4 1548.1 C1090.5 1551.7 1092.3 1551.3 1093.1 1552.0 L1093.1 1604.7 C1092.6 1602.5 1091.4 1595.6 1090.3 1591.1 C1089.2 1586.5 1088.4 1582.6 1086.4 1577.4 C1084.5 1572.2 1081.2 1565.0 1078.6 1559.8 C1076.0 1554.6 1073.4 1549.7 1070.8 1546.1 C1068.2 1542.5 1065.6 1540.3 1063.0 1538.3 C1060.4 1536.4 1057.8 1534.4 1055.2 1534.4 C1052.6 1534.4 1050.3 1535.7 1047.3 1538.3 C1044.4 1540.9 1040.5 1546.8 1037.6 1550.0 C1034.6 1553.3 1032.4 1555.6 1029.8 1557.8 C1027.1 1560.1 1024.5 1562.0 1021.9 1563.7 C1019.3 1565.5 1016.7 1568.1 1014.1 1568.4 C1011.5 1568.7 1009.2 1566.8 1006.3 1565.7 C1003.4 1564.6 999.8 1562.4 996.5 1561.8 C993.3 1561.1 989.9 1561.8 986.8 1561.8 C983.6 1561.8 979.3 1561.8 977.8 1561.8 Z" fill="#f2e6fa"/>
<path d="M978.1 1536.4 C979.5 1537.2 983.7 1539.8 986.8 1541.4 C989.8 1543.1 993.6 1544.7 996.5 1546.1 C999.5 1547.6 1001.7 1548.7 1004.3 1550.0 C1007.0 1551.3 1009.9 1553.5 1012.2 1553.9 C1014.4 1554.4 1015.7 1554.1 1018.0 1552.8 C1020.3 1551.5 1023.2 1548.5 1025.8 1546.1 C1028.4 1543.7 1031.1 1540.9 1033.7 1538.3 C1036.3 1535.7 1038.9 1533.1 1041.5 1530.5 C1044.1 1527.9 1047.0 1524.5 1049.3 1522.7 C1051.6 1520.8 1053.2 1519.9 1055.2 1519.5 C1057.1 1519.2 1059.1 1519.9 1061.0 1520.7 C1063.0 1521.6 1064.6 1522.3 1066.9 1524.6 C1069.2 1526.9 1072.1 1530.5 1074.7 1534.4 C1077.3 1538.3 1080.2 1543.5 1082.5 1548.1 C1084.8 1552.6 1086.7 1556.3 1088.4 1561.8 C1090.1 1567.2 1092.0 1577.4 1092.8 1580.5" fill="none" stroke="#ccaadc" stroke-width="2.4" stroke-linecap="butt" stroke-linejoin="round"/>
</g>
<clipPath id="k11_0"><rect x="245.4" y="1610.6" width="144.4" height="144.4"/></clipPath>
<g clip-path="url(#k11_0)">
<path d="M255.6 1668.8 C256.4 1670.0 257.8 1674.2 260.6 1675.5 C263.4 1676.8 268.5 1676.7 272.4 1676.7 C276.3 1676.7 280.2 1676.3 284.1 1675.5 C288.0 1674.6 292.6 1672.6 295.8 1671.6 C299.1 1670.6 300.4 1669.6 303.6 1669.6 C306.9 1669.6 312.1 1670.6 315.4 1671.6 C318.6 1672.6 320.2 1674.8 323.2 1675.5 C326.1 1676.1 329.7 1675.8 332.9 1675.5 C336.2 1675.2 339.1 1673.5 342.7 1673.5 C346.3 1673.5 350.9 1676.1 354.4 1675.5 C358.0 1674.8 361.5 1672.0 364.2 1669.6 C366.9 1667.2 369.7 1662.5 370.8 1661.0 L370.8 1724.3 C370.1 1722.7 368.2 1717.0 366.2 1714.6 C364.1 1712.1 361.6 1711.0 358.3 1709.5 C355.1 1708.0 350.5 1706.0 346.6 1705.6 C342.7 1705.1 338.8 1705.7 334.9 1706.8 C331.0 1707.8 326.4 1710.2 323.2 1711.8 C319.9 1713.5 318.6 1715.2 315.4 1716.5 C312.1 1717.8 306.9 1719.1 303.6 1719.7 C300.4 1720.2 299.1 1720.3 295.8 1719.7 C292.6 1719.0 288.0 1716.8 284.1 1715.7 C280.2 1714.7 275.9 1714.1 272.4 1713.4 C268.8 1712.7 265.4 1711.6 262.6 1711.8 C259.8 1712.0 256.7 1714.1 255.6 1714.6 Z" fill="#e5e3e3"/>
<path d="M256.4 1691.9 C258.4 1692.1 263.8 1692.7 268.5 1693.1 C273.1 1693.4 278.2 1693.7 284.1 1693.9 C289.9 1694.0 298.4 1694.0 303.6 1693.9 C308.8 1693.7 311.4 1693.5 315.4 1693.1 C319.3 1692.6 322.5 1691.6 327.1 1691.1 C331.6 1690.7 337.5 1690.3 342.7 1690.3 C347.9 1690.3 353.7 1690.9 358.3 1691.1 C363.0 1691.4 368.5 1691.8 370.5 1691.9" fill="none" stroke="#bdbdbd" stroke-width="8.0" stroke-linecap="round" stroke-linejoin="round"/>
</g>
<clipPath id="k11_1"><rect x="389.8" y="1610.6" width="144.6" height="144.4"/></clipPath>
<g clip-path="url(#k11_1)">
<path d="M400.9 1674.3 C401.7 1675.2 403.2 1678.2 405.2 1679.4 C407.3 1680.6 409.8 1680.7 413.1 1681.4 C416.3 1682.0 420.9 1682.1 424.8 1683.3 C428.7 1684.5 432.9 1686.8 436.5 1688.4 C440.1 1690.0 443.0 1692.6 446.3 1693.1 C449.5 1693.5 453.1 1692.4 456.1 1691.1 C459.0 1689.8 461.3 1687.4 463.9 1685.3 C466.5 1683.1 469.1 1680.2 471.7 1678.2 C474.3 1676.3 476.9 1674.6 479.5 1673.5 C482.1 1672.4 484.7 1671.4 487.3 1671.6 C489.9 1671.7 492.5 1673.0 495.1 1674.3 C497.7 1675.6 500.3 1677.9 503.0 1679.4 C505.6 1680.9 508.7 1682.3 510.8 1683.3 C512.9 1684.3 514.7 1684.9 515.5 1685.3 L515.5 1727.5 C514.7 1725.0 512.5 1716.4 510.8 1712.6 C509.0 1708.8 507.2 1706.9 504.9 1704.8 C502.6 1702.7 499.7 1701.3 497.1 1700.1 C494.5 1698.9 492.2 1697.6 489.3 1697.8 C486.3 1697.9 482.8 1698.7 479.5 1700.9 C476.2 1703.0 472.7 1708.1 469.7 1710.7 C466.8 1713.3 464.5 1714.9 461.9 1716.5 C459.3 1718.2 456.7 1719.5 454.1 1720.4 C451.5 1721.4 449.2 1722.5 446.3 1722.4 C443.3 1722.3 439.8 1720.6 436.5 1719.7 C433.3 1718.7 430.0 1717.6 426.7 1716.5 C423.5 1715.5 420.2 1714.4 417.0 1713.4 C413.7 1712.4 409.9 1710.3 407.2 1710.7 C404.5 1711.1 402.0 1714.9 400.9 1715.7 Z" fill="#e5e3e3"/>
<path d="M401.2 1694.2 C402.6 1694.5 406.2 1695.2 409.2 1695.8 C412.1 1696.4 415.7 1696.9 418.9 1697.8 C422.2 1698.6 425.4 1699.7 428.7 1700.9 C431.9 1702.1 435.5 1703.6 438.5 1704.8 C441.4 1706.0 443.7 1707.6 446.3 1707.9 C448.9 1708.3 451.5 1707.8 454.1 1706.8 C456.7 1705.7 459.3 1703.8 461.9 1701.7 C464.5 1699.6 467.1 1696.5 469.7 1694.2 C472.3 1692.0 474.9 1689.6 477.5 1688.0 C480.2 1686.4 482.8 1684.9 485.4 1684.5 C488.0 1684.0 490.6 1684.5 493.2 1685.3 C495.8 1686.0 498.4 1687.5 501.0 1689.2 C503.6 1690.8 506.5 1692.3 508.8 1695.0 C511.2 1697.8 514.1 1703.8 515.2 1705.6" fill="none" stroke="#b0a9a9" stroke-width="2.4" stroke-linecap="butt" stroke-linejoin="round"/>
</g>
<clipPath id="k11_2"><rect x="534.4" y="1610.6" width="144.5" height="144.4"/></clipPath>
<g clip-path="url(#k11_2)">
<path d="M544.8 1668.8 C545.6 1670.3 547.7 1676.0 549.9 1677.4 C552.0 1678.9 554.7 1678.4 557.7 1677.4 C560.6 1676.5 564.5 1674.2 567.4 1671.6 C570.4 1669.0 572.7 1665.4 575.3 1661.8 C577.9 1658.2 580.5 1653.7 583.1 1650.1 C585.7 1646.5 588.0 1641.7 590.9 1640.3 C593.8 1638.9 597.7 1639.9 600.7 1641.5 C603.6 1643.1 605.9 1646.0 608.5 1650.1 C611.1 1654.1 613.7 1661.5 616.3 1665.7 C618.9 1670.0 621.5 1672.6 624.1 1675.5 C626.7 1678.4 629.3 1681.8 631.9 1683.3 C634.5 1684.8 637.1 1684.9 639.7 1684.5 C642.3 1684.0 645.0 1684.3 647.6 1680.6 C650.2 1676.8 653.4 1668.7 655.4 1661.8 C657.3 1654.9 658.6 1642.9 659.3 1639.1 L660.1 1704.8 C659.6 1705.1 659.1 1706.1 657.3 1706.8 C655.6 1707.4 652.1 1707.4 649.5 1708.7 C646.9 1710.0 644.3 1712.9 641.7 1714.6 C639.1 1716.2 636.5 1718.8 633.9 1718.5 C631.3 1718.2 628.7 1715.5 626.1 1712.6 C623.5 1709.7 620.9 1704.8 618.2 1700.9 C615.6 1697.0 613.0 1692.1 610.4 1689.2 C607.8 1686.2 605.2 1684.7 602.6 1683.3 C600.0 1681.9 597.4 1680.6 594.8 1680.6 C592.2 1680.6 589.6 1681.2 587.0 1683.3 C584.4 1685.4 581.8 1689.8 579.2 1693.1 C576.6 1696.3 574.3 1700.4 571.3 1702.8 C568.4 1705.3 564.8 1706.6 561.6 1707.9 C558.3 1709.2 554.6 1709.6 551.8 1710.7 C549.0 1711.8 545.9 1713.9 544.8 1714.6 Z" fill="#e5e3e3"/>
<path d="M545.1 1691.1 C546.5 1691.4 550.7 1693.1 553.8 1693.1 C556.8 1693.1 560.6 1692.4 563.5 1691.1 C566.5 1689.8 568.7 1687.9 571.3 1685.3 C574.0 1682.7 576.6 1678.7 579.2 1675.5 C581.8 1672.2 584.6 1668.2 587.0 1665.7 C589.4 1663.2 591.3 1661.4 593.6 1660.6 C595.9 1659.9 598.2 1659.9 600.7 1661.0 C603.1 1662.2 605.9 1664.6 608.5 1667.7 C611.1 1670.7 613.7 1675.5 616.3 1679.4 C618.9 1683.3 621.5 1687.7 624.1 1691.1 C626.7 1694.6 629.3 1698.5 631.9 1700.1 C634.5 1701.7 637.1 1701.4 639.7 1700.9 C642.3 1700.4 645.0 1699.4 647.6 1697.0 C650.2 1694.6 653.5 1690.5 655.4 1686.4 C657.3 1682.3 658.4 1674.7 659.0 1672.4" fill="none" stroke="#b0a9a9" stroke-width="2.4" stroke-linecap="butt" stroke-linejoin="round"/>
</g>
<clipPath id="k11_3"><rect x="678.9" y="1610.6" width="144.6" height="144.4"/></clipPath>
<g clip-path="url(#k11_3)">
<path d="M688.6 1673.5 C689.4 1673.2 691.5 1673.5 693.6 1671.6 C695.8 1669.6 698.5 1664.4 701.5 1661.8 C704.4 1659.2 708.0 1657.4 711.2 1655.9 C714.5 1654.5 718.1 1653.5 721.0 1653.2 C723.9 1652.9 726.2 1652.9 728.8 1654.0 C731.4 1655.1 734.0 1657.2 736.6 1659.9 C739.2 1662.5 741.5 1666.0 744.4 1669.6 C747.4 1673.2 751.3 1678.4 754.2 1681.4 C757.1 1684.3 759.4 1685.9 762.0 1687.2 C764.6 1688.5 766.9 1689.5 769.8 1689.2 C772.8 1688.8 776.4 1687.2 779.6 1685.3 C782.9 1683.3 786.5 1681.4 789.4 1677.4 C792.3 1673.5 795.1 1668.3 797.2 1661.8 C799.4 1655.3 801.2 1644.9 802.3 1638.4 C803.4 1631.8 803.6 1625.3 803.8 1622.7 L803.8 1697.8 C803.1 1698.0 801.2 1698.1 799.2 1698.9 C797.1 1699.8 794.3 1701.2 791.3 1702.8 C788.4 1704.5 784.8 1707.0 781.6 1708.7 C778.3 1710.5 775.1 1712.1 771.8 1713.4 C768.5 1714.7 765.0 1715.9 762.0 1716.5 C759.1 1717.2 756.8 1718.0 754.2 1717.3 C751.6 1716.7 749.0 1715.0 746.4 1712.6 C743.8 1710.2 741.2 1706.1 738.6 1702.8 C736.0 1699.6 733.4 1695.4 730.8 1693.1 C728.2 1690.8 725.9 1689.0 722.9 1689.2 C720.0 1689.3 716.4 1692.2 713.2 1693.9 C709.9 1695.5 706.3 1696.8 703.4 1698.9 C700.5 1701.1 698.1 1704.0 695.6 1706.8 C693.1 1709.6 689.7 1714.2 688.6 1715.7 Z" fill="#e5e3e3"/>
<path d="M688.9 1696.2 C690.0 1694.4 693.2 1688.4 695.6 1685.3 C698.0 1682.1 700.5 1679.7 703.4 1677.4 C706.3 1675.2 709.9 1673.0 713.2 1671.6 C716.4 1670.1 720.3 1668.8 722.9 1668.8 C725.6 1668.8 726.5 1669.8 728.8 1671.6 C731.1 1673.3 734.0 1676.6 736.6 1679.4 C739.2 1682.2 741.8 1685.6 744.4 1688.4 C747.0 1691.2 749.7 1694.1 752.3 1696.2 C754.9 1698.3 757.5 1700.1 760.1 1700.9 C762.7 1701.7 765.3 1701.5 767.9 1700.9 C770.5 1700.2 773.1 1698.6 775.7 1697.0 C778.3 1695.4 780.9 1693.4 783.5 1691.1 C786.1 1688.8 788.7 1686.6 791.3 1683.3 C793.9 1680.0 797.1 1675.5 799.2 1671.6 C801.2 1667.7 802.8 1661.8 803.5 1659.9" fill="none" stroke="#b0a9a9" stroke-width="2.4" stroke-linecap="butt" stroke-linejoin="round"/>
</g>
<clipPath id="k11_4"><rect x="823.5" y="1610.6" width="144.5" height="144.4"/></clipPath>
<g clip-path="url(#k11_4)">
<path d="M833.9 1673.5 C834.7 1675.8 836.2 1683.8 838.2 1687.2 C840.3 1690.6 842.8 1692.4 846.1 1693.9 C849.3 1695.4 853.9 1696.7 857.8 1696.2 C861.7 1695.7 865.6 1693.1 869.5 1691.1 C873.4 1689.2 877.7 1687.4 881.2 1684.5 C884.8 1681.5 887.7 1676.3 891.0 1673.5 C894.3 1670.7 897.2 1669.3 900.8 1667.7 C904.4 1666.0 908.9 1665.4 912.5 1663.8 C916.1 1662.1 919.0 1660.2 922.3 1657.9 C925.5 1655.6 928.8 1652.7 932.0 1650.1 C935.3 1647.5 939.3 1645.5 941.8 1642.3 C944.3 1639.0 945.8 1634.5 946.9 1630.5 C948.0 1626.6 948.2 1620.8 948.5 1618.8 L948.5 1682.1 C948.0 1681.9 947.5 1681.4 945.7 1680.6 C944.0 1679.8 940.8 1677.3 937.9 1677.4 C935.0 1677.6 931.4 1679.1 928.1 1681.4 C924.9 1683.6 921.3 1688.2 918.4 1691.1 C915.4 1694.1 913.5 1696.8 910.5 1698.9 C907.6 1701.1 904.0 1702.4 900.8 1704.0 C897.5 1705.6 894.3 1707.0 891.0 1708.7 C887.7 1710.5 884.8 1712.6 881.2 1714.6 C877.7 1716.5 873.1 1718.5 869.5 1720.4 C865.9 1722.4 863.0 1725.6 859.7 1726.3 C856.5 1726.9 853.2 1725.0 850.0 1724.3 C846.7 1723.7 842.9 1722.4 840.2 1722.4 C837.5 1722.4 835.0 1724.0 833.9 1724.3 Z" fill="#e5e3e3"/>
<path d="M834.2 1697.8 C835.6 1698.9 839.2 1702.8 842.2 1704.8 C845.1 1706.8 848.7 1708.7 851.9 1709.5 C855.2 1710.3 858.4 1710.3 861.7 1709.5 C864.9 1708.7 868.2 1706.6 871.5 1704.8 C874.7 1703.0 878.0 1700.9 881.2 1698.9 C884.5 1697.0 887.7 1695.0 891.0 1693.1 C894.3 1691.1 897.5 1688.6 900.8 1687.2 C904.0 1685.8 907.6 1686.1 910.5 1684.5 C913.5 1682.8 915.4 1680.2 918.4 1677.4 C921.3 1674.6 924.9 1670.6 928.1 1667.7 C931.4 1664.7 934.6 1662.8 937.9 1659.9 C941.2 1656.9 946.4 1651.7 948.2 1650.1" fill="none" stroke="#b0a9a9" stroke-width="2.4" stroke-linecap="butt" stroke-linejoin="round"/>
</g>
<clipPath id="k11_5"><rect x="968.0" y="1610.6" width="144.3" height="144.4"/></clipPath>
<g clip-path="url(#k11_5)">
<path d="M977.8 1636.4 C978.6 1638.0 980.7 1644.0 982.9 1646.2 C985.0 1648.3 987.7 1648.0 990.7 1649.3 C993.6 1650.6 997.5 1651.9 1000.4 1654.0 C1003.4 1656.1 1005.3 1658.9 1008.3 1661.8 C1011.2 1664.7 1014.8 1668.6 1018.0 1671.6 C1021.3 1674.5 1024.2 1677.1 1027.8 1679.4 C1031.4 1681.7 1035.6 1683.6 1039.5 1685.3 C1043.4 1686.9 1047.3 1688.2 1051.2 1689.2 C1055.2 1690.1 1059.4 1690.5 1063.0 1691.1 C1066.6 1691.8 1069.5 1692.7 1072.7 1693.1 C1076.0 1693.4 1079.6 1694.7 1082.5 1693.1 C1085.4 1691.4 1088.6 1686.6 1090.3 1683.3 C1092.1 1680.0 1092.6 1675.2 1093.1 1673.5 L1093.1 1727.5 C1092.6 1726.9 1091.8 1725.5 1090.3 1724.3 C1088.9 1723.2 1087.1 1721.4 1084.5 1720.4 C1081.9 1719.5 1078.0 1719.0 1074.7 1718.5 C1071.4 1718.0 1068.2 1717.6 1064.9 1717.3 C1061.7 1717.0 1058.7 1716.5 1055.2 1716.5 C1051.6 1716.5 1047.0 1717.4 1043.4 1717.3 C1039.8 1717.2 1036.9 1716.9 1033.7 1715.7 C1030.4 1714.6 1027.1 1713.5 1023.9 1710.7 C1020.6 1707.9 1017.4 1702.8 1014.1 1698.9 C1010.9 1695.0 1007.6 1690.8 1004.3 1687.2 C1001.1 1683.6 997.8 1679.9 994.6 1677.4 C991.3 1675.0 987.6 1672.9 984.8 1672.8 C982.0 1672.6 978.9 1676.0 977.8 1676.7 Z" fill="#e5e3e3"/>
<path d="M978.1 1657.9 C979.5 1658.1 984.0 1658.4 986.8 1659.1 C989.5 1659.7 992.0 1660.2 994.6 1661.8 C997.2 1663.4 999.8 1666.2 1002.4 1668.8 C1005.0 1671.4 1007.6 1674.6 1010.2 1677.4 C1012.8 1680.3 1015.4 1683.6 1018.0 1686.0 C1020.6 1688.5 1022.9 1690.3 1025.8 1692.3 C1028.8 1694.2 1032.4 1696.2 1035.6 1697.8 C1038.9 1699.3 1042.5 1700.8 1045.4 1701.7 C1048.3 1702.5 1050.3 1702.5 1053.2 1702.8 C1056.1 1703.2 1059.7 1703.6 1063.0 1704.0 C1066.2 1704.5 1069.5 1705.5 1072.7 1705.6 C1076.0 1705.7 1079.2 1705.6 1082.5 1704.8 C1085.9 1704.0 1091.1 1701.5 1092.8 1700.9" fill="none" stroke="#b0a9a9" stroke-width="2.4" stroke-linecap="butt" stroke-linejoin="round"/>
</g>
<clipPath id="k12_0"><rect x="245.4" y="1755.0" width="144.4" height="144.4"/></clipPath>
<g clip-path="url(#k12_0)">
<path d="M255.6 1799.9 C256.4 1801.7 257.8 1808.3 260.6 1810.5 C263.4 1812.6 268.5 1812.0 272.4 1812.8 C276.3 1813.7 279.5 1814.8 284.1 1815.6 C288.6 1816.4 295.2 1817.3 299.7 1817.5 C304.3 1817.7 307.5 1817.4 311.4 1816.8 C315.4 1816.1 319.9 1815.8 323.2 1813.6 C326.4 1811.5 328.1 1807.1 331.0 1803.9 C333.9 1800.6 337.5 1795.8 340.8 1794.1 C344.0 1792.3 347.3 1793.0 350.5 1793.3 C353.8 1793.6 357.6 1795.6 360.3 1796.0 C363.0 1796.5 365.2 1796.5 366.9 1796.0 C368.7 1795.6 370.2 1793.8 370.8 1793.3 L370.8 1874.2 C370.1 1872.9 368.2 1868.0 366.2 1866.4 C364.1 1864.8 361.3 1865.9 358.3 1864.4 C355.4 1862.9 351.8 1859.7 348.6 1857.4 C345.3 1855.1 342.4 1852.3 338.8 1850.8 C335.2 1849.2 331.0 1848.5 327.1 1848.0 C323.2 1847.6 319.3 1847.9 315.4 1848.0 C311.4 1848.1 308.2 1848.7 303.6 1848.8 C299.1 1848.9 293.2 1849.1 288.0 1848.8 C282.8 1848.5 276.6 1846.8 272.4 1846.8 C268.1 1846.8 265.4 1847.0 262.6 1848.8 C259.8 1850.6 256.7 1856.0 255.6 1857.4 Z" fill="#e0adba"/>
<path d="M256.4 1828.1 C258.4 1828.4 263.8 1829.3 268.5 1830.0 C273.1 1830.8 278.9 1831.9 284.1 1832.4 C289.3 1832.9 294.8 1833.2 299.7 1833.2 C304.6 1833.2 309.5 1832.9 313.4 1832.4 C317.3 1831.9 320.2 1830.8 323.2 1830.0 C326.1 1829.3 327.7 1828.2 331.0 1827.7 C334.2 1827.2 338.8 1827.0 342.7 1827.3 C346.6 1827.6 350.9 1828.5 354.4 1829.3 C358.0 1830.0 361.5 1831.0 364.2 1832.0 C366.9 1833.0 369.5 1834.6 370.5 1835.1" fill="none" stroke="#b82858" stroke-width="8.0" stroke-linecap="round" stroke-linejoin="round"/>
</g>
<clipPath id="k12_1"><rect x="389.8" y="1755.0" width="144.6" height="144.4"/></clipPath>
<g clip-path="url(#k12_1)">
<path d="M400.9 1792.1 C401.7 1794.4 403.2 1801.6 405.2 1805.8 C407.3 1810.0 409.8 1814.8 413.1 1817.5 C416.3 1820.3 420.9 1821.9 424.8 1822.2 C428.7 1822.5 432.6 1820.9 436.5 1819.5 C440.4 1818.1 444.7 1814.7 448.2 1813.6 C451.8 1812.5 455.1 1812.2 458.0 1812.8 C460.9 1813.5 463.5 1815.8 465.8 1817.5 C468.1 1819.3 469.4 1820.8 471.7 1823.4 C474.0 1826.0 476.6 1830.9 479.5 1833.2 C482.4 1835.4 486.0 1837.1 489.3 1837.1 C492.5 1837.1 496.1 1835.4 499.0 1833.2 C502.0 1830.9 504.6 1828.6 506.9 1823.4 C509.1 1818.2 511.3 1808.4 512.7 1801.9 C514.2 1795.4 515.0 1787.2 515.5 1784.3 L515.5 1848.8 C514.4 1850.4 511.2 1856.0 508.8 1858.6 C506.4 1861.2 503.6 1862.8 501.0 1864.4 C498.4 1866.1 495.8 1867.0 493.2 1868.3 C490.6 1869.6 488.0 1871.9 485.4 1872.3 C482.8 1872.6 480.2 1872.3 477.5 1870.3 C474.9 1868.3 472.3 1864.1 469.7 1860.5 C467.1 1856.9 465.2 1850.9 461.9 1848.8 C458.7 1846.7 453.8 1848.0 450.2 1848.0 C446.6 1848.0 444.0 1848.3 440.4 1848.8 C436.8 1849.3 432.6 1850.8 428.7 1850.8 C424.8 1850.8 420.6 1849.6 417.0 1848.8 C413.4 1848.0 409.9 1845.3 407.2 1845.7 C404.5 1846.0 402.0 1849.9 400.9 1850.8 Z" fill="#e0adba"/>
<path d="M401.2 1821.4 C402.2 1822.7 404.9 1826.8 407.2 1829.3 C409.5 1831.7 412.4 1834.4 415.0 1835.9 C417.6 1837.4 420.2 1838.1 422.8 1838.2 C425.4 1838.4 427.7 1837.9 430.6 1837.1 C433.6 1836.2 437.5 1834.5 440.4 1833.2 C443.3 1831.9 445.3 1829.9 448.2 1829.3 C451.2 1828.6 455.4 1828.6 458.0 1829.3 C460.6 1829.9 461.9 1831.1 463.9 1833.2 C465.8 1835.3 467.5 1838.8 469.7 1841.8 C472.0 1844.7 474.9 1848.6 477.5 1850.8 C480.2 1852.9 482.8 1854.3 485.4 1854.7 C488.0 1855.0 490.6 1854.0 493.2 1852.7 C495.8 1851.4 498.4 1849.8 501.0 1846.8 C503.6 1843.9 506.5 1840.5 508.8 1835.1 C511.2 1829.7 514.1 1817.9 515.2 1814.4" fill="none" stroke="#9a1a3e" stroke-width="2.8" stroke-linecap="butt" stroke-linejoin="round"/>
</g>
<clipPath id="k12_2"><rect x="534.4" y="1755.0" width="144.5" height="144.4"/></clipPath>
<g clip-path="url(#k12_2)">
<path d="M544.8 1774.5 C545.6 1777.5 547.7 1788.2 549.9 1792.1 C552.0 1796.0 554.7 1796.4 557.7 1798.0 C560.6 1799.6 564.2 1799.6 567.4 1801.9 C570.7 1804.2 574.0 1809.1 577.2 1811.7 C580.5 1814.3 583.7 1816.2 587.0 1817.5 C590.2 1818.8 594.1 1819.6 596.8 1819.5 C599.4 1819.4 600.7 1817.1 602.6 1816.8 C604.6 1816.4 606.2 1816.1 608.5 1817.5 C610.8 1819.0 613.4 1822.1 616.3 1825.4 C619.2 1828.6 622.8 1833.5 626.1 1837.1 C629.3 1840.7 632.6 1844.6 635.8 1846.8 C639.1 1849.1 642.7 1851.1 645.6 1850.8 C648.5 1850.4 651.1 1849.1 653.4 1844.9 C655.7 1840.7 658.3 1828.6 659.3 1825.4 L659.3 1885.9 C658.3 1885.3 655.7 1883.0 653.4 1882.0 C651.1 1881.0 648.5 1880.7 645.6 1880.1 C642.7 1879.4 638.8 1880.1 635.8 1878.1 C632.9 1876.2 631.0 1872.1 628.0 1868.3 C625.1 1864.6 621.5 1859.4 618.2 1855.8 C615.0 1852.3 611.4 1848.1 608.5 1846.8 C605.5 1845.5 603.3 1847.7 600.7 1848.0 C598.1 1848.3 595.8 1849.0 592.8 1848.8 C589.9 1848.6 586.3 1847.8 583.1 1846.8 C579.8 1845.9 576.9 1845.2 573.3 1842.9 C569.7 1840.7 565.2 1835.4 561.6 1833.2 C558.0 1830.9 554.6 1828.9 551.8 1829.3 C549.0 1829.6 545.9 1834.1 544.8 1835.1 Z" fill="#e0adba"/>
<path d="M545.1 1803.9 C546.5 1804.8 550.7 1807.8 553.8 1809.7 C556.8 1811.7 560.3 1813.1 563.5 1815.6 C566.8 1818.1 570.0 1822.0 573.3 1824.6 C576.6 1827.2 579.8 1829.8 583.1 1831.2 C586.3 1832.6 590.2 1832.8 592.8 1833.2 C595.4 1833.5 596.8 1833.6 598.7 1833.2 C600.7 1832.7 602.6 1830.4 604.6 1830.4 C606.5 1830.4 608.2 1831.1 610.4 1833.2 C612.7 1835.3 615.6 1839.7 618.2 1842.9 C620.9 1846.2 623.5 1849.9 626.1 1852.7 C628.7 1855.5 631.3 1857.8 633.9 1859.7 C636.5 1861.7 639.1 1863.8 641.7 1864.4 C644.3 1865.1 646.6 1865.2 649.5 1863.7 C652.4 1862.2 657.4 1856.8 659.0 1855.4" fill="none" stroke="#9a1a3e" stroke-width="2.8" stroke-linecap="butt" stroke-linejoin="round"/>
</g>
<clipPath id="k12_3"><rect x="678.9" y="1755.0" width="144.6" height="144.4"/></clipPath>
<g clip-path="url(#k12_3)">
<path d="M688.6 1824.6 C689.4 1825.7 691.5 1830.4 693.6 1831.2 C695.8 1832.0 698.5 1830.2 701.5 1829.3 C704.4 1828.3 708.0 1826.7 711.2 1825.4 C714.5 1824.0 718.1 1822.4 721.0 1821.4 C723.9 1820.5 726.2 1819.2 728.8 1819.5 C731.4 1819.8 734.0 1822.4 736.6 1823.4 C739.2 1824.4 742.2 1825.4 744.4 1825.4 C746.7 1825.4 748.4 1825.7 750.3 1823.4 C752.3 1821.1 754.2 1815.9 756.2 1811.7 C758.1 1807.4 760.1 1803.5 762.0 1798.0 C764.0 1792.5 765.6 1784.6 767.9 1778.5 C770.2 1772.3 773.1 1764.2 775.7 1760.9 C778.3 1757.5 781.2 1757.5 783.5 1758.1 C785.8 1758.8 787.4 1761.4 789.4 1764.8 C791.3 1768.2 793.3 1774.5 795.3 1778.5 C797.2 1782.4 799.7 1785.6 801.1 1788.2 C802.5 1790.8 803.4 1793.1 803.8 1794.1 L803.8 1856.6 C803.4 1855.0 802.2 1850.8 801.1 1846.8 C800.0 1842.9 798.8 1837.7 797.2 1833.2 C795.6 1828.6 793.6 1823.7 791.3 1819.5 C789.1 1815.3 786.1 1810.0 783.5 1807.8 C780.9 1805.5 778.3 1804.8 775.7 1805.8 C773.1 1806.8 770.2 1810.4 767.9 1813.6 C765.6 1816.9 764.0 1820.8 762.0 1825.4 C760.1 1829.9 758.1 1835.8 756.2 1841.0 C754.2 1846.2 751.9 1854.5 750.3 1856.6 C748.7 1858.7 748.0 1854.5 746.4 1853.5 C744.8 1852.5 743.5 1851.0 740.5 1850.8 C737.6 1850.5 732.7 1851.5 728.8 1851.9 C724.9 1852.4 721.0 1852.7 717.1 1853.5 C713.2 1854.3 708.9 1855.4 705.4 1856.6 C701.8 1857.8 698.4 1857.9 695.6 1860.5 C692.8 1863.1 689.7 1870.3 688.6 1872.3 Z" fill="#e0adba"/>
<path d="M688.9 1848.0 C690.3 1847.5 694.5 1845.9 697.5 1844.9 C700.6 1843.8 704.1 1842.7 707.3 1841.8 C710.6 1840.8 714.2 1839.9 717.1 1839.0 C720.0 1838.1 722.0 1836.8 724.9 1836.3 C727.8 1835.8 732.1 1835.8 734.7 1835.9 C737.3 1836.0 738.6 1836.6 740.5 1837.1 C742.5 1837.6 744.8 1839.0 746.4 1839.0 C748.0 1839.0 748.7 1839.5 750.3 1837.1 C751.9 1834.7 754.2 1829.1 756.2 1824.6 C758.1 1820.0 760.1 1814.5 762.0 1809.7 C764.0 1805.0 765.9 1800.3 767.9 1796.0 C769.8 1791.8 771.8 1786.7 773.8 1784.3 C775.7 1781.9 777.7 1781.8 779.6 1781.6 C781.6 1781.4 783.5 1781.7 785.5 1783.1 C787.4 1784.6 789.4 1786.7 791.3 1790.2 C793.3 1793.6 795.6 1799.6 797.2 1803.9 C798.8 1808.1 800.1 1811.9 801.1 1815.6 C802.2 1819.3 803.1 1824.4 803.5 1826.1" fill="none" stroke="#9a1a3e" stroke-width="2.8" stroke-linecap="butt" stroke-linejoin="round"/>
</g>
<clipPath id="k12_4"><rect x="823.5" y="1755.0" width="144.5" height="144.4"/></clipPath>
<g clip-path="url(#k12_4)">
<path d="M833.2 1810.4 C833.9 1810.7 835.8 1812.4 837.3 1812.3 C838.9 1812.2 840.6 1810.8 842.5 1809.7 C844.5 1808.6 846.9 1806.8 849.1 1805.8 C851.2 1804.8 853.8 1803.4 855.6 1803.9 C857.3 1804.3 858.2 1806.6 859.5 1808.4 C860.8 1810.3 861.9 1812.8 863.4 1814.9 C864.9 1817.1 866.6 1819.7 868.6 1821.4 C870.6 1823.2 873.2 1824.6 875.1 1825.4 C877.1 1826.1 878.6 1826.4 880.3 1826.0 C882.1 1825.6 883.8 1824.4 885.5 1822.7 C887.3 1821.1 889.0 1818.4 890.7 1816.2 C892.5 1814.1 894.0 1811.6 896.0 1809.7 C897.9 1807.9 900.5 1806.4 902.5 1805.2 C904.4 1804.0 906.2 1802.7 907.7 1802.6 C909.2 1802.4 910.3 1803.1 911.6 1804.5 C912.9 1805.9 914.0 1808.6 915.5 1811.0 C917.0 1813.4 918.8 1816.2 920.7 1818.8 C922.7 1821.4 925.1 1824.3 927.2 1826.7 C929.4 1829.0 931.6 1831.0 933.7 1833.2 C935.9 1835.3 938.3 1837.7 940.3 1839.7 C942.2 1841.6 944.1 1843.4 945.5 1844.9 C946.9 1846.4 948.2 1848.1 948.7 1848.8 L948.7 1895.7 C948.4 1895.0 947.7 1894.2 946.8 1891.8 C945.8 1889.4 944.4 1884.6 942.9 1881.4 C941.3 1878.1 939.4 1875.3 937.6 1872.3 C935.9 1869.2 934.2 1866.2 932.4 1863.1 C930.7 1860.1 929.0 1856.8 927.2 1854.0 C925.5 1851.2 923.7 1848.8 922.0 1846.2 C920.3 1843.6 918.3 1840.8 916.8 1838.4 C915.3 1836.0 914.4 1833.5 912.9 1831.9 C911.4 1830.2 909.4 1828.9 907.7 1828.6 C905.9 1828.3 904.2 1829.2 902.5 1829.9 C900.7 1830.7 899.0 1832.0 897.3 1833.2 C895.5 1834.4 893.8 1835.6 892.0 1837.1 C890.3 1838.6 888.6 1840.5 886.8 1842.3 C885.1 1844.0 883.6 1846.6 881.6 1847.5 C879.7 1848.4 877.1 1847.9 875.1 1847.8 C873.2 1847.6 871.6 1847.9 869.9 1846.8 C868.2 1845.8 866.4 1843.5 864.7 1841.6 C863.0 1839.8 861.4 1837.2 859.5 1835.8 C857.5 1834.4 855.1 1833.7 853.0 1833.2 C850.8 1832.6 848.4 1832.2 846.5 1832.5 C844.5 1832.8 843.0 1833.7 841.2 1835.1 C839.5 1836.5 837.4 1838.9 836.0 1841.0 C834.7 1843.0 833.6 1846.4 833.2 1847.5 Z" fill="#e0adba"/>
<path d="M833.5 1829.9 C834.1 1829.0 835.8 1826.2 837.3 1824.7 C838.8 1823.2 840.6 1821.8 842.5 1820.8 C844.5 1819.8 847.0 1819.1 849.1 1818.8 C851.1 1818.6 853.2 1818.6 854.9 1819.1 C856.7 1819.6 857.8 1820.5 859.5 1822.1 C861.1 1823.7 863.0 1826.8 864.7 1828.6 C866.4 1830.5 867.9 1831.9 869.9 1833.2 C871.9 1834.4 874.5 1835.5 876.4 1836.0 C878.4 1836.6 879.9 1837.0 881.6 1836.4 C883.4 1835.8 885.1 1834.3 886.8 1832.5 C888.6 1830.8 890.3 1827.8 892.0 1826.0 C893.8 1824.2 895.5 1822.7 897.3 1821.4 C899.0 1820.1 900.7 1819.2 902.5 1818.2 C904.2 1817.1 906.2 1815.5 907.7 1815.2 C909.2 1814.9 910.1 1815.2 911.6 1816.5 C913.1 1817.8 915.1 1820.4 916.8 1822.7 C918.5 1825.1 920.3 1828.2 922.0 1830.6 C923.7 1832.9 925.5 1834.7 927.2 1837.1 C929.0 1839.5 930.7 1842.3 932.4 1844.9 C934.2 1847.5 935.9 1850.0 937.6 1852.7 C939.4 1855.4 941.1 1857.8 942.9 1861.2 C944.7 1864.5 947.5 1870.9 948.4 1872.9" fill="none" stroke="#9a1a3e" stroke-width="2.8" stroke-linecap="butt" stroke-linejoin="round"/>
</g>
<clipPath id="k12_5"><rect x="968.0" y="1755.0" width="144.3" height="144.4"/></clipPath>
<g clip-path="url(#k12_5)">
<path d="M977.8 1811.7 C978.6 1813.3 980.7 1819.3 982.9 1821.4 C985.0 1823.6 987.4 1824.7 990.7 1824.6 C993.9 1824.4 998.8 1822.4 1002.4 1820.7 C1006.0 1819.0 1008.9 1815.6 1012.2 1814.4 C1015.4 1813.2 1019.0 1813.1 1021.9 1813.6 C1024.9 1814.1 1027.1 1815.9 1029.8 1817.5 C1032.4 1819.2 1034.6 1822.1 1037.6 1823.4 C1040.5 1824.7 1044.4 1826.0 1047.3 1825.4 C1050.3 1824.7 1052.2 1822.2 1055.2 1819.5 C1058.1 1816.8 1061.7 1812.4 1064.9 1808.9 C1068.2 1805.5 1071.4 1802.2 1074.7 1798.8 C1078.0 1795.3 1081.9 1791.9 1084.5 1788.2 C1087.1 1784.5 1088.9 1780.1 1090.3 1776.5 C1091.8 1772.9 1092.6 1768.4 1093.1 1766.7 L1093.1 1819.5 C1092.6 1819.7 1092.1 1819.6 1090.3 1820.7 C1088.6 1821.8 1085.4 1823.7 1082.5 1826.1 C1079.6 1828.5 1076.0 1832.3 1072.7 1835.1 C1069.5 1837.9 1065.9 1840.3 1063.0 1842.9 C1060.0 1845.5 1057.8 1848.8 1055.2 1850.8 C1052.6 1852.7 1050.3 1854.3 1047.3 1854.7 C1044.4 1855.0 1040.5 1854.0 1037.6 1852.7 C1034.6 1851.4 1032.4 1848.3 1029.8 1846.8 C1027.1 1845.4 1024.5 1844.3 1021.9 1844.1 C1019.3 1843.9 1017.0 1844.4 1014.1 1845.7 C1011.2 1847.0 1007.6 1850.6 1004.3 1851.9 C1001.1 1853.2 997.8 1853.4 994.6 1853.5 C991.3 1853.6 987.6 1852.1 984.8 1852.7 C982.0 1853.4 978.9 1856.6 977.8 1857.4 Z" fill="#e0adba"/>
<path d="M978.1 1835.1 C979.5 1835.4 983.7 1836.7 986.8 1837.1 C989.8 1837.4 993.6 1837.7 996.5 1837.1 C999.5 1836.4 1001.7 1834.6 1004.3 1833.2 C1007.0 1831.7 1009.6 1829.5 1012.2 1828.5 C1014.8 1827.5 1017.4 1827.0 1020.0 1827.3 C1022.6 1827.6 1025.2 1828.4 1027.8 1830.0 C1030.4 1831.7 1033.0 1835.4 1035.6 1837.1 C1038.2 1838.8 1040.8 1839.9 1043.4 1840.2 C1046.0 1840.5 1048.6 1840.5 1051.2 1839.0 C1053.9 1837.5 1056.5 1834.0 1059.1 1831.2 C1061.7 1828.4 1064.0 1825.3 1066.9 1822.2 C1069.8 1819.2 1073.4 1816.1 1076.7 1812.8 C1079.9 1809.6 1083.7 1806.1 1086.4 1802.7 C1089.1 1799.2 1091.7 1793.9 1092.8 1792.1" fill="none" stroke="#9a1a3e" stroke-width="2.8" stroke-linecap="butt" stroke-linejoin="round"/>
</g>
<clipPath id="k13_0"><rect x="245.4" y="1899.5" width="144.4" height="144.4"/></clipPath>
<g clip-path="url(#k13_0)">
<path d="M255.6 1949.0 C256.4 1950.3 257.8 1955.4 260.6 1956.8 C263.4 1958.3 267.8 1957.6 272.4 1957.6 C276.9 1957.6 282.8 1957.0 288.0 1956.8 C293.2 1956.7 299.4 1957.4 303.6 1956.8 C307.9 1956.3 310.8 1953.7 313.4 1953.7 C316.0 1953.7 317.3 1956.8 319.3 1956.8 C321.2 1956.8 323.2 1953.9 325.1 1953.7 C327.1 1953.5 328.1 1955.7 331.0 1955.7 C333.9 1955.7 339.1 1954.8 342.7 1953.7 C346.3 1952.6 349.5 1951.6 352.5 1949.0 C355.4 1946.4 357.9 1941.9 360.3 1938.1 C362.7 1934.3 365.2 1930.6 366.9 1926.4 C368.7 1922.1 370.2 1915.0 370.8 1912.7 L370.8 2033.8 C370.1 2031.9 367.9 2025.7 366.2 2022.1 C364.4 2018.5 362.9 2015.6 360.3 2012.3 C357.7 2009.1 354.1 2005.2 350.5 2002.6 C346.9 2000.0 342.4 1997.4 338.8 1996.7 C335.2 1996.1 331.6 1998.8 329.0 1998.7 C326.4 1998.5 325.1 1995.9 323.2 1995.9 C321.2 1995.9 318.9 1998.5 317.3 1998.7 C315.7 1998.8 315.7 1997.2 313.4 1996.7 C311.1 1996.3 307.9 1996.3 303.6 1995.9 C299.4 1995.6 293.2 1995.0 288.0 1994.8 C282.8 1994.6 276.6 1994.4 272.4 1994.8 C268.1 1995.1 265.4 1995.4 262.6 1996.7 C259.8 1998.0 256.7 2001.6 255.6 2002.6 Z" fill="#827c7b"/>
<path d="M256.4 1976.0 C258.4 1976.1 263.8 1976.3 268.5 1976.4 C273.1 1976.5 278.2 1976.4 284.1 1976.4 C289.9 1976.4 297.1 1976.5 303.6 1976.4 C310.1 1976.3 316.7 1976.2 323.2 1976.0 C329.7 1975.8 336.8 1975.7 342.7 1975.2 C348.6 1974.8 353.7 1973.8 358.3 1973.3 C363.0 1972.7 368.5 1972.3 370.5 1972.1" fill="none" stroke="#000000" stroke-width="8.0" stroke-linecap="round" stroke-linejoin="round"/>
</g>
<clipPath id="k13_1"><rect x="389.8" y="1899.5" width="144.6" height="144.4"/></clipPath>
<g clip-path="url(#k13_1)">
<path d="M400.9 1941.2 C401.7 1942.3 403.2 1945.8 405.2 1947.9 C407.3 1949.9 409.8 1952.7 413.1 1953.7 C416.3 1954.7 420.9 1953.2 424.8 1953.7 C428.7 1954.2 432.9 1955.2 436.5 1956.8 C440.1 1958.5 443.0 1961.1 446.3 1963.5 C449.5 1965.9 452.8 1968.4 456.1 1971.3 C459.3 1974.2 462.6 1980.7 465.8 1981.1 C469.1 1981.4 472.3 1975.7 475.6 1973.3 C478.8 1970.8 482.1 1968.5 485.4 1966.2 C488.6 1963.9 491.9 1962.0 495.1 1959.6 C498.4 1957.2 502.0 1955.3 504.9 1951.8 C507.8 1948.2 511.0 1941.7 512.7 1938.1 C514.5 1934.5 515.0 1931.6 515.5 1930.3 L515.5 2004.5 C515.0 2004.0 514.8 2002.7 512.7 2001.4 C510.6 2000.1 506.5 1997.0 503.0 1996.7 C499.4 1996.4 494.8 1998.5 491.2 1999.8 C487.6 2001.1 484.4 2002.8 481.5 2004.5 C478.5 2006.3 475.9 2010.3 473.6 2010.4 C471.4 2010.5 469.4 2005.3 467.8 2005.3 C466.1 2005.3 465.5 2009.9 463.9 2010.4 C462.2 2010.9 460.6 2010.2 458.0 2008.4 C455.4 2006.7 451.5 2002.4 448.2 1999.8 C445.0 1997.2 441.7 1995.1 438.5 1992.8 C435.2 1990.5 432.3 1987.4 428.7 1985.8 C425.1 1984.1 420.6 1982.8 417.0 1983.0 C413.4 1983.2 409.9 1985.0 407.2 1986.9 C404.5 1988.9 402.0 1993.5 400.9 1994.8 Z" fill="#827c7b"/>
<path d="M401.2 1968.6 C402.6 1968.4 406.2 1967.4 409.2 1967.4 C412.1 1967.4 415.7 1967.6 418.9 1968.6 C422.2 1969.5 425.4 1971.5 428.7 1973.3 C431.9 1975.0 435.2 1977.0 438.5 1979.1 C441.7 1981.2 445.3 1983.8 448.2 1985.8 C451.2 1987.7 453.8 1989.5 456.1 1990.8 C458.3 1992.2 460.0 1993.6 461.9 1994.0 C463.9 1994.3 465.5 1993.5 467.8 1992.8 C470.1 1992.1 472.7 1991.0 475.6 1989.7 C478.5 1988.4 482.1 1986.5 485.4 1985.0 C488.6 1983.4 491.9 1982.1 495.1 1980.3 C498.4 1978.5 501.6 1976.7 504.9 1974.4 C508.2 1972.2 513.4 1967.9 515.2 1966.6" fill="none" stroke="#000000" stroke-width="2.8" stroke-linecap="butt" stroke-linejoin="round"/>
</g>
<clipPath id="k13_2"><rect x="534.4" y="1899.5" width="144.5" height="144.4"/></clipPath>
<g clip-path="url(#k13_2)">
<path d="M544.8 1934.2 C545.6 1935.2 547.7 1938.7 549.9 1940.0 C552.0 1941.3 554.4 1941.8 557.7 1942.0 C560.9 1942.2 565.8 1941.3 569.4 1941.2 C573.0 1941.1 576.6 1940.6 579.2 1941.2 C581.8 1941.9 582.1 1944.3 585.0 1945.1 C588.0 1945.9 593.5 1946.1 596.8 1945.9 C600.0 1945.7 602.3 1943.0 604.6 1943.9 C606.8 1944.9 608.5 1947.2 610.4 1951.8 C612.4 1956.3 614.0 1967.9 616.3 1971.3 C618.6 1974.8 621.5 1972.5 624.1 1972.5 C626.7 1972.5 629.6 1969.9 631.9 1971.3 C634.2 1972.7 635.5 1976.5 637.8 1981.1 C640.1 1985.6 643.0 1993.8 645.6 1998.7 C648.2 2003.5 651.1 2007.1 653.4 2010.4 C655.7 2013.6 658.3 2016.9 659.3 2018.2 L657.3 2044.0 C656.7 2043.0 655.1 2040.4 653.4 2037.7 C651.8 2035.1 649.8 2031.6 647.6 2028.0 C645.3 2024.4 642.3 2019.6 639.7 2016.3 C637.1 2012.9 634.2 2009.3 631.9 2007.7 C629.6 2006.0 628.3 2007.0 626.1 2006.5 C623.8 2006.0 620.2 2007.1 618.2 2004.5 C616.3 2001.9 616.0 1995.4 614.3 1990.8 C612.7 1986.3 610.4 1980.1 608.5 1977.2 C606.5 1974.2 604.9 1973.9 602.6 1973.3 C600.3 1972.6 597.7 1973.8 594.8 1973.3 C591.9 1972.7 588.6 1970.9 585.0 1970.1 C581.4 1969.4 577.2 1968.7 573.3 1968.6 C569.4 1968.4 565.2 1968.2 561.6 1969.4 C558.0 1970.5 554.6 1973.1 551.8 1975.2 C549.0 1977.3 545.9 1980.7 544.8 1981.9 Z" fill="#827c7b"/>
<path d="M545.1 1957.6 C547.2 1957.3 553.0 1956.1 557.7 1955.7 C562.4 1955.2 568.7 1954.7 573.3 1954.9 C577.9 1955.1 581.4 1956.1 585.0 1956.8 C588.6 1957.6 592.1 1959.3 594.8 1959.6 C597.5 1959.8 599.5 1958.2 601.4 1958.4 C603.4 1958.6 604.7 1958.6 606.5 1960.8 C608.3 1962.9 610.4 1967.3 612.4 1971.3 C614.3 1975.3 616.6 1982.2 618.2 1985.0 C619.9 1987.8 620.5 1987.6 622.2 1988.1 C623.8 1988.6 626.1 1987.8 628.0 1988.1 C630.0 1988.4 631.9 1987.9 633.9 1989.7 C635.8 1991.4 637.5 1994.9 639.7 1998.7 C642.0 2002.4 645.3 2007.8 647.6 2012.3 C649.8 2016.9 651.5 2021.1 653.4 2026.0 C655.3 2030.9 658.1 2039.0 659.0 2041.7" fill="none" stroke="#000000" stroke-width="2.8" stroke-linecap="butt" stroke-linejoin="round"/>
</g>
<clipPath id="k13_3"><rect x="678.9" y="1899.5" width="144.6" height="144.4"/></clipPath>
<g clip-path="url(#k13_3)">
<path d="M688.6 1955.7 C689.4 1957.3 691.5 1963.3 693.6 1965.4 C695.8 1967.6 698.2 1968.6 701.5 1968.6 C704.7 1968.6 709.3 1966.9 713.2 1965.4 C717.1 1963.9 721.3 1961.5 724.9 1959.6 C728.5 1957.6 731.7 1956.0 734.7 1953.7 C737.6 1951.4 739.9 1948.8 742.5 1945.9 C745.1 1943.0 748.0 1937.4 750.3 1936.1 C752.6 1934.8 753.9 1937.4 756.2 1938.1 C758.4 1938.7 761.1 1938.4 764.0 1940.0 C766.9 1941.7 770.5 1945.6 773.8 1947.9 C777.0 1950.1 780.3 1951.1 783.5 1953.7 C786.8 1956.3 790.7 1961.5 793.3 1963.5 C795.9 1965.4 797.4 1965.6 799.2 1965.4 C800.9 1965.2 803.1 1962.8 803.8 1962.3 L803.8 2044.0 C803.4 2042.0 802.2 2036.2 801.1 2031.9 C800.0 2027.6 798.8 2022.4 797.2 2018.2 C795.6 2014.0 793.9 2010.7 791.3 2006.5 C788.7 2002.2 784.8 1997.0 781.6 1992.8 C778.3 1988.6 775.1 1984.0 771.8 1981.1 C768.5 1978.1 765.0 1976.5 762.0 1975.2 C759.1 1973.9 756.8 1973.1 754.2 1973.3 C751.6 1973.5 749.0 1974.8 746.4 1976.4 C743.8 1978.0 741.5 1980.9 738.6 1983.0 C735.6 1985.1 732.4 1987.3 728.8 1988.9 C725.2 1990.5 721.0 1991.8 717.1 1992.8 C713.2 1993.8 708.9 1993.8 705.4 1994.8 C701.8 1995.7 698.4 1996.5 695.6 1998.7 C692.8 2000.8 689.7 2006.2 688.6 2007.7 Z" fill="#827c7b"/>
<path d="M688.9 1981.9 C691.0 1981.9 697.1 1982.1 701.5 1981.9 C705.8 1981.6 710.9 1981.4 715.1 1980.3 C719.4 1979.2 723.3 1977.0 726.9 1975.2 C730.4 1973.4 733.7 1971.3 736.6 1969.4 C739.6 1967.4 742.2 1965.6 744.4 1963.5 C746.7 1961.4 748.4 1958.3 750.3 1956.8 C752.3 1955.3 753.9 1954.4 756.2 1954.5 C758.4 1954.6 761.1 1956.1 764.0 1957.6 C766.9 1959.1 770.5 1960.9 773.8 1963.5 C777.0 1966.1 780.3 1969.4 783.5 1973.3 C786.8 1977.2 790.0 1981.6 793.3 1986.9 C796.6 1992.3 801.8 2002.2 803.5 2005.3" fill="none" stroke="#000000" stroke-width="2.8" stroke-linecap="butt" stroke-linejoin="round"/>
</g>
<clipPath id="k13_4"><rect x="823.5" y="1899.5" width="144.5" height="144.4"/></clipPath>
<g clip-path="url(#k13_4)">
<path d="M833.9 1969.4 C834.7 1970.7 836.2 1975.2 838.2 1977.2 C840.3 1979.1 842.8 1980.3 846.1 1981.1 C849.3 1981.9 853.9 1982.2 857.8 1981.9 C861.7 1981.5 865.9 1980.2 869.5 1979.1 C873.1 1978.0 876.0 1976.5 879.3 1975.2 C882.5 1973.9 886.1 1972.9 889.1 1971.3 C892.0 1969.7 894.3 1968.0 896.9 1965.4 C899.5 1962.8 902.4 1958.4 904.7 1955.7 C907.0 1952.9 907.9 1950.3 910.5 1949.0 C913.2 1947.7 917.4 1949.0 920.3 1947.9 C923.2 1946.7 925.5 1944.6 928.1 1942.0 C930.7 1939.4 933.7 1935.8 936.0 1932.2 C938.2 1928.6 940.2 1925.4 941.8 1920.5 C943.4 1915.6 944.6 1906.5 945.7 1902.9 C946.8 1899.3 948.0 1899.7 948.5 1899.0 L948.5 1950.6 C947.7 1950.8 945.5 1950.6 943.8 1951.8 C942.0 1952.9 940.2 1954.4 937.9 1957.6 C935.6 1960.9 932.7 1967.7 930.1 1971.3 C927.5 1974.9 924.9 1977.5 922.3 1979.1 C919.7 1980.7 917.1 1980.4 914.5 1981.1 C911.8 1981.7 908.9 1981.1 906.6 1983.0 C904.4 1985.0 902.7 1989.7 900.8 1992.8 C898.8 1995.9 897.5 1999.8 894.9 2001.4 C892.3 2003.0 888.4 2002.1 885.1 2002.6 C881.9 2003.1 879.0 2004.2 875.4 2004.5 C871.8 2004.9 867.6 2004.7 863.6 2004.5 C859.7 2004.4 855.8 2003.7 851.9 2003.7 C848.0 2003.7 843.2 2003.4 840.2 2004.5 C837.2 2005.6 835.0 2009.4 833.9 2010.4 Z" fill="#827c7b"/>
<path d="M834.2 1990.1 C836.2 1990.4 842.1 1991.6 846.1 1992.0 C850.0 1992.5 853.9 1992.9 857.8 1992.8 C861.7 1992.7 865.9 1992.4 869.5 1991.6 C873.1 1990.8 876.7 1988.9 879.3 1988.1 C881.9 1987.3 882.9 1987.1 885.1 1986.9 C887.4 1986.7 890.7 1987.9 893.0 1986.9 C895.2 1986.0 896.9 1983.5 898.8 1981.1 C900.8 1978.7 902.7 1975.1 904.7 1972.5 C906.6 1969.9 908.3 1966.6 910.5 1965.4 C912.8 1964.3 916.1 1966.1 918.4 1965.4 C920.6 1964.8 921.9 1963.8 924.2 1961.5 C926.5 1959.3 929.4 1955.7 932.0 1951.8 C934.6 1947.9 937.2 1944.6 939.9 1938.1 C942.5 1931.6 946.8 1916.9 948.2 1912.7" fill="none" stroke="#000000" stroke-width="2.8" stroke-linecap="butt" stroke-linejoin="round"/>
</g>
<clipPath id="k13_5"><rect x="968.0" y="1899.5" width="144.3" height="144.4"/></clipPath>
<g clip-path="url(#k13_5)">
<path d="M978.4 1888.6 C979.0 1889.4 980.7 1892.1 981.7 1893.8 C982.7 1895.5 983.0 1896.0 984.3 1899.0 C985.6 1902.0 987.8 1907.7 989.5 1912.0 C991.2 1916.4 992.9 1920.7 994.7 1925.1 C996.6 1929.4 998.5 1933.7 1000.6 1938.1 C1002.6 1942.4 1004.7 1946.9 1007.1 1951.1 C1009.5 1955.3 1012.3 1959.8 1014.9 1963.5 C1017.5 1967.2 1020.1 1970.9 1022.7 1973.3 C1025.3 1975.6 1027.9 1976.5 1030.5 1977.8 C1033.1 1979.2 1036.4 1980.1 1038.4 1981.3 C1040.3 1982.5 1041.0 1983.1 1042.3 1985.0 C1043.6 1986.9 1044.6 1990.0 1046.2 1992.8 C1047.7 1995.6 1049.4 1999.7 1051.4 2001.9 C1053.3 2004.1 1055.5 2004.7 1057.9 2005.8 C1060.3 2006.9 1063.3 2007.1 1065.7 2008.4 C1068.1 2009.7 1070.1 2011.7 1072.2 2013.6 C1074.4 2015.6 1076.6 2018.0 1078.7 2020.2 C1080.9 2022.3 1083.3 2024.9 1085.3 2026.7 C1087.2 2028.5 1089.1 2029.8 1090.5 2030.8 C1091.8 2031.9 1092.9 2032.6 1093.3 2032.9 L1093.3 2055.3 C1091.5 2053.2 1085.3 2045.5 1082.6 2042.3 C1080.0 2039.2 1079.4 2038.4 1077.4 2036.4 C1075.5 2034.5 1073.1 2032.4 1070.9 2030.6 C1068.7 2028.7 1066.6 2026.8 1064.4 2025.4 C1062.2 2024.0 1060.0 2023.3 1057.9 2022.1 C1055.8 2020.9 1053.8 2019.7 1052.0 2018.2 C1050.3 2016.7 1049.1 2014.7 1047.5 2013.0 C1045.8 2011.3 1044.0 2009.3 1042.3 2007.8 C1040.5 2006.3 1038.8 2004.9 1037.0 2003.9 C1035.3 2002.9 1033.8 2002.8 1031.8 2001.9 C1029.9 2001.1 1027.5 2000.0 1025.3 1998.7 C1023.2 1997.4 1020.8 1995.9 1018.8 1994.1 C1016.9 1992.3 1015.2 1990.4 1013.6 1987.6 C1012.0 1984.8 1010.8 1981.1 1009.0 1977.2 C1007.3 1973.3 1005.1 1968.5 1003.2 1964.1 C1001.2 1959.8 999.0 1955.5 997.3 1951.1 C995.6 1946.8 994.4 1942.4 992.8 1938.1 C991.1 1933.7 989.2 1929.4 987.5 1925.1 C985.9 1920.7 984.5 1916.4 983.0 1912.0 C981.5 1907.7 979.2 1901.2 978.4 1899.0 Z" fill="#827c7b"/>
<path d="M978.7 1895.7 C979.6 1897.2 982.8 1901.1 984.3 1904.2 C985.8 1907.4 986.3 1910.9 987.5 1914.6 C988.7 1918.3 990.1 1922.5 991.5 1926.4 C992.8 1930.3 993.9 1934.2 995.4 1938.1 C996.8 1942.0 998.4 1946.1 999.9 1949.8 C1001.4 1953.5 1002.8 1956.8 1004.5 1960.2 C1006.1 1963.7 1008.0 1967.6 1009.7 1970.7 C1011.4 1973.7 1012.9 1976.1 1014.9 1978.5 C1016.9 1980.9 1019.2 1983.1 1021.4 1985.0 C1023.6 1986.8 1025.8 1988.3 1027.9 1989.5 C1030.1 1990.7 1032.6 1991.5 1034.4 1992.1 C1036.3 1992.8 1037.6 1992.5 1039.0 1993.5 C1040.4 1994.4 1041.5 1996.1 1042.9 1998.0 C1044.3 2000.0 1045.8 2003.0 1047.5 2005.2 C1049.1 2007.3 1050.9 2009.5 1052.7 2011.0 C1054.4 2012.6 1056.0 2013.4 1057.9 2014.3 C1059.7 2015.2 1061.8 2015.2 1063.8 2016.3 C1065.7 2017.3 1067.6 2019.0 1069.6 2020.8 C1071.7 2022.7 1074.1 2025.3 1076.1 2027.3 C1078.2 2029.4 1080.1 2031.2 1082.0 2033.2 C1083.8 2035.1 1085.4 2037.1 1087.2 2039.0 C1089.0 2041.0 1092.1 2043.9 1093.0 2044.9" fill="none" stroke="#000000" stroke-width="2.8" stroke-linecap="butt" stroke-linejoin="round"/>
</g>
<clipPath id="k14_0"><rect x="245.4" y="2043.9" width="144.4" height="144.4"/></clipPath>
<g clip-path="url(#k14_0)">
<path d="M255.6 2094.0 C256.4 2095.5 257.8 2100.9 260.6 2102.6 C263.4 2104.4 268.5 2104.9 272.4 2104.6 C276.3 2104.3 280.5 2101.6 284.1 2100.7 C287.7 2099.7 290.6 2098.1 293.9 2098.7 C297.1 2099.4 300.4 2103.0 303.6 2104.6 C306.9 2106.2 310.1 2108.7 313.4 2108.5 C316.7 2108.3 318.9 2104.7 323.2 2103.4 C327.4 2102.1 334.2 2101.5 338.8 2100.7 C343.4 2099.9 346.9 2099.7 350.5 2098.7 C354.1 2097.7 357.6 2096.8 360.3 2094.8 C363.0 2092.9 365.2 2089.3 366.9 2087.0 C368.7 2084.7 370.2 2082.1 370.8 2081.1 L370.8 2152.7 C370.2 2152.0 368.7 2150.0 366.9 2148.7 C365.2 2147.4 363.0 2146.0 360.3 2144.8 C357.6 2143.7 354.1 2142.9 350.5 2141.7 C346.9 2140.5 343.4 2138.6 338.8 2137.8 C334.2 2137.0 327.7 2137.0 323.2 2137.0 C318.6 2137.0 315.0 2137.0 311.4 2137.8 C307.9 2138.6 304.9 2140.5 301.7 2141.7 C298.4 2142.9 294.8 2144.8 291.9 2144.8 C289.0 2144.8 287.3 2142.6 284.1 2141.7 C280.8 2140.9 275.9 2139.8 272.4 2139.8 C268.8 2139.8 265.4 2139.1 262.6 2141.7 C259.8 2144.3 256.7 2153.1 255.6 2155.4 Z" fill="#f8d2f0"/>
<path d="M256.4 2124.9 C257.7 2124.4 260.6 2122.8 264.5 2122.2 C268.5 2121.5 275.6 2121.0 280.2 2121.0 C284.7 2121.0 288.0 2121.5 291.9 2122.2 C295.8 2122.8 300.0 2125.2 303.6 2124.9 C307.2 2124.6 310.1 2121.3 313.4 2120.2 C316.7 2119.1 318.3 2118.7 323.2 2118.3 C328.1 2117.8 336.8 2117.7 342.7 2117.5 C348.6 2117.3 353.7 2117.3 358.3 2117.1 C363.0 2116.9 368.5 2116.4 370.5 2116.3" fill="none" stroke="#e38ed0" stroke-width="8.0" stroke-linecap="round" stroke-linejoin="round"/>
</g>
<clipPath id="k14_1"><rect x="389.8" y="2043.9" width="144.6" height="144.4"/></clipPath>
<g clip-path="url(#k14_1)">
<path d="M400.9 2102.6 C401.7 2103.0 402.9 2104.6 405.2 2104.6 C407.6 2104.6 411.8 2103.9 415.0 2102.6 C418.3 2101.3 421.9 2098.4 424.8 2096.8 C427.7 2095.1 430.0 2092.9 432.6 2092.9 C435.2 2092.9 437.8 2094.5 440.4 2096.8 C443.0 2099.0 445.3 2104.3 448.2 2106.5 C451.2 2108.8 454.1 2109.1 458.0 2110.4 C461.9 2111.7 466.8 2113.4 471.7 2114.4 C476.6 2115.3 482.1 2116.0 487.3 2116.3 C492.5 2116.6 499.0 2117.0 503.0 2116.3 C506.9 2115.7 508.7 2114.0 510.8 2112.4 C512.9 2110.8 514.7 2107.5 515.5 2106.5 L515.5 2157.3 C514.0 2156.0 510.2 2151.3 506.9 2149.5 C503.5 2147.7 499.7 2147.4 495.1 2146.4 C490.6 2145.4 484.7 2144.4 479.5 2143.7 C474.3 2142.9 468.4 2142.7 463.9 2141.7 C459.3 2140.7 455.7 2139.4 452.1 2137.8 C448.6 2136.2 445.3 2133.4 442.4 2131.9 C439.4 2130.5 437.5 2129.2 434.6 2129.2 C431.6 2129.2 427.7 2130.5 424.8 2131.9 C421.9 2133.4 419.9 2136.2 417.0 2137.8 C414.0 2139.4 409.9 2139.4 407.2 2141.7 C404.5 2144.0 402.0 2149.9 400.9 2151.5 Z" fill="#f8d2f0"/>
<path d="M401.2 2128.0 C402.2 2126.7 404.6 2122.5 407.2 2120.2 C409.8 2117.9 413.7 2115.8 417.0 2114.4 C420.2 2112.9 423.8 2111.9 426.7 2111.2 C429.7 2110.6 432.3 2110.1 434.6 2110.4 C436.8 2110.8 438.1 2111.9 440.4 2113.6 C442.7 2115.2 445.3 2118.5 448.2 2120.2 C451.2 2122.0 454.7 2123.0 458.0 2124.1 C461.3 2125.2 464.2 2126.0 467.8 2126.9 C471.4 2127.7 474.9 2128.6 479.5 2129.2 C484.1 2129.9 489.2 2130.2 495.1 2130.8 C501.1 2131.4 511.8 2132.4 515.2 2132.7" fill="none" stroke="#d07cba" stroke-width="2.4" stroke-linecap="butt" stroke-linejoin="round"/>
</g>
<clipPath id="k14_2"><rect x="534.4" y="2043.9" width="144.5" height="144.4"/></clipPath>
<g clip-path="url(#k14_2)">
<path d="M544.8 2083.1 C545.6 2085.4 547.7 2092.5 549.9 2096.8 C552.0 2101.0 554.4 2105.6 557.7 2108.5 C560.9 2111.4 565.5 2112.4 569.4 2114.4 C573.3 2116.3 577.9 2118.9 581.1 2120.2 C584.4 2121.5 586.3 2122.5 588.9 2122.2 C591.5 2121.8 593.8 2120.2 596.8 2118.3 C599.7 2116.3 603.3 2113.0 606.5 2110.4 C609.8 2107.8 612.7 2104.9 616.3 2102.6 C619.9 2100.3 624.1 2098.4 628.0 2096.8 C631.9 2095.1 636.2 2094.2 639.7 2092.9 C643.3 2091.6 646.9 2090.9 649.5 2088.9 C652.1 2087.0 653.7 2084.6 655.4 2081.1 C657.0 2077.7 658.6 2070.4 659.3 2068.2 L660.1 2124.1 C659.3 2123.8 657.8 2122.8 655.4 2122.2 C653.0 2121.5 649.2 2119.9 645.6 2120.2 C642.0 2120.5 637.8 2122.8 633.9 2124.1 C630.0 2125.4 626.1 2126.7 622.2 2128.0 C618.2 2129.3 614.0 2130.0 610.4 2131.9 C606.8 2133.9 603.6 2137.3 600.7 2139.8 C597.7 2142.2 595.4 2144.4 592.8 2146.4 C590.2 2148.4 587.6 2151.0 585.0 2151.5 C582.4 2152.0 579.8 2150.6 577.2 2149.5 C574.6 2148.4 572.3 2145.8 569.4 2144.8 C566.5 2143.9 562.6 2143.9 559.6 2143.7 C556.7 2143.5 554.3 2142.7 551.8 2143.7 C549.3 2144.6 545.9 2148.5 544.8 2149.5 Z" fill="#f8d2f0"/>
<path d="M545.1 2115.1 C546.5 2116.0 550.7 2118.5 553.8 2120.2 C556.8 2121.9 560.6 2123.7 563.5 2125.3 C566.5 2126.9 568.7 2128.4 571.3 2130.0 C574.0 2131.5 576.9 2133.7 579.2 2134.7 C581.4 2135.7 583.1 2136.0 585.0 2135.8 C587.0 2135.7 588.6 2135.2 590.9 2133.9 C593.2 2132.6 596.1 2130.3 598.7 2128.0 C601.3 2125.7 603.6 2122.5 606.5 2120.2 C609.5 2117.9 612.7 2116.3 616.3 2114.4 C619.9 2112.4 624.1 2110.3 628.0 2108.5 C631.9 2106.7 635.8 2105.0 639.7 2103.4 C643.7 2101.8 648.3 2100.0 651.5 2098.7 C654.7 2097.4 657.7 2096.1 659.0 2095.6" fill="none" stroke="#d07cba" stroke-width="2.4" stroke-linecap="butt" stroke-linejoin="round"/>
</g>
<clipPath id="k14_3"><rect x="678.9" y="2043.9" width="144.6" height="144.4"/></clipPath>
<g clip-path="url(#k14_3)">
<path d="M688.6 2104.6 C689.4 2107.2 691.5 2116.3 693.6 2120.2 C695.8 2124.1 698.5 2126.9 701.5 2128.0 C704.4 2129.1 708.0 2127.8 711.2 2126.9 C714.5 2125.9 718.1 2123.6 721.0 2122.2 C723.9 2120.7 726.2 2120.3 728.8 2118.3 C731.4 2116.2 733.7 2113.6 736.6 2109.7 C739.6 2105.8 743.5 2098.6 746.4 2094.8 C749.3 2091.0 751.3 2088.9 754.2 2087.0 C757.1 2085.0 760.7 2083.4 764.0 2083.1 C767.2 2082.8 770.5 2085.0 773.8 2085.0 C777.0 2085.0 780.3 2084.4 783.5 2083.1 C786.8 2081.8 790.4 2079.8 793.3 2077.2 C796.2 2074.6 799.4 2070.1 801.1 2067.5 C802.9 2064.8 803.4 2062.6 803.8 2061.6 L803.8 2128.0 C803.4 2127.1 802.9 2124.4 801.1 2122.2 C799.4 2119.9 796.2 2116.2 793.3 2114.4 C790.4 2112.5 787.1 2112.0 783.5 2111.2 C779.9 2110.4 775.4 2109.8 771.8 2109.7 C768.2 2109.5 765.3 2109.7 762.0 2110.4 C758.8 2111.2 755.2 2111.4 752.3 2114.4 C749.3 2117.3 747.0 2123.1 744.4 2128.0 C741.8 2132.9 739.2 2138.8 736.6 2143.7 C734.0 2148.5 731.1 2154.4 728.8 2157.3 C726.5 2160.3 725.2 2161.6 722.9 2161.3 C720.7 2160.9 718.1 2156.6 715.1 2155.4 C712.2 2154.2 708.6 2153.9 705.4 2154.2 C702.1 2154.5 698.4 2155.8 695.6 2157.3 C692.8 2158.8 689.7 2162.2 688.6 2163.2 Z" fill="#f8d2f0"/>
<path d="M688.9 2134.7 C690.3 2135.4 694.5 2137.9 697.5 2139.0 C700.6 2140.0 704.1 2140.5 707.3 2140.9 C710.6 2141.4 714.5 2141.7 717.1 2141.7 C719.7 2141.7 721.0 2141.9 722.9 2140.9 C724.9 2140.0 726.5 2138.6 728.8 2135.8 C731.1 2133.0 734.0 2128.4 736.6 2124.1 C739.2 2119.9 741.8 2114.4 744.4 2110.4 C747.0 2106.5 749.7 2102.8 752.3 2100.7 C754.9 2098.5 757.5 2098.1 760.1 2097.5 C762.7 2097.0 764.6 2097.7 767.9 2097.5 C771.1 2097.4 775.4 2097.1 779.6 2096.8 C783.9 2096.4 789.3 2095.9 793.3 2095.6 C797.3 2095.3 801.8 2094.9 803.5 2094.8" fill="none" stroke="#d07cba" stroke-width="2.4" stroke-linecap="butt" stroke-linejoin="round"/>
</g>
<clipPath id="k14_4"><rect x="823.5" y="2043.9" width="144.5" height="144.4"/></clipPath>
<g clip-path="url(#k14_4)">
<path d="M833.9 2048.7 C834.7 2051.8 836.2 2060.4 838.2 2067.5 C840.3 2074.5 843.5 2084.1 846.1 2090.9 C848.7 2097.7 851.3 2103.9 853.9 2108.5 C856.5 2113.0 859.1 2115.7 861.7 2118.3 C864.3 2120.9 866.9 2124.1 869.5 2124.1 C872.1 2124.1 874.7 2121.2 877.3 2118.3 C879.9 2115.3 882.5 2110.1 885.1 2106.5 C887.7 2103.0 890.4 2099.0 893.0 2096.8 C895.6 2094.5 898.2 2093.2 900.8 2092.9 C903.4 2092.5 906.0 2093.2 908.6 2094.8 C911.2 2096.4 913.5 2100.0 916.4 2102.6 C919.3 2105.2 922.9 2108.2 926.2 2110.4 C929.4 2112.7 932.7 2115.3 936.0 2116.3 C939.2 2117.3 943.6 2116.0 945.7 2116.3 C947.8 2116.6 948.0 2117.9 948.5 2118.3 L948.5 2157.3 C948.0 2156.0 947.5 2151.6 945.7 2149.5 C944.0 2147.4 940.8 2146.1 937.9 2144.8 C935.0 2143.5 931.7 2142.9 928.1 2141.7 C924.6 2140.5 920.3 2139.4 916.4 2137.8 C912.5 2136.2 908.3 2133.4 904.7 2131.9 C901.1 2130.5 898.2 2128.6 894.9 2129.2 C891.7 2129.9 888.1 2133.0 885.1 2135.8 C882.2 2138.7 879.9 2143.3 877.3 2146.4 C874.7 2149.5 871.8 2153.4 869.5 2154.2 C867.2 2155.1 865.9 2153.6 863.6 2151.5 C861.4 2149.4 858.4 2145.6 855.8 2141.7 C853.2 2137.8 850.6 2132.3 848.0 2128.0 C845.4 2123.8 842.5 2119.2 840.2 2116.3 C837.9 2113.4 835.0 2111.4 833.9 2110.4 Z" fill="#f8d2f0"/>
<path d="M834.2 2076.0 C834.9 2078.5 836.6 2085.8 838.2 2090.9 C839.9 2096.0 842.2 2102.0 844.1 2106.5 C846.1 2111.1 847.7 2114.4 850.0 2118.3 C852.2 2122.2 855.3 2126.9 857.8 2130.0 C860.3 2133.1 862.9 2135.7 864.8 2137.0 C866.8 2138.3 867.8 2138.6 869.5 2137.8 C871.3 2137.0 873.1 2134.5 875.4 2131.9 C877.7 2129.3 880.6 2125.0 883.2 2122.2 C885.8 2119.4 888.4 2116.6 891.0 2115.1 C893.6 2113.7 896.2 2113.5 898.8 2113.6 C901.4 2113.6 904.0 2114.4 906.6 2115.5 C909.2 2116.6 911.5 2118.5 914.5 2120.2 C917.4 2122.0 920.6 2124.1 924.2 2126.1 C927.8 2128.0 932.0 2130.1 936.0 2131.9 C939.9 2133.8 946.1 2136.2 948.2 2137.0" fill="none" stroke="#d07cba" stroke-width="2.4" stroke-linecap="butt" stroke-linejoin="round"/>
</g>
<clipPath id="k14_5"><rect x="968.0" y="2043.9" width="144.3" height="144.4"/></clipPath>
<g clip-path="url(#k14_5)">
<path d="M977.8 2137.8 C979.3 2138.1 983.6 2140.1 986.8 2139.8 C989.9 2139.4 993.3 2137.1 996.5 2135.8 C999.8 2134.5 1003.0 2134.2 1006.3 2131.9 C1009.6 2129.7 1012.8 2126.1 1016.1 2122.2 C1019.3 2118.3 1022.6 2113.0 1025.8 2108.5 C1029.1 2103.9 1032.7 2098.7 1035.6 2094.8 C1038.5 2090.9 1040.2 2088.3 1043.4 2085.0 C1046.7 2081.8 1051.6 2078.2 1055.2 2075.3 C1058.7 2072.3 1061.7 2070.4 1064.9 2067.5 C1068.2 2064.5 1071.8 2060.6 1074.7 2057.7 C1077.6 2054.7 1080.2 2052.8 1082.5 2049.9 C1084.8 2046.9 1086.6 2042.0 1088.4 2040.1 C1090.1 2038.1 1092.3 2038.5 1093.1 2038.1 L1093.1 2066.7 C1092.0 2066.8 1088.8 2065.0 1086.4 2067.5 C1084.0 2069.9 1081.2 2076.6 1078.6 2081.1 C1076.0 2085.7 1073.4 2090.4 1070.8 2094.8 C1068.2 2099.2 1065.9 2104.1 1063.0 2107.3 C1060.0 2110.6 1056.8 2111.9 1053.2 2114.4 C1049.6 2116.8 1045.1 2119.2 1041.5 2122.2 C1037.9 2125.1 1035.0 2128.4 1031.7 2131.9 C1028.4 2135.5 1024.9 2140.1 1021.9 2143.7 C1019.0 2147.2 1017.0 2150.8 1014.1 2153.4 C1011.2 2156.0 1007.6 2158.0 1004.3 2159.3 C1001.1 2160.6 997.8 2159.5 994.6 2161.3 C991.3 2163.0 987.6 2166.9 984.8 2169.8 C982.0 2172.8 978.9 2177.3 977.8 2178.8 Z" fill="#f8d2f0"/>
<path d="M978.1 2157.3 C979.5 2156.9 983.7 2155.6 986.8 2154.6 C989.8 2153.6 993.3 2152.7 996.5 2151.5 C999.8 2150.3 1003.4 2149.1 1006.3 2147.6 C1009.2 2146.1 1011.5 2145.1 1014.1 2142.5 C1016.7 2139.9 1019.3 2135.7 1021.9 2131.9 C1024.5 2128.2 1027.1 2124.1 1029.8 2120.2 C1032.4 2116.3 1035.0 2111.5 1037.6 2108.5 C1040.2 2105.4 1042.5 2104.3 1045.4 2101.8 C1048.3 2099.4 1051.9 2096.5 1055.2 2094.0 C1058.4 2091.6 1062.0 2089.8 1064.9 2087.0 C1067.9 2084.2 1070.1 2081.1 1072.7 2077.2 C1075.3 2073.3 1078.3 2067.8 1080.6 2063.5 C1082.8 2059.3 1084.4 2055.7 1086.4 2051.8 C1088.5 2047.9 1091.7 2042.0 1092.8 2040.1" fill="none" stroke="#d07cba" stroke-width="2.4" stroke-linecap="butt" stroke-linejoin="round"/>
</g>
<clipPath id="k15_0"><rect x="245.4" y="2188.3" width="144.4" height="144.4"/></clipPath>
<g clip-path="url(#k15_0)">
<path d="M255.6 2223.2 C256.4 2225.1 258.5 2231.6 260.6 2234.9 C262.8 2238.2 264.5 2240.4 268.5 2242.7 C272.4 2245.0 278.2 2247.4 284.1 2248.6 C289.9 2249.8 297.1 2249.6 303.6 2249.8 C310.1 2249.9 316.7 2250.1 323.2 2249.8 C329.7 2249.4 337.5 2248.6 342.7 2247.4 C347.9 2246.2 351.2 2244.8 354.4 2242.7 C357.7 2240.6 359.5 2237.8 362.3 2234.9 C365.0 2232.0 369.4 2226.8 370.8 2225.1 L370.8 2304.5 C369.4 2302.6 365.0 2296.3 362.3 2293.5 C359.5 2290.7 357.7 2288.8 354.4 2287.7 C351.2 2286.5 347.9 2286.8 342.7 2286.5 C337.5 2286.2 329.7 2285.8 323.2 2285.7 C316.7 2285.6 310.1 2285.6 303.6 2285.7 C297.1 2285.8 289.9 2286.0 284.1 2286.5 C278.2 2287.0 272.4 2287.7 268.5 2288.8 C264.5 2290.0 262.8 2290.9 260.6 2293.5 C258.5 2296.1 256.4 2302.6 255.6 2304.5 Z" fill="#fdf7d6"/>
<path d="M256.4 2263.0 C258.4 2263.4 263.8 2264.5 268.5 2265.0 C273.1 2265.5 278.2 2265.8 284.1 2266.2 C289.9 2266.6 297.1 2267.1 303.6 2267.3 C310.1 2267.5 316.7 2267.5 323.2 2267.3 C329.7 2267.1 336.8 2266.6 342.7 2266.2 C348.6 2265.8 353.7 2265.5 358.3 2265.0 C363.0 2264.5 368.5 2263.7 370.5 2263.4" fill="none" stroke="#f2e08a" stroke-width="8.0" stroke-linecap="round" stroke-linejoin="round"/>
</g>
<clipPath id="k15_1"><rect x="389.8" y="2188.3" width="144.6" height="144.4"/></clipPath>
<g clip-path="url(#k15_1)">
<path d="M400.9 2244.7 C401.7 2245.5 402.9 2249.1 405.2 2249.8 C407.6 2250.4 411.4 2249.4 415.0 2248.6 C418.6 2247.7 422.8 2245.8 426.7 2244.7 C430.6 2243.6 434.6 2242.9 438.5 2241.9 C442.4 2241.0 446.3 2239.5 450.2 2238.8 C454.1 2238.2 458.3 2236.9 461.9 2238.0 C465.5 2239.2 468.4 2243.8 471.7 2245.8 C474.9 2247.9 477.9 2249.2 481.5 2250.5 C485.0 2251.8 489.3 2252.5 493.2 2253.7 C497.1 2254.8 501.2 2256.7 504.9 2257.6 C508.6 2258.5 513.7 2258.9 515.5 2259.1 L515.5 2305.3 C514.0 2304.1 509.9 2300.2 506.9 2298.2 C503.8 2296.3 500.7 2295.0 497.1 2293.5 C493.5 2292.1 488.9 2291.2 485.4 2289.6 C481.8 2288.0 478.8 2286.0 475.6 2283.8 C472.3 2281.5 469.1 2278.1 465.8 2275.9 C462.6 2273.8 459.3 2271.5 456.1 2270.9 C452.8 2270.2 449.5 2270.9 446.3 2272.0 C443.0 2273.2 439.8 2275.9 436.5 2277.9 C433.3 2279.8 430.0 2282.1 426.7 2283.8 C423.5 2285.4 420.2 2286.0 417.0 2287.7 C413.7 2289.3 409.9 2290.6 407.2 2293.5 C404.5 2296.5 402.0 2303.3 400.9 2305.3 Z" fill="#fdf7d6"/>
<path d="M401.2 2275.2 C402.6 2274.5 406.2 2272.7 409.2 2271.2 C412.1 2269.7 415.7 2267.8 418.9 2266.2 C422.2 2264.5 425.4 2262.9 428.7 2261.5 C431.9 2260.0 435.2 2258.7 438.5 2257.6 C441.7 2256.4 445.0 2255.1 448.2 2254.4 C451.5 2253.8 455.4 2253.3 458.0 2253.7 C460.6 2254.0 461.6 2255.0 463.9 2256.4 C466.1 2257.8 468.8 2260.3 471.7 2262.3 C474.6 2264.2 478.2 2266.3 481.5 2268.1 C484.7 2269.9 487.6 2271.6 491.2 2273.2 C494.8 2274.8 499.0 2276.3 503.0 2277.9 C506.9 2279.5 513.1 2281.8 515.2 2282.6" fill="none" stroke="#e9dc7c" stroke-width="2.4" stroke-linecap="butt" stroke-linejoin="round"/>
</g>
<clipPath id="k15_2"><rect x="534.4" y="2188.3" width="144.5" height="144.4"/></clipPath>
<g clip-path="url(#k15_2)">
<path d="M544.8 2217.3 C545.6 2218.9 547.7 2224.2 549.9 2227.1 C552.0 2230.0 554.4 2232.3 557.7 2234.9 C560.9 2237.5 565.5 2240.1 569.4 2242.7 C573.3 2245.3 577.2 2248.3 581.1 2250.5 C585.0 2252.8 588.9 2254.8 592.8 2256.4 C596.8 2258.0 600.7 2259.5 604.6 2260.3 C608.5 2261.2 612.4 2261.5 616.3 2261.5 C620.2 2261.5 624.1 2260.3 628.0 2260.3 C631.9 2260.3 635.8 2261.2 639.7 2261.5 C643.7 2261.8 648.3 2263.1 651.5 2262.3 C654.6 2261.4 657.3 2257.4 658.5 2256.4 L658.5 2302.1 C657.7 2301.3 655.9 2299.0 653.4 2297.4 C650.9 2295.9 647.2 2293.9 643.7 2292.7 C640.1 2291.6 635.8 2290.9 631.9 2290.4 C628.0 2289.9 624.1 2289.4 620.2 2289.6 C616.3 2289.8 612.4 2291.4 608.5 2291.6 C604.6 2291.7 600.7 2291.2 596.8 2290.4 C592.8 2289.6 588.9 2287.9 585.0 2286.5 C581.1 2285.1 577.2 2283.6 573.3 2281.8 C569.4 2280.0 565.2 2277.2 561.6 2275.9 C558.0 2274.6 554.6 2273.3 551.8 2274.0 C549.0 2274.6 545.9 2278.9 544.8 2279.8 Z" fill="#fdf7d6"/>
<path d="M545.1 2248.6 C546.5 2249.7 550.7 2253.1 553.8 2255.2 C556.8 2257.4 560.3 2259.5 563.5 2261.5 C566.8 2263.5 570.0 2265.6 573.3 2267.3 C576.6 2269.1 579.8 2270.7 583.1 2272.0 C586.3 2273.3 589.9 2274.2 592.8 2275.2 C595.8 2276.1 598.1 2277.4 600.7 2277.9 C603.3 2278.3 605.5 2278.2 608.5 2277.9 C611.4 2277.6 615.0 2276.3 618.2 2275.9 C621.5 2275.6 624.4 2275.9 628.0 2275.9 C631.6 2275.9 635.8 2275.7 639.7 2275.9 C643.7 2276.1 648.4 2276.5 651.5 2277.1 C654.5 2277.8 657.1 2279.4 658.2 2279.8" fill="none" stroke="#e9dc7c" stroke-width="2.4" stroke-linecap="butt" stroke-linejoin="round"/>
</g>
<clipPath id="k15_3"><rect x="678.9" y="2188.3" width="144.6" height="144.4"/></clipPath>
<g clip-path="url(#k15_3)">
<path d="M688.6 2288.8 C689.7 2288.2 692.8 2287.3 695.6 2284.9 C698.4 2282.6 702.1 2278.2 705.4 2274.8 C708.6 2271.3 711.9 2267.9 715.1 2264.2 C718.4 2260.5 721.6 2256.1 724.9 2252.5 C728.2 2248.9 731.4 2245.1 734.7 2242.7 C737.9 2240.3 741.2 2239.0 744.4 2238.0 C747.7 2237.0 751.0 2237.4 754.2 2236.9 C757.5 2236.3 760.7 2235.9 764.0 2234.9 C767.2 2233.9 770.5 2232.6 773.8 2231.0 C777.0 2229.4 780.3 2227.7 783.5 2225.1 C786.8 2222.5 790.7 2219.3 793.3 2215.4 C795.9 2211.5 797.4 2205.6 799.2 2201.7 C800.9 2197.8 803.1 2193.5 803.8 2191.9 L803.8 2248.6 C803.4 2248.8 802.9 2249.4 801.1 2249.8 C799.4 2250.1 796.2 2249.9 793.3 2250.5 C790.4 2251.2 786.8 2252.4 783.5 2253.7 C780.3 2255.0 777.0 2256.6 773.8 2258.4 C770.5 2260.1 767.2 2262.6 764.0 2264.2 C760.7 2265.8 757.5 2267.1 754.2 2268.1 C751.0 2269.1 747.7 2269.4 744.4 2270.1 C741.2 2270.7 737.9 2270.1 734.7 2272.0 C731.4 2274.0 728.2 2278.3 724.9 2281.8 C721.6 2285.3 718.4 2289.2 715.1 2292.7 C711.9 2296.3 708.6 2299.6 705.4 2303.3 C702.1 2307.0 698.4 2310.8 695.6 2315.0 C692.8 2319.3 689.7 2326.4 688.6 2328.7 Z" fill="#fdf7d6"/>
<path d="M688.9 2309.9 C690.3 2308.0 694.5 2301.9 697.5 2298.2 C700.6 2294.5 704.1 2291.2 707.3 2287.7 C710.6 2284.1 713.8 2280.7 717.1 2277.1 C720.3 2273.5 723.6 2269.8 726.9 2266.2 C730.1 2262.5 733.7 2257.4 736.6 2255.2 C739.6 2253.1 741.8 2253.7 744.4 2253.3 C747.0 2252.8 749.7 2252.8 752.3 2252.5 C754.9 2252.2 757.5 2252.2 760.1 2251.3 C762.7 2250.5 765.0 2248.8 767.9 2247.4 C770.8 2246.0 774.4 2244.7 777.7 2242.7 C780.9 2240.8 784.2 2238.3 787.4 2235.7 C790.7 2233.1 794.5 2229.9 797.2 2227.1 C799.9 2224.2 802.5 2219.9 803.5 2218.5" fill="none" stroke="#e9dc7c" stroke-width="2.4" stroke-linecap="butt" stroke-linejoin="round"/>
</g>
<clipPath id="k15_4"><rect x="823.5" y="2188.3" width="144.5" height="144.4"/></clipPath>
<g clip-path="url(#k15_4)">
<path d="M833.9 2190.0 C834.7 2190.9 836.2 2192.9 838.2 2195.8 C840.3 2198.7 843.1 2203.0 846.1 2207.5 C849.0 2212.1 852.6 2218.3 855.8 2223.2 C859.1 2228.1 862.7 2232.6 865.6 2236.9 C868.5 2241.1 870.8 2244.7 873.4 2248.6 C876.0 2252.5 878.3 2257.0 881.2 2260.3 C884.2 2263.6 887.1 2266.2 891.0 2268.1 C894.9 2270.1 900.1 2271.1 904.7 2272.0 C909.2 2273.0 913.8 2273.7 918.4 2274.0 C922.9 2274.3 928.1 2274.3 932.0 2274.0 C936.0 2273.7 939.1 2272.4 941.8 2272.0 C944.5 2271.7 947.4 2272.0 948.5 2272.0 L948.5 2317.0 C947.0 2316.2 942.9 2313.9 939.9 2312.3 C936.8 2310.7 934.0 2308.7 930.1 2307.2 C926.2 2305.7 921.0 2304.3 916.4 2303.3 C911.8 2302.3 907.0 2302.0 902.7 2301.3 C898.5 2300.7 894.6 2300.7 891.0 2299.4 C887.4 2298.1 884.2 2296.5 881.2 2293.5 C878.3 2290.6 876.0 2285.7 873.4 2281.8 C870.8 2277.9 868.2 2274.0 865.6 2270.1 C863.0 2266.2 860.7 2262.9 857.8 2258.4 C854.9 2253.8 850.9 2247.3 848.0 2242.7 C845.1 2238.2 842.5 2232.6 840.2 2231.0 C837.9 2229.4 835.0 2232.6 833.9 2232.9 Z" fill="#fdf7d6"/>
<path d="M834.2 2201.7 C834.9 2203.4 836.6 2208.6 838.2 2212.2 C839.9 2215.8 841.8 2219.3 844.1 2223.2 C846.4 2227.1 849.3 2231.8 851.9 2235.7 C854.5 2239.6 857.1 2243.4 859.7 2246.6 C862.3 2249.9 865.3 2252.3 867.6 2255.2 C869.8 2258.2 871.5 2261.1 873.4 2264.2 C875.4 2267.3 877.3 2271.2 879.3 2274.0 C881.2 2276.8 882.9 2279.1 885.1 2281.0 C887.4 2283.0 890.4 2284.6 893.0 2285.7 C895.6 2286.8 897.5 2287.1 900.8 2287.7 C904.0 2288.2 908.6 2288.4 912.5 2288.8 C916.4 2289.3 920.3 2289.7 924.2 2290.4 C928.1 2291.1 932.0 2291.8 936.0 2292.7 C939.9 2293.7 946.1 2295.7 948.2 2296.3" fill="none" stroke="#e9dc7c" stroke-width="2.4" stroke-linecap="butt" stroke-linejoin="round"/>
</g>
<clipPath id="k15_5"><rect x="968.0" y="2188.3" width="144.3" height="144.4"/></clipPath>
<g clip-path="url(#k15_5)">
<path d="M977.8 2231.8 C978.6 2234.2 980.7 2242.5 982.9 2246.6 C985.0 2250.7 987.7 2253.5 990.7 2256.4 C993.6 2259.3 997.2 2262.6 1000.4 2264.2 C1003.7 2265.8 1007.0 2266.2 1010.2 2266.2 C1013.5 2266.2 1016.7 2265.2 1020.0 2264.2 C1023.2 2263.2 1026.5 2261.6 1029.8 2260.3 C1033.0 2259.0 1036.3 2258.0 1039.5 2256.4 C1042.8 2254.8 1046.0 2252.5 1049.3 2250.5 C1052.6 2248.6 1055.8 2246.8 1059.1 2244.7 C1062.3 2242.6 1065.6 2240.3 1068.8 2238.0 C1072.1 2235.7 1075.3 2233.1 1078.6 2231.0 C1081.9 2228.8 1086.1 2228.7 1088.4 2225.1 C1090.7 2221.5 1091.6 2212.1 1092.3 2209.5 L1093.1 2258.4 C1092.6 2258.2 1092.1 2256.9 1090.3 2257.6 C1088.6 2258.2 1085.4 2260.2 1082.5 2262.3 C1079.6 2264.3 1076.0 2267.8 1072.7 2270.1 C1069.5 2272.4 1066.2 2274.0 1063.0 2275.9 C1059.7 2277.9 1056.5 2279.8 1053.2 2281.8 C1049.9 2283.8 1046.7 2286.2 1043.4 2287.7 C1040.2 2289.1 1036.9 2289.7 1033.7 2290.4 C1030.4 2291.1 1027.1 2291.1 1023.9 2291.6 C1020.6 2292.1 1017.4 2293.3 1014.1 2293.5 C1010.9 2293.7 1007.6 2293.4 1004.3 2292.7 C1001.1 2292.1 997.8 2290.5 994.6 2289.6 C991.3 2288.8 987.6 2287.3 984.8 2287.7 C982.0 2288.0 978.9 2290.9 977.8 2291.6 Z" fill="#fdf7d6"/>
<path d="M978.1 2260.3 C979.2 2261.5 982.4 2265.2 984.8 2267.3 C987.2 2269.5 990.0 2271.6 992.6 2273.2 C995.2 2274.8 997.8 2276.1 1000.4 2277.1 C1003.0 2278.1 1005.7 2278.7 1008.3 2279.1 C1010.9 2279.4 1013.5 2279.6 1016.1 2279.1 C1018.7 2278.5 1021.3 2276.7 1023.9 2275.9 C1026.5 2275.2 1029.1 2275.4 1031.7 2274.8 C1034.3 2274.1 1036.9 2273.5 1039.5 2272.0 C1042.1 2270.6 1044.4 2268.3 1047.3 2266.2 C1050.3 2264.1 1053.9 2261.8 1057.1 2259.5 C1060.4 2257.2 1063.6 2254.6 1066.9 2252.5 C1070.1 2250.3 1073.4 2248.6 1076.7 2246.6 C1079.9 2244.7 1083.9 2242.8 1086.4 2240.8 C1089.0 2238.7 1091.1 2235.2 1092.0 2234.1" fill="none" stroke="#e9dc7c" stroke-width="2.4" stroke-linecap="butt" stroke-linejoin="round"/>
</g>
<clipPath id="k16_0"><rect x="245.4" y="2332.7" width="144.4" height="144.4"/></clipPath>
<g clip-path="url(#k16_0)">
<path d="M255.6 2381.9 C256.4 2383.5 257.8 2389.2 260.6 2391.6 C263.4 2394.0 268.5 2395.3 272.4 2396.3 C276.3 2397.3 278.9 2397.4 284.1 2397.5 C289.3 2397.6 297.1 2396.5 303.6 2396.7 C310.1 2396.9 316.7 2398.5 323.2 2398.7 C329.7 2398.8 337.5 2398.0 342.7 2397.5 C347.9 2397.0 350.9 2396.6 354.4 2395.5 C358.0 2394.4 361.5 2393.4 364.2 2390.8 C366.9 2388.2 369.7 2381.7 370.8 2379.9 L370.8 2446.3 C369.4 2444.5 365.6 2437.7 362.3 2435.4 C358.9 2433.1 354.4 2432.9 350.5 2432.7 C346.6 2432.4 343.4 2433.4 338.8 2433.8 C334.2 2434.3 329.0 2435.6 323.2 2435.4 C317.3 2435.2 308.8 2433.3 303.6 2432.7 C298.4 2432.0 296.5 2431.9 291.9 2431.5 C287.3 2431.0 281.2 2429.7 276.3 2429.9 C271.4 2430.1 266.0 2430.7 262.6 2432.7 C259.1 2434.6 256.7 2440.2 255.6 2441.7 Z" fill="#f6b3d5"/>
<path d="M256.4 2411.2 C258.4 2411.5 263.8 2412.7 268.5 2413.1 C273.1 2413.6 278.2 2413.7 284.1 2413.9 C289.9 2414.1 298.7 2413.9 303.6 2414.3 C308.5 2414.7 310.1 2415.7 313.4 2416.2 C316.7 2416.8 319.9 2417.8 323.2 2417.8 C326.4 2417.8 329.7 2416.9 332.9 2416.2 C336.2 2415.6 338.5 2414.4 342.7 2413.9 C346.9 2413.4 353.7 2413.4 358.3 2413.1 C363.0 2412.9 368.5 2412.5 370.5 2412.3" fill="none" stroke="#e1248d" stroke-width="8.0" stroke-linecap="round" stroke-linejoin="round"/>
</g>
<clipPath id="k16_1"><rect x="389.8" y="2332.7" width="144.6" height="144.4"/></clipPath>
<g clip-path="url(#k16_1)">
<path d="M400.9 2360.4 C401.7 2362.3 403.2 2369.0 405.2 2372.1 C407.3 2375.2 409.8 2377.5 413.1 2379.1 C416.3 2380.7 420.9 2381.4 424.8 2381.9 C428.7 2382.3 433.3 2380.9 436.5 2381.9 C439.8 2382.8 441.7 2385.1 444.3 2387.7 C446.9 2390.3 449.2 2393.6 452.1 2397.5 C455.1 2401.4 458.7 2407.7 461.9 2411.2 C465.2 2414.6 468.8 2417.2 471.7 2418.2 C474.6 2419.2 476.6 2417.6 479.5 2417.0 C482.4 2416.5 486.0 2415.3 489.3 2415.1 C492.5 2414.9 495.8 2415.9 499.0 2415.9 C502.3 2415.9 506.1 2415.9 508.8 2415.1 C511.5 2414.3 514.4 2411.8 515.5 2411.2 L515.5 2458.8 C514.4 2457.4 511.5 2453.0 508.8 2450.3 C506.1 2447.5 502.3 2443.6 499.0 2442.4 C495.8 2441.3 492.5 2442.6 489.3 2443.2 C486.0 2443.9 482.8 2446.1 479.5 2446.3 C476.2 2446.5 473.0 2445.7 469.7 2444.4 C466.5 2443.1 463.2 2441.5 460.0 2438.5 C456.7 2435.6 453.4 2430.4 450.2 2426.8 C446.9 2423.2 444.0 2419.6 440.4 2417.0 C436.8 2414.4 432.6 2412.8 428.7 2411.2 C424.8 2409.5 420.6 2407.6 417.0 2407.3 C413.4 2406.9 409.9 2406.0 407.2 2409.2 C404.5 2412.5 402.0 2423.9 400.9 2426.8 Z" fill="#f6b3d5"/>
<path d="M401.2 2392.8 C402.6 2392.8 406.2 2392.7 409.2 2392.8 C412.1 2392.9 415.7 2393.0 418.9 2393.6 C422.2 2394.2 425.8 2395.2 428.7 2396.3 C431.6 2397.4 433.9 2398.5 436.5 2400.2 C439.1 2401.9 441.7 2404.0 444.3 2406.5 C446.9 2409.0 449.5 2412.0 452.1 2415.1 C454.7 2418.1 457.4 2422.2 460.0 2424.8 C462.6 2427.5 465.2 2429.5 467.8 2430.7 C470.4 2431.9 473.0 2432.2 475.6 2431.9 C478.2 2431.6 480.8 2429.4 483.4 2428.8 C486.0 2428.1 488.0 2427.8 491.2 2428.0 C494.5 2428.2 499.0 2428.8 503.0 2429.9 C506.9 2431.0 513.1 2433.8 515.2 2434.6" fill="none" stroke="#c81a70" stroke-width="2.8" stroke-linecap="butt" stroke-linejoin="round"/>
</g>
<clipPath id="k16_2"><rect x="534.4" y="2332.7" width="144.5" height="144.4"/></clipPath>
<g clip-path="url(#k16_2)">
<path d="M544.8 2395.5 C545.6 2395.9 547.7 2398.1 549.9 2397.5 C552.0 2396.8 554.4 2393.9 557.7 2391.6 C560.9 2389.3 565.5 2386.1 569.4 2383.8 C573.3 2381.5 577.5 2380.0 581.1 2377.9 C584.7 2375.9 588.3 2371.6 590.9 2371.3 C593.5 2371.0 594.5 2373.3 596.8 2376.0 C599.0 2378.7 601.6 2383.8 604.6 2387.7 C607.5 2391.6 611.1 2395.5 614.3 2399.4 C617.6 2403.4 620.9 2407.6 624.1 2411.2 C627.4 2414.7 630.6 2418.3 633.9 2420.9 C637.1 2423.5 640.4 2425.5 643.7 2426.8 C646.9 2428.1 650.8 2429.1 653.4 2428.8 C656.0 2428.4 658.3 2425.5 659.3 2424.8 L659.3 2458.8 C658.3 2458.1 656.0 2455.6 653.4 2454.2 C650.8 2452.7 646.9 2451.6 643.7 2450.3 C640.4 2448.9 637.1 2448.4 633.9 2446.3 C630.6 2444.3 627.4 2440.7 624.1 2437.7 C620.9 2434.8 617.6 2431.9 614.3 2428.8 C611.1 2425.6 607.5 2422.2 604.6 2419.0 C601.6 2415.7 599.4 2411.9 596.8 2409.2 C594.1 2406.5 591.5 2403.2 588.9 2402.6 C586.3 2401.9 584.0 2403.9 581.1 2405.3 C578.2 2406.7 574.6 2409.2 571.3 2411.2 C568.1 2413.1 564.8 2414.4 561.6 2417.0 C558.3 2419.6 554.6 2423.3 551.8 2426.8 C549.0 2430.3 545.9 2435.9 544.8 2437.7 Z" fill="#f6b3d5"/>
<path d="M545.1 2415.9 C546.5 2414.6 550.7 2410.8 553.8 2408.4 C556.8 2406.0 560.3 2403.5 563.5 2401.4 C566.8 2399.2 570.4 2397.2 573.3 2395.5 C576.2 2393.9 578.5 2392.9 581.1 2391.6 C583.7 2390.3 587.0 2388.5 588.9 2387.7 C590.9 2386.9 591.2 2386.0 592.8 2386.9 C594.5 2387.9 596.8 2391.0 598.7 2393.6 C600.7 2396.2 602.3 2399.3 604.6 2402.6 C606.8 2405.8 609.8 2409.7 612.4 2413.1 C615.0 2416.5 617.3 2419.8 620.2 2422.9 C623.1 2426.0 626.7 2429.0 630.0 2431.5 C633.2 2434.0 636.5 2436.1 639.7 2437.7 C643.0 2439.4 646.3 2440.6 649.5 2441.3 C652.7 2441.9 657.4 2441.6 659.0 2441.7" fill="none" stroke="#c81a70" stroke-width="2.8" stroke-linecap="butt" stroke-linejoin="round"/>
</g>
<clipPath id="k16_3"><rect x="678.9" y="2332.7" width="144.6" height="144.4"/></clipPath>
<g clip-path="url(#k16_3)">
<path d="M688.6 2398.7 C689.4 2399.1 691.2 2401.6 693.6 2401.4 C696.1 2401.2 700.1 2399.1 703.4 2397.5 C706.7 2395.9 709.6 2393.4 713.2 2391.6 C716.8 2389.9 721.0 2388.1 724.9 2386.9 C728.8 2385.8 732.7 2384.8 736.6 2384.6 C740.5 2384.4 744.4 2385.2 748.4 2385.8 C752.3 2386.3 756.2 2386.7 760.1 2387.7 C764.0 2388.7 767.9 2391.1 771.8 2391.6 C775.7 2392.1 779.9 2391.5 783.5 2390.8 C787.1 2390.2 790.4 2390.2 793.3 2387.7 C796.2 2385.2 799.4 2379.2 801.1 2376.0 C802.9 2372.7 803.4 2369.5 803.8 2368.2 L803.8 2430.7 C803.4 2430.4 802.5 2429.5 801.1 2428.8 C799.7 2428.0 797.9 2426.7 795.3 2426.0 C792.6 2425.4 788.7 2424.6 785.5 2424.8 C782.2 2425.1 779.0 2427.1 775.7 2427.6 C772.5 2428.0 769.2 2428.2 765.9 2427.6 C762.7 2426.9 759.4 2425.2 756.2 2423.7 C752.9 2422.1 749.7 2419.3 746.4 2418.2 C743.1 2417.1 739.9 2416.6 736.6 2417.0 C733.4 2417.5 730.1 2419.3 726.9 2420.9 C723.6 2422.6 720.7 2425.2 717.1 2426.8 C713.5 2428.4 708.9 2429.1 705.4 2430.7 C701.8 2432.3 698.4 2433.6 695.6 2436.6 C692.8 2439.5 689.7 2446.3 688.6 2448.3 Z" fill="#f6b3d5"/>
<path d="M688.9 2423.7 C690.3 2422.8 694.5 2420.0 697.5 2418.2 C700.6 2416.4 704.1 2414.8 707.3 2413.1 C710.6 2411.4 713.8 2409.5 717.1 2408.0 C720.3 2406.5 723.6 2405.1 726.9 2404.1 C730.1 2403.2 733.4 2402.4 736.6 2402.2 C739.9 2401.9 743.1 2402.0 746.4 2402.6 C749.7 2403.1 752.9 2404.4 756.2 2405.3 C759.4 2406.2 762.7 2407.4 765.9 2408.0 C769.2 2408.7 772.5 2409.3 775.7 2409.2 C779.0 2409.1 782.2 2408.1 785.5 2407.3 C788.7 2406.4 792.2 2405.6 795.3 2404.1 C798.3 2402.7 802.2 2399.6 803.5 2398.7" fill="none" stroke="#c81a70" stroke-width="2.8" stroke-linecap="butt" stroke-linejoin="round"/>
</g>
<clipPath id="k16_4"><rect x="823.5" y="2332.7" width="144.5" height="144.4"/></clipPath>
<g clip-path="url(#k16_4)">
<path d="M833.9 2376.8 C834.7 2377.9 836.2 2380.6 838.2 2383.8 C840.3 2387.1 842.8 2393.1 846.1 2396.3 C849.3 2399.6 853.9 2401.2 857.8 2403.4 C861.7 2405.5 865.6 2407.9 869.5 2409.2 C873.4 2410.5 877.3 2410.8 881.2 2411.2 C885.1 2411.5 889.1 2411.5 893.0 2411.2 C896.9 2410.8 901.1 2410.0 904.7 2409.2 C908.3 2408.4 911.5 2407.8 914.5 2406.5 C917.4 2405.2 919.3 2402.4 922.3 2401.4 C925.2 2400.4 928.8 2399.8 932.0 2400.2 C935.3 2400.7 939.1 2403.5 941.8 2404.1 C944.5 2404.8 947.4 2404.1 948.5 2404.1 L948.5 2445.6 C948.0 2445.0 947.5 2443.9 945.7 2442.4 C944.0 2440.9 940.8 2437.7 937.9 2436.6 C935.0 2435.4 931.4 2435.6 928.1 2435.4 C924.9 2435.2 921.6 2435.0 918.4 2435.4 C915.1 2435.8 912.2 2436.9 908.6 2437.7 C905.0 2438.6 900.8 2440.2 896.9 2440.5 C893.0 2440.7 889.1 2439.6 885.1 2439.3 C881.2 2439.0 877.3 2439.2 873.4 2438.5 C869.5 2437.9 865.6 2436.4 861.7 2435.4 C857.8 2434.4 853.6 2433.4 850.0 2432.7 C846.4 2431.9 842.9 2430.3 840.2 2430.7 C837.5 2431.2 835.0 2434.6 833.9 2435.4 Z" fill="#f6b3d5"/>
<path d="M834.2 2405.3 C835.6 2406.2 839.2 2408.6 842.2 2410.4 C845.1 2412.1 848.7 2414.3 851.9 2415.9 C855.2 2417.4 858.4 2418.6 861.7 2419.8 C864.9 2420.9 868.2 2422.2 871.5 2422.9 C874.7 2423.5 878.0 2423.5 881.2 2423.7 C884.5 2423.8 888.1 2423.5 891.0 2423.7 C893.9 2423.9 896.2 2424.8 898.8 2424.8 C901.4 2424.8 904.0 2424.3 906.6 2423.7 C909.2 2423.0 912.2 2422.0 914.5 2420.9 C916.7 2419.8 918.0 2417.8 920.3 2417.0 C922.6 2416.2 925.2 2416.1 928.1 2416.2 C931.1 2416.4 934.6 2416.9 937.9 2418.2 C941.2 2419.5 946.4 2423.1 948.2 2424.1" fill="none" stroke="#c81a70" stroke-width="2.8" stroke-linecap="butt" stroke-linejoin="round"/>
</g>
<clipPath id="k16_5"><rect x="968.0" y="2332.7" width="144.3" height="144.4"/></clipPath>
<g clip-path="url(#k16_5)">
<path d="M977.8 2402.6 C978.6 2404.0 980.1 2409.4 982.9 2411.2 C985.7 2412.9 990.0 2412.8 994.6 2413.1 C999.1 2413.4 1005.7 2413.4 1010.2 2413.1 C1014.8 2412.8 1018.7 2412.5 1021.9 2411.2 C1025.2 2409.9 1027.1 2407.6 1029.8 2405.3 C1032.4 2403.0 1034.6 2399.9 1037.6 2397.5 C1040.5 2395.1 1044.1 2393.0 1047.3 2390.8 C1050.6 2388.7 1053.9 2386.7 1057.1 2384.6 C1060.4 2382.4 1064.0 2379.7 1066.9 2377.9 C1069.8 2376.2 1072.1 2375.0 1074.7 2374.0 C1077.3 2373.1 1080.2 2374.7 1082.5 2372.1 C1084.8 2369.5 1086.7 2364.3 1088.4 2358.4 C1090.0 2352.5 1091.6 2340.5 1092.3 2336.9 L1093.1 2405.3 C1092.8 2405.1 1092.6 2405.1 1091.5 2404.1 C1090.4 2403.2 1088.6 2399.2 1086.4 2399.4 C1084.3 2399.6 1081.2 2403.4 1078.6 2405.3 C1076.0 2407.3 1073.7 2409.9 1070.8 2411.2 C1067.9 2412.5 1064.3 2412.1 1061.0 2413.1 C1057.8 2414.1 1054.5 2415.4 1051.2 2417.0 C1048.0 2418.7 1044.7 2420.6 1041.5 2422.9 C1038.2 2425.2 1035.0 2428.4 1031.7 2430.7 C1028.4 2433.0 1025.5 2435.4 1021.9 2436.6 C1018.4 2437.7 1014.4 2437.4 1010.2 2437.7 C1006.0 2438.1 1000.8 2438.1 996.5 2438.5 C992.3 2439.0 987.9 2438.5 984.8 2440.5 C981.7 2442.4 978.9 2448.6 977.8 2450.3 Z" fill="#f6b3d5"/>
<path d="M978.1 2426.0 C980.2 2426.0 986.0 2425.8 990.7 2425.6 C995.4 2425.4 1001.7 2425.1 1006.3 2424.8 C1010.9 2424.6 1014.8 2424.5 1018.0 2424.1 C1021.3 2423.6 1023.2 2423.6 1025.8 2422.1 C1028.4 2420.6 1031.1 2417.2 1033.7 2415.1 C1036.3 2412.9 1038.5 2411.2 1041.5 2409.2 C1044.4 2407.3 1048.0 2405.0 1051.2 2403.4 C1054.5 2401.7 1058.1 2400.7 1061.0 2399.4 C1064.0 2398.1 1066.2 2397.5 1068.8 2395.5 C1071.4 2393.6 1074.0 2390.5 1076.7 2387.7 C1079.3 2385.0 1081.9 2382.4 1084.5 2379.1 C1087.0 2375.9 1090.7 2370.0 1092.0 2368.2" fill="none" stroke="#c81a70" stroke-width="2.8" stroke-linecap="butt" stroke-linejoin="round"/>
</g>
<g stroke="#989898" stroke-width="1.7"><line x1="389.8" y1="22.0" x2="389.8" y2="2477.1"/><line x1="534.4" y1="22.0" x2="534.4" y2="2477.1"/><line x1="678.9" y1="22.0" x2="678.9" y2="2477.1"/><line x1="823.5" y1="22.0" x2="823.5" y2="2477.1"/><line x1="968.0" y1="22.0" x2="968.0" y2="2477.1"/></g>
<g stroke="#6c6c6c" stroke-width="1.2"><line x1="245.4" y1="166.4" x2="1112.3" y2="166.4"/><line x1="245.4" y1="310.8" x2="1112.3" y2="310.8"/><line x1="245.4" y1="455.3" x2="1112.3" y2="455.3"/><line x1="245.4" y1="599.7" x2="1112.3" y2="599.7"/><line x1="245.4" y1="744.1" x2="1112.3" y2="744.1"/><line x1="245.4" y1="888.5" x2="1112.3" y2="888.5"/><line x1="245.4" y1="1032.9" x2="1112.3" y2="1032.9"/><line x1="245.4" y1="1177.4" x2="1112.3" y2="1177.4"/><line x1="245.4" y1="1321.8" x2="1112.3" y2="1321.8"/><line x1="245.4" y1="1466.2" x2="1112.3" y2="1466.2"/><line x1="245.4" y1="1610.6" x2="1112.3" y2="1610.6"/><line x1="245.4" y1="1755.0" x2="1112.3" y2="1755.0"/><line x1="245.4" y1="1899.5" x2="1112.3" y2="1899.5"/><line x1="245.4" y1="2043.9" x2="1112.3" y2="2043.9"/><line x1="245.4" y1="2188.3" x2="1112.3" y2="2188.3"/><line x1="245.4" y1="2332.7" x2="1112.3" y2="2332.7"/></g>
<g stroke="#7a7a7a" stroke-width="1.2"><line x1="238.8" y1="28.3" x2="245.4" y2="28.3"/><line x1="238.8" y1="61.2" x2="245.4" y2="61.2"/><line x1="238.8" y1="94.2" x2="245.4" y2="94.2"/><line x1="238.8" y1="127.2" x2="245.4" y2="127.2"/><line x1="238.8" y1="160.1" x2="245.4" y2="160.1"/><line x1="238.8" y1="172.7" x2="245.4" y2="172.7"/><line x1="238.8" y1="205.7" x2="245.4" y2="205.7"/><line x1="238.8" y1="238.6" x2="245.4" y2="238.6"/><line x1="238.8" y1="271.6" x2="245.4" y2="271.6"/><line x1="238.8" y1="304.5" x2="245.4" y2="304.5"/><line x1="238.8" y1="317.1" x2="245.4" y2="317.1"/><line x1="238.8" y1="350.1" x2="245.4" y2="350.1"/><line x1="238.8" y1="383.0" x2="245.4" y2="383.0"/><line x1="238.8" y1="416.0" x2="245.4" y2="416.0"/><line x1="238.8" y1="448.9" x2="245.4" y2="448.9"/><line x1="238.8" y1="461.6" x2="245.4" y2="461.6"/><line x1="238.8" y1="494.5" x2="245.4" y2="494.5"/><line x1="238.8" y1="527.5" x2="245.4" y2="527.5"/><line x1="238.8" y1="560.4" x2="245.4" y2="560.4"/><line x1="238.8" y1="593.4" x2="245.4" y2="593.4"/><line x1="238.8" y1="606.0" x2="245.4" y2="606.0"/><line x1="238.8" y1="638.9" x2="245.4" y2="638.9"/><line x1="238.8" y1="671.9" x2="245.4" y2="671.9"/><line x1="238.8" y1="704.8" x2="245.4" y2="704.8"/><line x1="238.8" y1="737.8" x2="245.4" y2="737.8"/><line x1="238.8" y1="750.4" x2="245.4" y2="750.4"/><line x1="238.8" y1="783.3" x2="245.4" y2="783.3"/><line x1="238.8" y1="816.3" x2="245.4" y2="816.3"/><line x1="238.8" y1="849.2" x2="245.4" y2="849.2"/><line x1="238.8" y1="882.2" x2="245.4" y2="882.2"/><line x1="238.8" y1="894.8" x2="245.4" y2="894.8"/><line x1="238.8" y1="927.8" x2="245.4" y2="927.8"/><line x1="238.8" y1="960.7" x2="245.4" y2="960.7"/><line x1="238.8" y1="993.7" x2="245.4" y2="993.7"/><line x1="238.8" y1="1026.6" x2="245.4" y2="1026.6"/><line x1="238.8" y1="1039.2" x2="245.4" y2="1039.2"/><line x1="238.8" y1="1072.2" x2="245.4" y2="1072.2"/><line x1="238.8" y1="1105.1" x2="245.4" y2="1105.1"/><line x1="238.8" y1="1138.1" x2="245.4" y2="1138.1"/><line x1="238.8" y1="1171.0" x2="245.4" y2="1171.0"/><line x1="238.8" y1="1183.7" x2="245.4" y2="1183.7"/><line x1="238.8" y1="1216.6" x2="245.4" y2="1216.6"/><line x1="238.8" y1="1249.6" x2="245.4" y2="1249.6"/><line x1="238.8" y1="1282.5" x2="245.4" y2="1282.5"/><line x1="238.8" y1="1315.5" x2="245.4" y2="1315.5"/><line x1="238.8" y1="1328.1" x2="245.4" y2="1328.1"/><line x1="238.8" y1="1361.0" x2="245.4" y2="1361.0"/><line x1="238.8" y1="1394.0" x2="245.4" y2="1394.0"/><line x1="238.8" y1="1426.9" x2="245.4" y2="1426.9"/><line x1="238.8" y1="1459.9" x2="245.4" y2="1459.9"/><line x1="238.8" y1="1472.5" x2="245.4" y2="1472.5"/><line x1="238.8" y1="1505.4" x2="245.4" y2="1505.4"/><line x1="238.8" y1="1538.4" x2="245.4" y2="1538.4"/><line x1="238.8" y1="1571.3" x2="245.4" y2="1571.3"/><line x1="238.8" y1="1604.3" x2="245.4" y2="1604.3"/><line x1="238.8" y1="1616.9" x2="245.4" y2="1616.9"/><line x1="238.8" y1="1649.9" x2="245.4" y2="1649.9"/><line x1="238.8" y1="1682.8" x2="245.4" y2="1682.8"/><line x1="238.8" y1="1715.8" x2="245.4" y2="1715.8"/><line x1="238.8" y1="1748.7" x2="245.4" y2="1748.7"/><line x1="238.8" y1="1761.3" x2="245.4" y2="1761.3"/><line x1="238.8" y1="1794.3" x2="245.4" y2="1794.3"/><line x1="238.8" y1="1827.2" x2="245.4" y2="1827.2"/><line x1="238.8" y1="1860.2" x2="245.4" y2="1860.2"/><line x1="238.8" y1="1893.1" x2="245.4" y2="1893.1"/><line x1="238.8" y1="1905.8" x2="245.4" y2="1905.8"/><line x1="238.8" y1="1938.7" x2="245.4" y2="1938.7"/><line x1="238.8" y1="1971.7" x2="245.4" y2="1971.7"/><line x1="238.8" y1="2004.6" x2="245.4" y2="2004.6"/><line x1="238.8" y1="2037.6" x2="245.4" y2="2037.6"/><line x1="238.8" y1="2050.2" x2="245.4" y2="2050.2"/><line x1="238.8" y1="2083.1" x2="245.4" y2="2083.1"/><line x1="238.8" y1="2116.1" x2="245.4" y2="2116.1"/><line x1="238.8" y1="2149.0" x2="245.4" y2="2149.0"/><line x1="238.8" y1="2182.0" x2="245.4" y2="2182.0"/><line x1="238.8" y1="2194.6" x2="245.4" y2="2194.6"/><line x1="238.8" y1="2227.5" x2="245.4" y2="2227.5"/><line x1="238.8" y1="2260.5" x2="245.4" y2="2260.5"/><line x1="238.8" y1="2293.4" x2="245.4" y2="2293.4"/><line x1="238.8" y1="2326.4" x2="245.4" y2="2326.4"/><line x1="238.8" y1="2339.0" x2="245.4" y2="2339.0"/><line x1="238.8" y1="2372.0" x2="245.4" y2="2372.0"/><line x1="238.8" y1="2404.9" x2="245.4" y2="2404.9"/><line x1="238.8" y1="2437.9" x2="245.4" y2="2437.9"/><line x1="238.8" y1="2470.8" x2="245.4" y2="2470.8"/><line x1="250.9" y1="2477.1" x2="250.9" y2="2484.1"/><line x1="283.8" y1="2477.1" x2="283.8" y2="2484.1"/><line x1="316.8" y1="2477.1" x2="316.8" y2="2484.1"/><line x1="349.7" y1="2477.1" x2="349.7" y2="2484.1"/><line x1="382.6" y1="2477.1" x2="382.6" y2="2484.1"/><line x1="397.5" y1="2477.1" x2="397.5" y2="2484.1"/><line x1="430.4" y1="2477.1" x2="430.4" y2="2484.1"/><line x1="463.4" y1="2477.1" x2="463.4" y2="2484.1"/><line x1="496.3" y1="2477.1" x2="496.3" y2="2484.1"/><line x1="529.2" y1="2477.1" x2="529.2" y2="2484.1"/><line x1="540.8" y1="2477.1" x2="540.8" y2="2484.1"/><line x1="573.7" y1="2477.1" x2="573.7" y2="2484.1"/><line x1="606.6" y1="2477.1" x2="606.6" y2="2484.1"/><line x1="639.6" y1="2477.1" x2="639.6" y2="2484.1"/><line x1="672.5" y1="2477.1" x2="672.5" y2="2484.1"/><line x1="686.4" y1="2477.1" x2="686.4" y2="2484.1"/><line x1="719.3" y1="2477.1" x2="719.3" y2="2484.1"/><line x1="752.2" y1="2477.1" x2="752.2" y2="2484.1"/><line x1="785.2" y1="2477.1" x2="785.2" y2="2484.1"/><line x1="818.1" y1="2477.1" x2="818.1" y2="2484.1"/><line x1="829.5" y1="2477.1" x2="829.5" y2="2484.1"/><line x1="862.4" y1="2477.1" x2="862.4" y2="2484.1"/><line x1="895.4" y1="2477.1" x2="895.4" y2="2484.1"/><line x1="928.3" y1="2477.1" x2="928.3" y2="2484.1"/><line x1="961.2" y1="2477.1" x2="961.2" y2="2484.1"/><line x1="976.6" y1="2477.1" x2="976.6" y2="2484.1"/><line x1="1009.5" y1="2477.1" x2="1009.5" y2="2484.1"/><line x1="1042.5" y1="2477.1" x2="1042.5" y2="2484.1"/><line x1="1075.4" y1="2477.1" x2="1075.4" y2="2484.1"/><line x1="1108.3" y1="2477.1" x2="1108.3" y2="2484.1"/></g>
<g stroke="#8e8e8e" stroke-width="1.25"><line x1="245.4" y1="22.0" x2="245.4" y2="2477.1"/><line x1="1112.3" y1="22.0" x2="1112.3" y2="2477.1"/><line x1="245.4" y1="22.0" x2="1112.3" y2="22.0"/><line x1="245.4" y1="2477.1" x2="1112.3" y2="2477.1"/></g>
<g fill="#111" style="font-family:'Liberation Sans',sans-serif"><text x="318.0" y="13" font-size="16.5" text-anchor="middle">All genes</text><text x="462.4" y="13" font-size="16.5" text-anchor="middle">Cluster1</text><text x="611.8" y="13" font-size="16.5" text-anchor="middle">Cluster2</text><text x="752.9" y="13" font-size="16.5" text-anchor="middle">Cluster3</text><text x="899.6" y="13" font-size="16.5" text-anchor="middle">Cluster4</text><text x="1040.8" y="13" font-size="16.5" text-anchor="middle">Cluster5</text><text x="88" y="104.2" font-size="28" text-anchor="middle">Bone</text><text transform="translate(210.2 91.2) rotate(-90)" font-size="21" text-anchor="middle">Z-score</text><text transform="translate(236.4 29.9) rotate(-90)" font-size="16.5" text-anchor="middle">1</text><text transform="translate(236.4 61.2) rotate(-90)" font-size="16.5" text-anchor="middle">0.5</text><text transform="translate(236.4 94.2) rotate(-90)" font-size="16.5" text-anchor="middle">0</text><text transform="translate(236.4 127.2) rotate(-90)" font-size="16.5" text-anchor="middle">-0.5</text><text transform="translate(236.4 161.7) rotate(-90)" font-size="16.5" text-anchor="middle">-1</text><text x="88" y="249.6" font-size="28" text-anchor="middle">Brain</text><text transform="translate(210.2 235.6) rotate(-90)" font-size="21" text-anchor="middle">Z-score</text><text transform="translate(236.4 174.3) rotate(-90)" font-size="16.5" text-anchor="middle">1</text><text transform="translate(236.4 205.7) rotate(-90)" font-size="16.5" text-anchor="middle">0.5</text><text transform="translate(236.4 238.6) rotate(-90)" font-size="16.5" text-anchor="middle">0</text><text transform="translate(236.4 271.6) rotate(-90)" font-size="16.5" text-anchor="middle">-0.5</text><text transform="translate(236.4 306.1) rotate(-90)" font-size="16.5" text-anchor="middle">-1</text><text x="88" y="377.3" font-size="28" text-anchor="middle">Brown</text><text x="88" y="412.7" font-size="28" text-anchor="middle">Fat</text><text transform="translate(210.2 380.0) rotate(-90)" font-size="21" text-anchor="middle">Z-score</text><text transform="translate(236.4 318.7) rotate(-90)" font-size="16.5" text-anchor="middle">1</text><text transform="translate(236.4 350.1) rotate(-90)" font-size="16.5" text-anchor="middle">0.5</text><text transform="translate(236.4 383.0) rotate(-90)" font-size="16.5" text-anchor="middle">0</text><text transform="translate(236.4 416.0) rotate(-90)" font-size="16.5" text-anchor="middle">-0.5</text><text transform="translate(236.4 450.5) rotate(-90)" font-size="16.5" text-anchor="middle">-1</text><text x="88" y="522.6" font-size="28" text-anchor="middle">Gonadal</text><text x="88" y="558.1" font-size="28" text-anchor="middle">Fat</text><text transform="translate(210.2 524.5) rotate(-90)" font-size="21" text-anchor="middle">Z-score</text><text transform="translate(236.4 463.2) rotate(-90)" font-size="16.5" text-anchor="middle">1</text><text transform="translate(236.4 494.5) rotate(-90)" font-size="16.5" text-anchor="middle">0.5</text><text transform="translate(236.4 527.5) rotate(-90)" font-size="16.5" text-anchor="middle">0</text><text transform="translate(236.4 560.4) rotate(-90)" font-size="16.5" text-anchor="middle">-0.5</text><text transform="translate(236.4 595.0) rotate(-90)" font-size="16.5" text-anchor="middle">-1</text><text x="88" y="685.8" font-size="28" text-anchor="middle">Heart</text><text transform="translate(210.2 668.9) rotate(-90)" font-size="21" text-anchor="middle">Z-score</text><text transform="translate(236.4 607.6) rotate(-90)" font-size="16.5" text-anchor="middle">1</text><text transform="translate(236.4 638.9) rotate(-90)" font-size="16.5" text-anchor="middle">0.5</text><text transform="translate(236.4 671.9) rotate(-90)" font-size="16.5" text-anchor="middle">0</text><text transform="translate(236.4 704.8) rotate(-90)" font-size="16.5" text-anchor="middle">-0.5</text><text transform="translate(236.4 739.4) rotate(-90)" font-size="16.5" text-anchor="middle">-1</text><text x="88" y="831.1" font-size="28" text-anchor="middle">Kidney</text><text transform="translate(210.2 813.3) rotate(-90)" font-size="21" text-anchor="middle">Z-score</text><text transform="translate(236.4 752.0) rotate(-90)" font-size="16.5" text-anchor="middle">1</text><text transform="translate(236.4 783.3) rotate(-90)" font-size="16.5" text-anchor="middle">0.5</text><text transform="translate(236.4 816.3) rotate(-90)" font-size="16.5" text-anchor="middle">0</text><text transform="translate(236.4 849.2) rotate(-90)" font-size="16.5" text-anchor="middle">-0.5</text><text transform="translate(236.4 883.8) rotate(-90)" font-size="16.5" text-anchor="middle">-1</text><text x="88" y="958.9" font-size="28" text-anchor="middle">Limb</text><text x="88" y="994.3" font-size="28" text-anchor="middle">Muscle</text><text transform="translate(210.2 957.7) rotate(-90)" font-size="21" text-anchor="middle">Z-score</text><text transform="translate(236.4 896.4) rotate(-90)" font-size="16.5" text-anchor="middle">1</text><text transform="translate(236.4 927.8) rotate(-90)" font-size="16.5" text-anchor="middle">0.5</text><text transform="translate(236.4 960.7) rotate(-90)" font-size="16.5" text-anchor="middle">0</text><text transform="translate(236.4 993.7) rotate(-90)" font-size="16.5" text-anchor="middle">-0.5</text><text transform="translate(236.4 1028.2) rotate(-90)" font-size="16.5" text-anchor="middle">-1</text><text x="88" y="1122.0" font-size="28" text-anchor="middle">Liver</text><text transform="translate(210.2 1102.1) rotate(-90)" font-size="21" text-anchor="middle">Z-score</text><text transform="translate(236.4 1040.8) rotate(-90)" font-size="16.5" text-anchor="middle">1</text><text transform="translate(236.4 1072.2) rotate(-90)" font-size="16.5" text-anchor="middle">0.5</text><text transform="translate(236.4 1105.1) rotate(-90)" font-size="16.5" text-anchor="middle">0</text><text transform="translate(236.4 1138.1) rotate(-90)" font-size="16.5" text-anchor="middle">-0.5</text><text transform="translate(236.4 1172.6) rotate(-90)" font-size="16.5" text-anchor="middle">-1</text><text x="88" y="1267.4" font-size="28" text-anchor="middle">Lung</text><text transform="translate(210.2 1246.6) rotate(-90)" font-size="21" text-anchor="middle">Z-score</text><text transform="translate(236.4 1185.3) rotate(-90)" font-size="16.5" text-anchor="middle">1</text><text transform="translate(236.4 1216.6) rotate(-90)" font-size="16.5" text-anchor="middle">0.5</text><text transform="translate(236.4 1249.6) rotate(-90)" font-size="16.5" text-anchor="middle">0</text><text transform="translate(236.4 1282.5) rotate(-90)" font-size="16.5" text-anchor="middle">-0.5</text><text transform="translate(236.4 1317.1) rotate(-90)" font-size="16.5" text-anchor="middle">-1</text><text x="88" y="1412.8" font-size="28" text-anchor="middle">Marrow</text><text transform="translate(210.2 1391.0) rotate(-90)" font-size="21" text-anchor="middle">Z-score</text><text transform="translate(236.4 1329.7) rotate(-90)" font-size="16.5" text-anchor="middle">1</text><text transform="translate(236.4 1361.0) rotate(-90)" font-size="16.5" text-anchor="middle">0.5</text><text transform="translate(236.4 1394.0) rotate(-90)" font-size="16.5" text-anchor="middle">0</text><text transform="translate(236.4 1426.9) rotate(-90)" font-size="16.5" text-anchor="middle">-0.5</text><text transform="translate(236.4 1461.5) rotate(-90)" font-size="16.5" text-anchor="middle">-1</text><text x="88" y="1540.5" font-size="28" text-anchor="middle">Mesenteric</text><text x="88" y="1575.9" font-size="28" text-anchor="middle">Fat</text><text transform="translate(210.2 1535.4) rotate(-90)" font-size="21" text-anchor="middle">Z-score</text><text transform="translate(236.4 1474.1) rotate(-90)" font-size="16.5" text-anchor="middle">1</text><text transform="translate(236.4 1505.4) rotate(-90)" font-size="16.5" text-anchor="middle">0.5</text><text transform="translate(236.4 1538.4) rotate(-90)" font-size="16.5" text-anchor="middle">0</text><text transform="translate(236.4 1571.3) rotate(-90)" font-size="16.5" text-anchor="middle">-0.5</text><text transform="translate(236.4 1605.9) rotate(-90)" font-size="16.5" text-anchor="middle">-1</text><text x="88" y="1703.6" font-size="28" text-anchor="middle">Pancreas</text><text transform="translate(210.2 1679.8) rotate(-90)" font-size="21" text-anchor="middle">Z-score</text><text transform="translate(236.4 1618.5) rotate(-90)" font-size="16.5" text-anchor="middle">1</text><text transform="translate(236.4 1649.9) rotate(-90)" font-size="16.5" text-anchor="middle">0.5</text><text transform="translate(236.4 1682.8) rotate(-90)" font-size="16.5" text-anchor="middle">0</text><text transform="translate(236.4 1715.8) rotate(-90)" font-size="16.5" text-anchor="middle">-0.5</text><text transform="translate(236.4 1750.3) rotate(-90)" font-size="16.5" text-anchor="middle">-1</text><text x="88" y="1849.0" font-size="28" text-anchor="middle">Skin</text><text transform="translate(210.2 1824.2) rotate(-90)" font-size="21" text-anchor="middle">Z-score</text><text transform="translate(236.4 1762.9) rotate(-90)" font-size="16.5" text-anchor="middle">1</text><text transform="translate(236.4 1794.3) rotate(-90)" font-size="16.5" text-anchor="middle">0.5</text><text transform="translate(236.4 1827.2) rotate(-90)" font-size="16.5" text-anchor="middle">0</text><text transform="translate(236.4 1860.2) rotate(-90)" font-size="16.5" text-anchor="middle">-0.5</text><text transform="translate(236.4 1894.7) rotate(-90)" font-size="16.5" text-anchor="middle">-1</text><text x="88" y="1976.7" font-size="28" text-anchor="middle">Small</text><text x="88" y="2012.1" font-size="28" text-anchor="middle">Intestine</text><text transform="translate(210.2 1968.7) rotate(-90)" font-size="21" text-anchor="middle">Z-score</text><text transform="translate(236.4 1907.4) rotate(-90)" font-size="16.5" text-anchor="middle">1</text><text transform="translate(236.4 1938.7) rotate(-90)" font-size="16.5" text-anchor="middle">0.5</text><text transform="translate(236.4 1971.7) rotate(-90)" font-size="16.5" text-anchor="middle">0</text><text transform="translate(236.4 2004.6) rotate(-90)" font-size="16.5" text-anchor="middle">-0.5</text><text transform="translate(236.4 2039.2) rotate(-90)" font-size="16.5" text-anchor="middle">-1</text><text x="88" y="2139.8" font-size="28" text-anchor="middle">Spleen</text><text transform="translate(210.2 2113.1) rotate(-90)" font-size="21" text-anchor="middle">Z-score</text><text transform="translate(236.4 2051.8) rotate(-90)" font-size="16.5" text-anchor="middle">1</text><text transform="translate(236.4 2083.1) rotate(-90)" font-size="16.5" text-anchor="middle">0.5</text><text transform="translate(236.4 2116.1) rotate(-90)" font-size="16.5" text-anchor="middle">0</text><text transform="translate(236.4 2149.0) rotate(-90)" font-size="16.5" text-anchor="middle">-0.5</text><text transform="translate(236.4 2183.6) rotate(-90)" font-size="16.5" text-anchor="middle">-1</text><text x="88" y="2267.5" font-size="28" text-anchor="middle">Subcutaneous</text><text x="88" y="2302.8" font-size="28" text-anchor="middle">Fat</text><text transform="translate(210.2 2257.5) rotate(-90)" font-size="21" text-anchor="middle">Z-score</text><text transform="translate(236.4 2196.2) rotate(-90)" font-size="16.5" text-anchor="middle">1</text><text transform="translate(236.4 2227.5) rotate(-90)" font-size="16.5" text-anchor="middle">0.5</text><text transform="translate(236.4 2260.5) rotate(-90)" font-size="16.5" text-anchor="middle">0</text><text transform="translate(236.4 2293.4) rotate(-90)" font-size="16.5" text-anchor="middle">-0.5</text><text transform="translate(236.4 2328.0) rotate(-90)" font-size="16.5" text-anchor="middle">-1</text><text x="88" y="2395.2" font-size="28" text-anchor="middle">White</text><text x="88" y="2430.6" font-size="28" text-anchor="middle">Blood</text><text x="88" y="2466.0" font-size="28" text-anchor="middle">Cells</text><text transform="translate(210.2 2401.9) rotate(-90)" font-size="21" text-anchor="middle">Z-score</text><text transform="translate(236.4 2340.6) rotate(-90)" font-size="16.5" text-anchor="middle">1</text><text transform="translate(236.4 2372.0) rotate(-90)" font-size="16.5" text-anchor="middle">0.5</text><text transform="translate(236.4 2404.9) rotate(-90)" font-size="16.5" text-anchor="middle">0</text><text transform="translate(236.4 2437.9) rotate(-90)" font-size="16.5" text-anchor="middle">-0.5</text><text transform="translate(236.4 2472.4) rotate(-90)" font-size="16.5" text-anchor="middle">-1</text><text x="252.4" y="2499.3" font-size="16.5" text-anchor="middle">0</text><text x="317.8" y="2499.3" font-size="16.5" text-anchor="middle">15</text><text x="376.6" y="2499.3" font-size="16.5" text-anchor="middle">30</text><text x="399.0" y="2499.3" font-size="16.5" text-anchor="middle">0</text><text x="464.4" y="2499.3" font-size="16.5" text-anchor="middle">15</text><text x="523.2" y="2499.3" font-size="16.5" text-anchor="middle">30</text><text x="542.3" y="2499.3" font-size="16.5" text-anchor="middle">0</text><text x="607.6" y="2499.3" font-size="16.5" text-anchor="middle">15</text><text x="666.5" y="2499.3" font-size="16.5" text-anchor="middle">30</text><text x="687.9" y="2499.3" font-size="16.5" text-anchor="middle">0</text><text x="753.2" y="2499.3" font-size="16.5" text-anchor="middle">15</text><text x="812.1" y="2499.3" font-size="16.5" text-anchor="middle">30</text><text x="831.0" y="2499.3" font-size="16.5" text-anchor="middle">0</text><text x="896.4" y="2499.3" font-size="16.5" text-anchor="middle">15</text><text x="955.2" y="2499.3" font-size="16.5" text-anchor="middle">30</text><text x="978.1" y="2499.3" font-size="16.5" text-anchor="middle">0</text><text x="1043.5" y="2499.3" font-size="16.5" text-anchor="middle">15</text><text x="1102.3" y="2499.3" font-size="16.5" text-anchor="middle">30</text><text x="673.4" y="2516.6" font-size="17" text-anchor="middle">Age (months)</text></g>
</svg>
</body></html>
